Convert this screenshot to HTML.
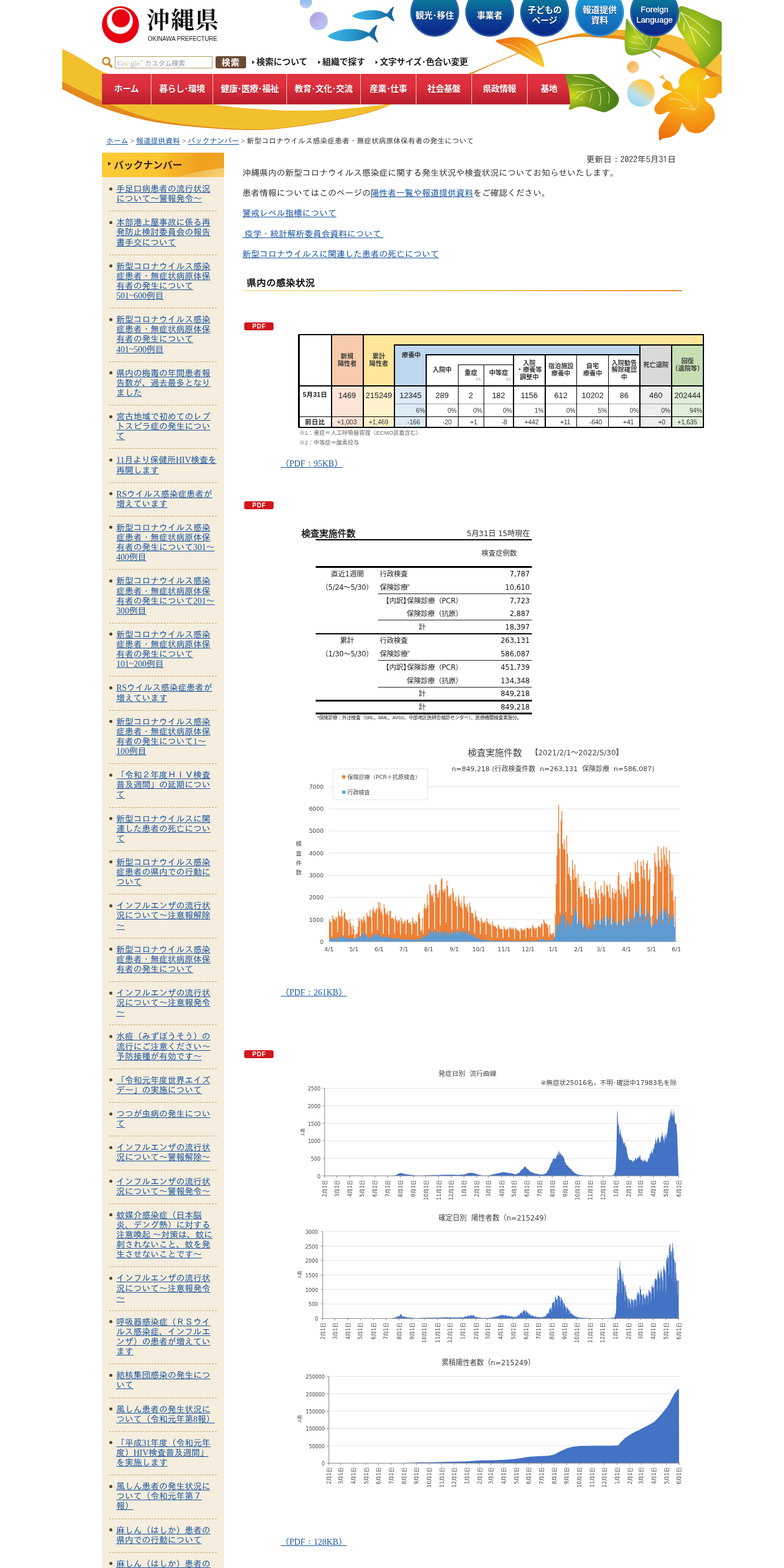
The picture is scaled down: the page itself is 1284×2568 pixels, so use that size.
<!DOCTYPE html>
<html lang="ja"><head><meta charset="utf-8"><title>新型コロナウイルス感染症患者・無症状病原体保有者の発生について／沖縄県</title>
<style>
*{box-sizing:border-box;margin:0;padding:0}
html,body{width:1284px;height:2568px;overflow:hidden;background:#fff}
body{position:relative;font-family:"Liberation Serif","IPAGothic",serif;font-size:14px;color:#333;line-height:16px}
a{color:#17539f;text-decoration:underline}
.abs{position:absolute}
.g{font-family:"IPAGothic","Liberation Serif",serif}
.sans{font-family:"Liberation Sans","Noto Sans CJK JP",sans-serif}
.nb{white-space:nowrap}
#hdr{position:absolute;left:0;top:0;width:1284px;height:250px;overflow:hidden}
#hdr svg{position:absolute;left:0;top:0}
.logo-t{position:absolute;left:240px;top:5px;font-family:"Liberation Serif","Noto Serif CJK SC",serif;font-weight:700;font-size:38px;line-height:56px;letter-spacing:2px;color:#111;white-space:nowrap}
.logo-e{position:absolute;left:242px;top:57px;font-family:"Liberation Sans","Noto Sans CJK JP",sans-serif;font-size:10px;line-height:14px;color:#222;white-space:nowrap;letter-spacing:-.15px}
.sbox{position:absolute;left:188px;top:92px;width:160px;height:20px;border:1px solid #b59c63;background:#fff;font-size:13px;line-height:15px;color:#8a8f99;white-space:nowrap;padding-left:3px;overflow:hidden}
.sbtn{position:absolute;left:353px;top:92px;width:50px;height:20px;border-radius:3px;background:#6c4a36;color:#fff;font-family:"Liberation Sans","Noto Sans CJK JP",sans-serif;font-weight:bold;font-size:14px;line-height:20px;text-align:center;letter-spacing:1px}
.hl{position:absolute;top:91px;font-family:"Liberation Sans","Noto Sans CJK JP",sans-serif;font-weight:bold;font-size:14px;line-height:21px;color:#222;white-space:nowrap}
.hl:before{content:"";position:absolute;left:-7px;top:8px;border-left:4px solid #222;border-top:3px solid transparent;border-bottom:3px solid transparent}
.nav{position:absolute;top:121px;height:50px;background:linear-gradient(#e03240 0%,#dc2e3c 45%,#c52532 75%,#b8202c 100%);color:#fff;font-family:"Liberation Sans","Noto Sans CJK JP",sans-serif;font-weight:bold;font-size:14px;line-height:48px;text-align:center;white-space:nowrap;letter-spacing:-.4px;text-shadow:0 1px 1px rgba(120,0,10,.6)}
.cb{position:absolute;top:-20px;width:80px;height:80px;border-radius:40px;background:linear-gradient(#0c7c9e 0%,#0b7398 28%,#0a5496 52%,#0a3590 75%,#0a2484 100%);box-shadow:inset 0 0 0 2.5px rgba(52,108,178,.75)}
.cb.on{background:linear-gradient(#1c9ad2 0%,#1a92d0 30%,#1478c4 60%,#1060b4 100%);box-shadow:inset 0 0 0 2.5px rgba(60,160,220,.8)}
.cbt{position:absolute;width:80px;text-align:center;color:#fff;font-family:"Liberation Sans","Noto Sans CJK JP",sans-serif;font-weight:bold;font-size:14px;line-height:17px;white-space:nowrap;text-shadow:0 1px 1px rgba(0,10,60,.7)}
#bc{position:absolute;left:174px;top:223px;font-size:12px;line-height:16px;color:#333;white-space:nowrap}

#side{position:absolute;left:167px;top:250px;width:200px;height:2318px;background:#f5eddd;overflow:hidden}
#side h2{position:absolute;left:0;top:0;width:200px;height:40px;background:linear-gradient(100deg,#fdc935 0%,#fdc733 45%,#f6b128 62%,#efa01f 80%,#f0a624 100%);font-family:"Liberation Sans","Noto Sans CJK JP",sans-serif;font-weight:bold;font-size:16px;line-height:42px;color:#3a2410;padding-left:19.5px;white-space:nowrap;letter-spacing:0;overflow:hidden}
#side h2 i{position:absolute;left:10px;top:15px;border-left:5px solid #3a2410;border-top:3px solid transparent;border-bottom:3px solid transparent}
#side h2 b{position:absolute;left:78px;top:28px;width:200px;height:60px;border-radius:50%/50%;background:linear-gradient(90deg,rgba(253,215,110,.0),rgba(250,218,140,.85) 70%);transform:rotate(-9deg)}
#side ul{position:absolute;left:12px;top:41px;width:176px;list-style:none}
#side li{position:relative;padding:11px 0 11px 11.5px;border-bottom:1px dashed #c9a161;line-height:16.13px;font-size:14px;white-space:nowrap}
#side li:before{content:"";position:absolute;left:0;top:15.5px;width:5px;height:5px;border-radius:50%;background:#5b3d2b}

.ln{position:absolute;left:397px;height:16px;line-height:16px;font-size:14px;white-space:nowrap;color:#333}
#upd{position:absolute;left:801px;width:306px;top:252.7px;text-align:right;font-size:14px;line-height:16px;white-space:nowrap;color:#333}
#h2{position:absolute;left:397px;top:451px;width:720px;height:26px;font-family:"IPAGothic","Liberation Serif",serif;font-weight:bold;font-size:16px;line-height:24px;color:#111;padding-left:7px;white-space:nowrap}
#h2:after{content:"";position:absolute;left:0;top:24px;width:720px;height:2px;background:linear-gradient(90deg,#f5e6a8 0%,#f3dc80 34%,#f0b444 69%,#e8902e 100%)}
.pdfi{position:absolute;left:400px;width:48px;height:13px;border-radius:3px;background:#d2161c;color:#fff;font-family:"Liberation Sans",sans-serif;font-weight:bold;font-size:10px;line-height:13px;text-align:center;letter-spacing:.8px;padding-left:1px}
.pdfl{position:absolute;left:460px;height:16px;line-height:16px;font-size:14px;white-space:nowrap}

.t{position:absolute;white-space:nowrap;font-family:"DejaVu Sans","Noto Sans CJK JP",sans-serif;color:#222}
.tj{position:absolute;white-space:nowrap;font-family:"Liberation Sans","Noto Sans CJK JP",sans-serif;color:#222}
.bx{position:absolute}

#cv{position:absolute;left:0;top:1200px}
#cv text{font-family:"DejaVu Sans","Noto Sans CJK JP",sans-serif;fill:#444}
</style></head>
<body>
<div id="hdr">
<svg width="1284" height="250" viewBox="0 0 1284 250">
<defs>
<clipPath id="hc"><rect x="102" y="0" width="1080" height="250"/></clipPath>
<linearGradient id="gFish" x1="0" y1="0" x2="1" y2="0"><stop offset="0" stop-color="#3fb4e2"/><stop offset=".45" stop-color="#2a9bd0"/><stop offset="1" stop-color="#155f94"/></linearGradient>
<linearGradient id="gB1" x1="0" y1="0" x2="0" y2="1"><stop offset="0" stop-color="#7fb0e8"/><stop offset="1" stop-color="#b9d4f4"/></linearGradient>
<linearGradient id="gB2" x1="0" y1="0" x2="1" y2="1"><stop offset="0" stop-color="#b79be0"/><stop offset="1" stop-color="#b9d0f4"/></linearGradient>
<linearGradient id="gB3" x1="0" y1="0" x2="1" y2="1"><stop offset="0" stop-color="#f8a94a"/><stop offset="1" stop-color="#fbd9a0"/></linearGradient>
<linearGradient id="gB4" x1=".85" y1="0" x2=".2" y2="1"><stop offset="0" stop-color="#fdc236"/><stop offset=".3" stop-color="#f8cf66"/><stop offset=".62" stop-color="#bfe0ea"/><stop offset="1" stop-color="#8fd6f6"/></linearGradient>
<linearGradient id="gOL" x1="0" y1="0" x2="1" y2="1"><stop offset="0" stop-color="#ee6a10"/><stop offset=".45" stop-color="#f59a18"/><stop offset="1" stop-color="#f6d224"/></linearGradient>
<radialGradient id="gGL" cx=".12" cy=".58" r=".85"><stop offset="0" stop-color="#cfdc1a"/><stop offset=".4" stop-color="#7a9f1a"/><stop offset=".75" stop-color="#5a8c1a"/><stop offset="1" stop-color="#4a7f18"/></radialGradient>
<radialGradient id="gGL2" cx=".3" cy=".5" r=".85"><stop offset="0" stop-color="#c6d61e"/><stop offset=".45" stop-color="#94b81e"/><stop offset=".8" stop-color="#6a9e1c"/><stop offset="1" stop-color="#55901c"/></radialGradient>
<radialGradient id="gGL3" cx=".3" cy=".55" r=".8"><stop offset="0" stop-color="#c6d81e"/><stop offset=".5" stop-color="#7fae20"/><stop offset="1" stop-color="#4f8f1e"/></radialGradient>
<radialGradient id="gHib" gradientUnits="userSpaceOnUse" cx="1131" cy="138" r="105"><stop offset="0" stop-color="#f4cf12"/><stop offset=".35" stop-color="#f6b117"/><stop offset=".7" stop-color="#f38a12"/><stop offset="1" stop-color="#ec6408"/></radialGradient>
<linearGradient id="gBand" gradientUnits="userSpaceOnUse" x1="900" y1="60" x2="1182" y2="120"><stop offset="0" stop-color="#f3a320"/><stop offset=".5" stop-color="#f5b731"/><stop offset="1" stop-color="#f7c23c"/></linearGradient>
</defs>
<g clip-path="url(#hc)">
<path d="M102.0 80.0 C105.2 81.7 114.0 86.1 121.0 90.0 C128.0 93.9 136.3 99.0 144.0 103.5 C151.7 108.0 152.7 110.8 167.0 117.0 C181.3 123.2 207.8 133.8 230.0 141.0 C252.2 148.2 280.2 155.0 300.0 160.0 C319.8 165.0 334.8 168.3 349.0 171.0 C363.2 173.7 373.2 174.7 385.0 176.0 C396.8 177.3 407.2 177.8 420.0 178.6 C432.8 179.4 444.5 180.6 462.0 181.0 C479.5 181.4 504.2 181.8 525.0 181.0 C545.8 180.2 568.8 178.2 587.0 176.5 C605.2 174.8 624.3 172.2 634.0 171.0 C643.7 169.8 643.2 169.3 645.0 169.0 L645.0 169.0 C640.8 170.8 629.7 176.2 620.0 179.5 C610.3 182.8 602.8 185.3 587.0 189.0 C571.2 192.7 545.8 198.0 525.0 201.6 C504.2 205.2 479.5 208.4 462.0 210.3 C444.5 212.2 438.8 213.0 420.0 213.0 C401.2 213.0 377.3 212.5 349.0 210.2 C320.7 207.9 280.3 204.8 250.0 199.2 C219.7 193.5 191.7 185.1 167.0 176.3 C142.3 167.5 112.8 151.3 102.0 146.3Z" fill="#e28a1e"/>
<path d="M102.0 80.0 C105.2 81.7 114.0 86.1 121.0 90.0 C128.0 93.9 136.3 99.0 144.0 103.5 C151.7 108.0 152.7 110.8 167.0 117.0 C181.3 123.2 207.8 133.8 230.0 141.0 C252.2 148.2 280.2 155.0 300.0 160.0 C319.8 165.0 334.8 168.3 349.0 171.0 C363.2 173.7 373.2 174.7 385.0 176.0 C396.8 177.3 407.2 177.8 420.0 178.6 C432.8 179.4 444.5 180.6 462.0 181.0 C479.5 181.4 504.2 181.8 525.0 181.0 C545.8 180.2 568.8 178.2 587.0 176.5 C605.2 174.8 624.3 172.2 634.0 171.0 C643.7 169.8 643.2 169.3 645.0 169.0 L645.0 169.0 C640.8 170.6 629.7 175.5 620.0 178.7 C610.3 181.9 602.8 184.3 587.0 188.0 C571.2 191.7 545.8 197.0 525.0 200.6 C504.2 204.2 479.5 207.4 462.0 209.3 C444.5 211.2 438.8 212.2 420.0 212.0 C401.2 211.8 377.3 211.1 349.0 208.3 C320.7 205.5 280.3 202.2 250.0 195.0 C219.7 187.8 191.7 175.2 167.0 165.0 C142.3 154.8 112.8 138.9 102.0 133.7Z" fill="#f3c02d"/>
<path d="M760.0 124.0 C766.7 121.2 785.5 113.2 800.0 107.0 C814.5 100.8 833.3 92.7 847.0 87.0 C860.7 81.3 870.2 77.0 882.0 72.8 C893.8 68.6 906.8 65.0 918.0 62.0 C929.2 59.0 937.8 56.9 949.0 55.0 C960.2 53.1 973.0 51.5 985.0 50.5 C997.0 49.5 1008.5 49.0 1021.0 49.0 C1033.5 49.0 1047.0 49.1 1060.0 50.5 C1073.0 51.9 1089.9 55.6 1099.0 57.6 C1108.1 59.6 1106.1 59.4 1114.6 62.3 C1123.1 65.2 1138.4 70.2 1150.0 75.0 C1161.6 79.8 1178.3 88.6 1184.0 91.3 L1184.0 139.0 C1181.5 137.5 1175.3 133.9 1169.0 130.0 C1162.7 126.0 1152.5 119.3 1146.0 115.3 C1139.5 111.3 1137.8 110.2 1130.0 105.9 C1122.2 101.6 1108.8 94.0 1099.0 89.6 C1089.2 85.2 1084.0 83.4 1071.0 79.4 C1058.0 75.4 1033.5 68.2 1021.0 65.4 C1008.5 62.6 1008.0 63.5 996.0 62.7 C984.0 61.9 962.0 60.0 949.0 60.4 C936.0 60.8 929.2 62.6 918.0 65.0 C906.8 67.3 893.8 70.6 882.0 74.5 C870.2 78.4 860.7 82.8 847.0 88.5 C833.3 94.2 813.8 102.4 800.0 108.6 C786.2 114.8 770.0 122.7 764.0 125.5Z" fill="#e68a1c"/>
<path d="M949.0 55.0 C955.0 54.2 973.0 51.5 985.0 50.5 C997.0 49.5 1008.5 49.0 1021.0 49.0 C1033.5 49.0 1047.0 49.1 1060.0 50.5 C1073.0 51.9 1089.9 55.6 1099.0 57.6 C1108.1 59.6 1106.1 59.4 1114.6 62.3 C1123.1 65.2 1138.4 70.2 1150.0 75.0 C1161.6 79.8 1178.3 88.6 1184.0 91.3 L1184.0 126.0 C1177.7 122.7 1155.0 110.8 1146.0 105.9 C1137.0 101.0 1137.8 100.5 1130.0 96.6 C1122.2 92.7 1108.8 86.5 1099.0 82.6 C1089.2 78.7 1084.0 77.1 1071.0 73.2 C1058.0 69.3 1034.5 61.7 1021.0 59.2 C1007.5 56.7 1002.0 58.8 990.0 58.4 C978.0 58.0 955.8 57.2 949.0 57.0Z" fill="url(#gBand)"/>
<circle cx="501" cy="4" r="10" fill="url(#gB1)"/>
<circle cx="522" cy="34.5" r="15" fill="url(#gB2)"/>
<circle cx="1036.6" cy="110" r="10" fill="url(#gB3)"/>
<circle cx="1049.5" cy="152.3" r="22.5" fill="url(#gB4)"/>
<path d="M577.2 26.2 C577.2 24.7 583.1 21.8 587.2 20.4 C591.3 19.0 599.4 17.3 604.6 16.9 C609.8 16.5 617.8 17.1 622.1 17.9 C626.4 18.6 630.7 22.3 633.3 21.9 C635.9 21.5 637.7 16.6 639.5 15.0 C641.3 13.4 644.6 10.0 645.0 11.2 C645.4 12.4 641.9 19.3 642.0 22.9 C642.1 26.5 646.5 33.9 645.7 34.9 C645.0 35.9 639.0 30.6 637.0 29.4 C635.0 28.2 635.1 26.6 632.5 26.9 C629.9 27.2 624.2 30.4 619.6 31.2 C615.0 32.0 607.0 32.5 602.1 32.4 C597.2 32.3 590.9 31.3 587.2 30.4 C583.5 29.5 577.2 27.7 577.2 26.2Z" fill="url(#gFish)"/>
<path d="M537.3 59.8 C536.9 57.9 543.2 54.6 547.3 52.8 C551.4 51.0 559.1 48.6 564.7 47.9 C570.3 47.2 579.5 47.3 584.7 47.9 C589.9 48.5 596.6 50.9 599.6 51.8 C602.6 52.7 602.9 54.5 604.6 53.6 C606.3 52.7 608.8 48.0 610.8 46.1 C612.8 44.2 617.3 39.6 617.8 41.1 C618.3 42.6 613.9 51.8 614.1 56.1 C614.3 60.4 619.8 68.9 619.1 69.8 C618.4 70.7 612.0 63.9 609.6 62.3 C607.2 60.7 606.4 58.8 603.4 59.3 C600.4 59.8 594.8 64.0 589.7 65.3 C584.6 66.6 575.7 67.8 569.7 67.8 C563.7 67.8 554.7 66.5 549.8 65.3 C544.9 64.1 537.7 61.7 537.3 59.8Z" fill="url(#gFish)"/>
<path d="M812.0 67.3 C811.6 65.2 819.9 64.6 824.5 63.6 C829.1 62.6 833.6 61.3 839.4 61.1 C845.2 60.9 853.6 60.8 859.4 62.3 C865.2 63.8 870.1 66.1 874.3 69.8 C878.4 73.5 881.7 79.7 884.3 84.7 C886.9 89.7 888.7 95.5 889.8 99.7 C890.9 103.9 892.1 108.7 890.8 109.7 C889.5 110.7 885.4 107.8 881.8 105.9 C878.2 104.0 875.1 101.7 869.3 98.4 C863.5 95.1 853.9 89.7 846.9 86.0 C839.9 82.3 832.8 79.1 827.0 76.0 C821.2 72.9 812.4 69.4 812.0 67.3Z" fill="url(#gOL)"/>
<path d="M824.5 71.0 Q849.4 74.8 884.3 103.4" fill="none" stroke="#fff" stroke-width=".8" opacity=".8"/>
<path d="M851.9 72.3 Q864.4 77.3 871.8 87.2" fill="none" stroke="#fff" stroke-width=".7" opacity=".7"/>
<path d="M1113.1 10.9 C1116.2 8.7 1121.6 11.6 1127.1 13.2 C1132.5 14.8 1139.6 17.5 1145.8 20.2 C1152.0 22.9 1158.4 26.7 1164.5 29.6 C1170.6 32.5 1179.0 32.5 1182.4 37.4 C1185.8 42.3 1184.7 51.9 1184.7 59.2 C1184.7 66.5 1185.0 74.8 1182.4 81.0 C1179.8 87.2 1174.3 91.3 1169.1 96.6 C1163.9 101.8 1155.6 112.5 1151.2 112.5 C1146.8 112.5 1146.1 102.4 1142.6 96.6 C1139.1 90.8 1134.1 83.9 1130.2 77.9 C1126.3 71.9 1122.7 66.2 1119.3 60.7 C1115.9 55.2 1111.7 50.9 1109.9 45.2 C1108.1 39.5 1107.9 32.2 1108.4 26.5 C1108.9 20.8 1110.0 13.1 1113.1 10.9Z" fill="url(#gGL2)"/>
<path d="M1114.6 20.2 Q1130.2 38.9 1139.5 73.2" fill="none" stroke="#f6fac8" stroke-width="1.2" opacity=".95"/>
<path d="M1114.6 20.2 Q1138.0 31.2 1161.3 54.5" fill="none" stroke="#f6fac8" stroke-width="1.2" opacity=".95"/>
<path d="M1130.2 43.6 Q1147.3 54.5 1162.9 76.3" fill="none" stroke="#f6fac8" stroke-width="1.2" opacity=".95"/>
<path d="M1113.8 21.8 Q1113.1 28.0 1111.5 36.6" fill="none" stroke="#f6fac8" stroke-width="1.2" opacity=".95"/>
<path d="M1120.8 35.8 Q1120.1 43.6 1119.3 49.8" fill="none" stroke="#f6fac8" stroke-width="1.2" opacity=".95"/>
<path d="M1026.1 30.8 C1027.6 29.8 1030.3 35.5 1033.6 38.9 C1036.9 42.3 1040.9 47.8 1046.1 51.4 C1051.3 55.0 1059.1 58.9 1064.8 60.7 C1070.5 62.5 1078.2 60.7 1080.3 62.3 C1082.4 63.9 1078.5 67.5 1077.2 70.1 C1075.9 72.7 1074.4 75.8 1072.6 77.9 C1070.8 80.0 1069.7 81.0 1066.3 82.6 C1062.9 84.2 1057.5 86.2 1052.3 87.5 C1047.1 88.8 1039.5 90.8 1035.2 90.7 C1030.9 90.7 1028.5 89.3 1026.6 87.2 C1024.6 85.1 1024.1 82.1 1023.5 77.9 C1022.9 73.8 1022.8 67.8 1023.0 62.3 C1023.2 56.8 1024.1 50.5 1024.6 45.2 C1025.1 40.0 1024.6 31.9 1026.1 30.8Z" fill="url(#gGL3)"/>
<path d="M1066.3 82.2 L1081.9 94.4" stroke="#5a9420" stroke-width="1.3" fill="none"/>
<path d="M1028.2 33.5 Q1044.5 59.2 1066.6 82.6" fill="none" stroke="#f4f8c0" stroke-width=".8" opacity=".9"/>
<path d="M1035.2 59.2 Q1044.5 60.7 1052.3 65.4" fill="none" stroke="#f4f8c0" stroke-width=".8" opacity=".9"/>
<path d="M1031.3 67.8 Q1043.0 72.4 1055.4 72.4" fill="none" stroke="#f4f8c0" stroke-width=".8" opacity=".9"/>
<path d="M1028.9 77.1 Q1043.0 81.8 1063.2 81.0" fill="none" stroke="#f4f8c0" stroke-width=".8" opacity=".9"/>
<path d="M1051.5 54.5 Q1052.3 59.2 1051.5 61.5" fill="none" stroke="#f4f8c0" stroke-width=".8" opacity=".9"/>
<path d="M1059.3 58.4 Q1059.3 63.9 1057.8 67.0" fill="none" stroke="#f4f8c0" stroke-width=".8" opacity=".9"/>
<path d="M1067.6 60.7 Q1066.3 70.1 1064.5 77.9" fill="none" stroke="#f4f8c0" stroke-width=".8" opacity=".9"/>
<path d="M1112.1 131.4 C1112.5 129.8 1113.2 127.1 1114.2 125.3 C1115.2 123.5 1116.4 122.3 1118.2 120.8 C1120.0 119.3 1122.7 117.7 1124.8 116.2 C1126.9 114.7 1128.5 112.9 1130.9 111.9 C1133.3 111.0 1136.3 110.6 1139.0 110.5 C1141.7 110.4 1144.5 110.8 1147.1 111.5 C1149.7 112.2 1153.0 113.5 1154.7 115.0 C1156.4 116.5 1157.3 118.3 1157.4 120.2 C1157.5 122.1 1156.2 124.4 1155.2 126.3 C1154.2 128.2 1150.6 131.4 1151.6 131.6 C1152.6 131.8 1157.9 128.6 1161.2 127.5 C1164.5 126.5 1167.9 125.5 1171.4 125.3 C1175.0 125.1 1180.6 123.9 1182.5 126.1 C1184.4 128.3 1183.0 134.2 1183.0 138.5 C1183.0 142.8 1183.6 149.2 1182.5 151.6 C1181.4 154.0 1178.2 151.8 1176.4 153.2 C1174.6 154.5 1173.9 158.4 1171.4 159.7 C1168.9 161.0 1164.1 160.9 1161.2 160.9 C1158.3 160.9 1154.8 158.9 1154.2 159.9 C1153.6 160.9 1155.9 164.6 1157.7 166.8 C1159.5 169.0 1163.3 170.4 1165.3 173.1 C1167.3 175.8 1169.0 179.7 1169.9 183.0 C1170.8 186.3 1171.3 190.1 1170.6 193.1 C1169.9 196.1 1167.9 198.5 1165.8 201.2 C1163.7 203.9 1160.2 206.9 1157.7 209.3 C1155.2 211.7 1153.9 213.9 1151.1 215.4 C1148.3 216.9 1144.4 217.9 1141.0 218.1 C1137.6 218.3 1133.6 217.5 1130.9 216.6 C1128.2 215.7 1126.5 214.3 1124.8 212.6 C1123.1 210.9 1122.0 208.4 1120.7 206.5 C1119.4 204.6 1117.9 201.0 1116.9 201.2 C1115.9 201.4 1115.8 205.1 1114.7 207.5 C1113.7 209.9 1112.6 212.9 1110.6 215.4 C1108.6 217.9 1105.4 220.8 1102.5 222.5 C1099.6 224.2 1096.3 225.0 1093.4 225.7 C1090.5 226.4 1087.5 226.1 1085.3 226.8 C1083.1 227.5 1081.0 230.9 1080.0 230.0 C1079.0 229.1 1079.4 224.1 1079.2 221.5 C1079.0 218.9 1078.2 217.1 1078.7 214.4 C1079.2 211.7 1080.7 208.3 1082.3 205.3 C1083.9 202.3 1086.3 199.2 1088.3 196.2 C1090.3 193.2 1092.8 189.5 1094.4 187.3 C1096.0 185.1 1098.4 183.7 1097.7 183.2 C1097.0 182.7 1092.8 183.5 1090.4 184.2 C1088.0 184.9 1085.8 187.0 1083.3 187.3 C1080.8 187.7 1077.3 187.5 1075.4 186.3 C1073.5 185.1 1072.5 182.2 1072.1 180.0 C1071.7 177.8 1072.0 175.5 1073.2 173.1 C1074.4 170.7 1077.4 168.0 1079.2 165.8 C1081.0 163.6 1081.6 161.8 1083.8 159.9 C1086.0 158.1 1089.6 156.4 1092.4 154.7 C1095.2 153.0 1100.2 151.0 1100.5 149.8 C1100.8 148.6 1096.4 148.3 1094.4 147.6 C1092.4 146.9 1089.9 146.7 1088.3 145.6 C1086.7 144.5 1085.0 142.7 1084.8 141.0 C1084.6 139.3 1086.4 136.8 1087.3 135.4 C1088.2 134.0 1090.5 133.4 1090.4 132.4 C1090.3 131.4 1087.7 130.4 1086.5 129.6 C1085.3 128.8 1084.8 127.9 1083.5 127.5 C1082.2 127.1 1078.3 127.6 1078.4 127.1 C1078.5 126.6 1083.0 125.2 1084.3 124.3 C1085.6 123.4 1086.1 121.4 1086.5 121.8 C1086.9 122.2 1085.9 125.1 1086.5 126.5 C1087.1 127.9 1088.5 129.4 1089.9 130.4 C1091.3 131.4 1093.3 131.4 1094.9 132.4 C1096.5 133.4 1098.6 135.0 1099.7 136.7 C1100.8 138.4 1100.8 140.9 1101.7 142.5 C1102.6 144.1 1103.9 145.8 1105.1 146.1 C1106.3 146.4 1107.8 145.2 1109.1 144.3 C1110.3 143.4 1112.1 142.1 1112.6 140.5 C1113.0 138.9 1111.9 136.4 1111.8 134.9 C1111.7 133.4 1111.7 133.0 1112.1 131.4Z" fill="url(#gHib)"/>
<path d="M1096.4 162.0 Q1118.7 159.7 1137.5 180.5" fill="none" stroke="#fdf0b0" stroke-width="1" opacity=".85"/>
<path d="M1112.6 178.2 Q1124.8 174.4 1136.9 181.2" fill="none" stroke="#fdf0b0" stroke-width="1" opacity=".85"/>
<path d="M1106.6 149.8 Q1126.8 161.8 1138.5 180.0" fill="none" stroke="#fdf0b0" stroke-width="1" opacity=".85"/>
<path d="M1144.0 138.5 Q1141.8 152.6 1144.2 164.8" fill="none" stroke="#fdf0b0" stroke-width="1" opacity=".85"/>
<path d="M1144.2 167.8 Q1141.5 175.9 1137.1 181.2" fill="none" stroke="#fdf0b0" stroke-width="1" opacity=".85"/>
</g>
<circle cx="197.3" cy="40.6" r="30.3" fill="#e60012"/>
<circle cx="196.3" cy="34.3" r="21.3" fill="#fff"/>
<circle cx="198" cy="30" r="14.8" fill="#e60012"/>
<circle cx="174" cy="100" r="5.6" fill="none" stroke="#c8871f" stroke-width="2.6"/>
<path d="M178.2 104.6 L182.6 109.2" stroke="#c8871f" stroke-width="3.4" stroke-linecap="round"/>
</svg>
<div class="logo-t">沖縄県</div>
<div class="logo-e">OKINAWA PREFECTURE</div>
<div class="sbox"><span style="font-family:'Liberation Serif',serif;font-size:13px;letter-spacing:-.2px"><span style="color:#9db4e8">G</span><span style="color:#e8a8a0">o</span><span style="color:#ecd9a0">o</span><span style="color:#9db4e8">g</span><span style="color:#a8d4b0">l</span><span style="color:#e8a8a0">e</span></span><span style="font-size:5px;vertical-align:6px;color:#aaa" class="sans">™</span><span class="sans" style="font-size:11px;color:#8e96a4"> カスタム検索</span></div>
<div class="sbtn">検索</div>
<div class="hl" style="left:420px">検索について</div>
<div class="hl" style="left:528px">組織で探す</div>
<div class="hl" style="left:622px;letter-spacing:-.2px">文字サイズ･色合い変更</div>
<div class="abs" style="left:167px;top:121px;width:770px;height:50px;background:#f6c4c0"></div>
<div class="nav" style="left:167px;width:80px">ホーム</div>
<div class="nav" style="left:248px;width:100px">暮らし･環境</div>
<div class="nav" style="left:349px;width:120px">健康･医療･福祉</div>
<div class="nav" style="left:470px;width:120px">教育･文化･交流</div>
<div class="nav" style="left:591px;width:90px">産業･仕事</div>
<div class="nav" style="left:682px;width:90px">社会基盤</div>
<div class="nav" style="left:773px;width:90px">県政情報</div>
<div class="nav" style="left:864px;width:70px">基地</div>
<svg class="abs" style="left:0;top:0" width="1284" height="250" viewBox="0 0 1284 250">
<clipPath id="lc"><rect x="900" y="121.2" width="130" height="80"/></clipPath>
<path d="M927.4 120.6 C930.5 117.9 940.8 118.8 947.4 118.7 C954.0 118.6 961.1 117.8 967.3 119.9 C973.5 122.0 979.4 127.3 984.8 131.2 C990.2 135.0 995.6 139.4 999.7 143.0 C1003.9 146.6 1007.4 149.8 1009.7 153.0 C1012.0 156.2 1013.7 159.0 1013.7 162.3 C1013.7 165.6 1012.5 169.8 1009.7 172.9 C1007.0 176.1 1000.7 179.4 997.2 181.2 C993.7 183.0 992.2 183.9 988.5 183.7 C984.8 183.5 979.8 181.5 974.8 180.0 C969.8 178.5 963.6 175.6 958.6 174.8 C953.6 174.1 949.3 174.7 944.9 175.5 C940.5 176.3 934.1 180.8 932.2 179.8 C930.3 178.9 933.8 174.8 933.7 169.8 C933.7 164.8 932.7 155.6 931.9 149.8 C931.1 144.0 929.5 139.8 928.7 134.9 C928.0 130.0 924.3 123.3 927.4 120.6Z" fill="url(#gGL)" clip-path="url(#lc)"/>
<path d="M943.6 159.8 Q959.8 144.9 991.0 143.0" fill="none" stroke="#eef3a8" stroke-width="1" opacity=".95"/>
<path d="M938.7 124.3 Q963.6 126.2 982.3 134.9" fill="none" stroke="#eef3a8" stroke-width="1" opacity=".95"/>
<path d="M936.8 139.3 Q957.4 137.4 972.3 140.5" fill="none" stroke="#eef3a8" stroke-width="1" opacity=".95"/>
<path d="M943.6 150.5 Q949.9 149.8 957.4 150.5" fill="none" stroke="#eef3a8" stroke-width="1" opacity=".95"/>
<path d="M941.2 161.7 Q944.9 161.1 947.4 160.1" fill="none" stroke="#eef3a8" stroke-width="1" opacity=".95"/>
<path d="M951.1 164.8 Q953.0 162.9 953.6 161.1" fill="none" stroke="#eef3a8" stroke-width="1" opacity=".95"/>
<path d="M965.5 167.3 Q969.2 158.6 969.8 151.1" fill="none" stroke="#eef3a8" stroke-width="1" opacity=".95"/>
<path d="M982.3 173.5 Q986.0 161.1 981.0 147.4" fill="none" stroke="#eef3a8" stroke-width="1" opacity=".95"/>
<path d="M996.6 169.2 Q999.7 159.8 996.0 150.5" fill="none" stroke="#eef3a8" stroke-width="1" opacity=".95"/>
</svg>
<div class="cb" style="left:672px"></div>
<div class="cbt" style="left:672px;top:17px">観光･移住</div>
<div class="cb" style="left:762px"></div>
<div class="cbt" style="left:762px;top:17px">事業者</div>
<div class="cb" style="left:852px"></div>
<div class="cbt" style="left:852px;top:8px">子どもの<br>ページ</div>
<div class="cb on" style="left:942px"></div>
<div class="cbt" style="left:942px;top:8px">報道提供<br>資料</div>
<div class="cb" style="left:1032px"></div>
<div class="cbt" style="left:1032px;top:8px;font-weight:normal;font-size:13.4px;top:7px;-webkit-text-stroke:.3px #fff">Foreign<br>Language</div>
</div>
<div id="bc"><a href="#">ホーム</a> &gt; <a href="#">報道提供資料</a> &gt; <a href="#">バックナンバー</a> &gt; 新型コロナウイルス感染症患者・無症状病原体保有者の発生について</div>
<div id="side"><h2><i></i><b></b><span style="position:relative">バックナンバー</span></h2><ul>
<li><a href="#">手足口病患者の流行状況<br>について～警報発令～</a></li>
<li><a href="#">本部港上屋事故に係る再<br>発防止検討委員会の報告<br>書手交について</a></li>
<li><a href="#">新型コロナウイルス感染<br>症患者・無症状病原体保<br>有者の発生について<br>501~600例目</a></li>
<li><a href="#">新型コロナウイルス感染<br>症患者・無症状病原体保<br>有者の発生について<br>401~500例目</a></li>
<li><a href="#">県内の梅毒の年間患者報<br>告数が、過去最多となり<br>ました</a></li>
<li><a href="#">宮古地域で初めてのレプ<br>トスピラ症の発生につい<br>て</a></li>
<li><a href="#">11月より保健所HIV検査を<br>再開します</a></li>
<li><a href="#">RSウイルス感染症患者が<br>増えています</a></li>
<li><a href="#">新型コロナウイルス感染<br>症患者・無症状病原体保<br>有者の発生について301～<br>400例目</a></li>
<li><a href="#">新型コロナウイルス感染<br>症患者・無症状病原体保<br>有者の発生について201～<br>300例目</a></li>
<li><a href="#">新型コロナウイルス感染<br>症患者・無症状病原体保<br>有者の発生について<br>101~200例目</a></li>
<li><a href="#">RSウイルス感染症患者が<br>増えています</a></li>
<li><a href="#">新型コロナウイルス感染<br>症患者・無症状病原体保<br>有者の発生について1～<br>100例目</a></li>
<li><a href="#">「令和２年度ＨＩＶ検査<br>普及週間」の延期につい<br>て</a></li>
<li><a href="#">新型コロナウイルスに関<br>連した患者の死亡につい<br>て</a></li>
<li><a href="#">新型コロナウイルス感染<br>症患者の県内での行動に<br>ついて</a></li>
<li><a href="#">インフルエンザの流行状<br>況について～注意報解除<br>～</a></li>
<li><a href="#">新型コロナウイルス感染<br>症患者・無症状病原体保<br>有者の発生について</a></li>
<li><a href="#">インフルエンザの流行状<br>況について～注意報発令<br>～</a></li>
<li><a href="#">水痘（みずぼうそう）の<br>流行にご注意ください～<br>予防接種が有効です～</a></li>
<li><a href="#">「令和元年度世界エイズ<br>デー」の実施について</a></li>
<li><a href="#">つつが虫病の発生につい<br>て</a></li>
<li><a href="#">インフルエンザの流行状<br>況について～警報解除～</a></li>
<li><a href="#">インフルエンザの流行状<br>況について～警報発令～</a></li>
<li><a href="#">蚊媒介感染症（日本脳<br>炎、デング熱）に対する<br>注意喚起 ～対策は、蚊に<br>刺されないこと、蚊を発<br>生させないことです～</a></li>
<li><a href="#">インフルエンザの流行状<br>況について～注意報発令<br>～</a></li>
<li><a href="#">呼吸器感染症（ＲＳウイ<br>ルス感染症、インフルエ<br>ンザ）の患者が増えてい<br>ます</a></li>
<li><a href="#">結核集団感染の発生につ<br>いて</a></li>
<li><a href="#">風しん患者の発生状況に<br>ついて（令和元年第8報）</a></li>
<li><a href="#">「平成31年度（令和元年<br>度）HIV検査普及週間」<br>を実施します</a></li>
<li><a href="#">風しん患者の発生状況に<br>ついて（令和元年第７<br>報）</a></li>
<li><a href="#">麻しん（はしか）患者の<br>県内での行動について</a></li>
<li><a href="#">麻しん（はしか）患者の<br>県内での行動について</a></li>
</ul></div>
<div id="upd">更新日：<span class="g">2022</span>年<span class="g">5</span>月<span class="g">31</span>日</div>
<div class="ln" style="top:275.5px">沖縄県内の新型コロナウイルス感染症に関する発生状況や検査状況についてお知らせいたします。</div>
<div class="ln" style="top:308.5px">患者情報についてはこのページの<a href="#">陽性者一覧や報道提供資料</a>をご確認ください。</div>
<div class="ln" style="top:341.5px"><a href="#">警戒レベル指標について</a></div>
<div class="ln" style="top:375.5px"><a href="#">&nbsp;疫学・統計解析委員会資料について&nbsp;</a></div>
<div class="ln" style="top:408.5px"><a href="#">新型コロナウイルスに関連した患者の死亡について</a></div>
<div id="h2">県内の感染状況</div>
<div class="pdfi" style="top:528px">PDF</div>
<div class="pdfi" style="top:821px">PDF</div>
<div class="pdfi" style="top:1720px">PDF</div>
<div class="pdfl" style="top:751.8px"><a href="#">（PDF：95KB）</a></div>
<div class="pdfl" style="top:1617.8px"><a href="#">（PDF：261KB）</a></div>
<div class="pdfl" style="top:2517.8px"><a href="#">（PDF：128KB）</a></div>
<div class="bx" style="left:542.5px;top:548.2px;width:52.0px;height:83.8px;background:#f8cbad"></div>
<div class="bx" style="left:542.5px;top:632.0px;width:52.0px;height:67.8px;background:#fce4d6"></div>
<div class="bx" style="left:594.5px;top:548.2px;width:557.5px;height:16.8px;background:#ffe699"></div>
<div class="bx" style="left:594.5px;top:548.2px;width:51.8px;height:83.8px;background:#ffe699"></div>
<div class="bx" style="left:594.5px;top:632.0px;width:51.8px;height:67.8px;background:#fff2cc"></div>
<div class="bx" style="left:646.3px;top:565.0px;width:402.0px;height:16.3px;background:#bdd7ee"></div>
<div class="bx" style="left:646.3px;top:565.0px;width:52.0px;height:67.0px;background:#bdd7ee"></div>
<div class="bx" style="left:646.3px;top:632.0px;width:52.0px;height:67.8px;background:#ddebf7"></div>
<div class="bx" style="left:1048.3px;top:565.0px;width:51.9px;height:67.0px;background:#d9d9d9"></div>
<div class="bx" style="left:1048.3px;top:632.0px;width:51.9px;height:67.8px;background:#ededed"></div>
<div class="bx" style="left:1100.2px;top:565.0px;width:51.8px;height:67.0px;background:#c6e0b4"></div>
<div class="bx" style="left:1100.2px;top:632.0px;width:51.8px;height:67.8px;background:#e2efda"></div>
<div class="bx" style="left:646.3px;top:660.7px;width:505.7px;height:0;border-top:1px dotted #444"></div>
<div class="bx" style="left:488.5px;top:547.1px;width:664.5px;height:2.2px;background:#000"></div>
<div class="bx" style="left:488.5px;top:698.7px;width:664.5px;height:2.2px;background:#000"></div>
<div class="bx" style="left:489.5px;top:631.1px;width:662.5px;height:1.8px;background:#000"></div>
<div class="bx" style="left:489.5px;top:681.6px;width:662.5px;height:1.2px;background:#000"></div>
<div class="bx" style="left:645.3px;top:564.0px;width:506.7px;height:2.0px;background:#000"></div>
<div class="bx" style="left:697.3px;top:580.3px;width:351.0px;height:2.0px;background:#000"></div>
<div class="bx" style="left:750.2px;top:596.7px;width:90.6px;height:1.2px;background:#000"></div>
<div class="bx" style="left:488.4px;top:548.2px;width:2.2px;height:151.6px;background:#000"></div>
<div class="bx" style="left:1150.9px;top:548.2px;width:2.2px;height:151.6px;background:#000"></div>
<div class="bx" style="left:541.5px;top:548.2px;width:2.0px;height:151.6px;background:#000"></div>
<div class="bx" style="left:593.5px;top:548.2px;width:2.0px;height:151.6px;background:#000"></div>
<div class="bx" style="left:645.3px;top:565.0px;width:2.0px;height:134.8px;background:#000"></div>
<div class="bx" style="left:697.3px;top:581.3px;width:2.0px;height:118.5px;background:#000"></div>
<div class="bx" style="left:749.6px;top:597.3px;width:1.2px;height:102.5px;background:#000"></div>
<div class="bx" style="left:791.6px;top:597.3px;width:1.2px;height:102.5px;background:#000"></div>
<div class="bx" style="left:839.9px;top:581.3px;width:1.8px;height:118.5px;background:#000"></div>
<div class="bx" style="left:891.8px;top:581.3px;width:1.8px;height:118.5px;background:#000"></div>
<div class="bx" style="left:943.7px;top:581.3px;width:1.8px;height:118.5px;background:#000"></div>
<div class="bx" style="left:995.5px;top:581.3px;width:1.8px;height:118.5px;background:#000"></div>
<div class="bx" style="left:1047.3px;top:565.0px;width:2.0px;height:134.8px;background:#000"></div>
<div class="bx" style="left:1099.2px;top:565.0px;width:2.0px;height:134.8px;background:#000"></div>
<div class="tj" style="top:578.3px;font-size:10.4px;line-height:12px;height:12px;left:468.5px;width:200px;text-align:center;font-weight:bold;color:#3c3c3c">新規</div><div class="tj" style="top:590.0px;font-size:10.4px;line-height:12px;height:12px;left:468.5px;width:200px;text-align:center;font-weight:bold;color:#3c3c3c">陽性者</div>
<div class="tj" style="top:578.3px;font-size:10.4px;line-height:12px;height:12px;left:520.4px;width:200px;text-align:center;font-weight:bold;color:#3c3c3c">累計</div><div class="tj" style="top:590.0px;font-size:10.4px;line-height:12px;height:12px;left:520.4px;width:200px;text-align:center;font-weight:bold;color:#3c3c3c">陽性者</div>
<div class="tj" style="top:575.6px;font-size:10.4px;line-height:12px;height:12px;left:658.0px;font-weight:bold;color:#333">療養中</div>
<div class="tj" style="top:599.7px;font-size:10.4px;line-height:12px;height:12px;left:624.2px;width:200px;text-align:center;font-weight:bold;color:#333">入院中</div>
<div class="tj" style="top:605.3px;font-size:10.4px;line-height:12px;height:12px;left:671.2px;width:200px;text-align:center;font-weight:bold;color:#333">重症</div>
<div class="tj" style="top:617.0px;font-size:5.5px;line-height:8px;height:8px;left:683.0px;width:200px;text-align:center;color:#555">※1</div>
<div class="tj" style="top:605.3px;font-size:10.4px;line-height:12px;height:12px;left:716.5px;width:200px;text-align:center;font-weight:bold;color:#333">中等症</div>
<div class="tj" style="top:617.0px;font-size:5.5px;line-height:8px;height:8px;left:732.0px;width:200px;text-align:center;color:#555">※2</div>
<div class="tj" style="top:589.0px;font-size:10.4px;line-height:12px;height:12px;left:766.8px;width:200px;text-align:center;font-weight:bold;color:#3c3c3c">入院</div><div class="tj" style="top:600.3px;font-size:10.4px;line-height:12px;height:12px;left:766.8px;width:200px;text-align:center;font-weight:bold;color:#3c3c3c">・療養等</div><div class="tj" style="top:611.7px;font-size:10.4px;line-height:12px;height:12px;left:766.8px;width:200px;text-align:center;font-weight:bold;color:#3c3c3c">調整中</div>
<div class="tj" style="top:594.3px;font-size:10.4px;line-height:12px;height:12px;left:818.7px;width:200px;text-align:center;font-weight:bold;color:#3c3c3c">宿泊施設</div><div class="tj" style="top:605.9px;font-size:10.4px;line-height:12px;height:12px;left:818.7px;width:200px;text-align:center;font-weight:bold;color:#3c3c3c">療養中</div>
<div class="tj" style="top:594.3px;font-size:10.4px;line-height:12px;height:12px;left:870.5px;width:200px;text-align:center;font-weight:bold;color:#3c3c3c">自宅</div><div class="tj" style="top:605.9px;font-size:10.4px;line-height:12px;height:12px;left:870.5px;width:200px;text-align:center;font-weight:bold;color:#3c3c3c">療養中</div>
<div class="tj" style="top:589.0px;font-size:10.4px;line-height:12px;height:12px;left:922.3px;width:200px;text-align:center;font-weight:bold;color:#3c3c3c">入院勧告</div><div class="tj" style="top:600.3px;font-size:10.4px;line-height:12px;height:12px;left:922.3px;width:200px;text-align:center;font-weight:bold;color:#3c3c3c">解除確認</div><div class="tj" style="top:611.7px;font-size:10.4px;line-height:12px;height:12px;left:922.3px;width:200px;text-align:center;font-weight:bold;color:#3c3c3c">中</div>
<div class="tj" style="top:591.8px;font-size:10.4px;line-height:12px;height:12px;left:974.2px;width:200px;text-align:center;font-weight:bold;color:#3c3c3c">死亡退院</div>
<div class="tj" style="top:586.2px;font-size:10.4px;line-height:12px;height:12px;left:1026.1px;width:200px;text-align:center;font-weight:bold;color:#3c3c3c">回復</div><div class="tj" style="top:597.7px;font-size:10.4px;line-height:12px;height:12px;left:1026.1px;width:200px;text-align:center;font-weight:bold;color:#3c3c3c">（退院等）</div>
<div class="tj" style="top:641.4px;font-size:10.4px;line-height:12px;height:12px;left:416.0px;width:200px;text-align:center;font-weight:bold;color:#222;letter-spacing:.4px">5月31日</div>
<div class="tj" style="top:639.6px;font-size:13px;line-height:16px;height:16px;left:468.5px;width:200px;text-align:center;color:#222">1469</div>
<div class="tj" style="top:639.6px;font-size:13px;line-height:16px;height:16px;left:520.4px;width:200px;text-align:center;color:#222">215249</div>
<div class="tj" style="top:639.6px;font-size:13px;line-height:16px;height:16px;left:572.3px;width:200px;text-align:center;color:#222">12345</div>
<div class="tj" style="top:639.6px;font-size:13px;line-height:16px;height:16px;left:624.2px;width:200px;text-align:center;color:#222">289</div>
<div class="tj" style="top:639.6px;font-size:13px;line-height:16px;height:16px;left:671.2px;width:200px;text-align:center;color:#222">2</div>
<div class="tj" style="top:639.6px;font-size:13px;line-height:16px;height:16px;left:716.5px;width:200px;text-align:center;color:#222">182</div>
<div class="tj" style="top:639.6px;font-size:13px;line-height:16px;height:16px;left:766.8px;width:200px;text-align:center;color:#222">1156</div>
<div class="tj" style="top:639.6px;font-size:13px;line-height:16px;height:16px;left:818.7px;width:200px;text-align:center;color:#222">612</div>
<div class="tj" style="top:639.6px;font-size:13px;line-height:16px;height:16px;left:870.5px;width:200px;text-align:center;color:#222">10202</div>
<div class="tj" style="top:639.6px;font-size:13px;line-height:16px;height:16px;left:922.3px;width:200px;text-align:center;color:#222">86</div>
<div class="tj" style="top:639.6px;font-size:13px;line-height:16px;height:16px;left:974.2px;width:200px;text-align:center;color:#222">460</div>
<div class="tj" style="top:639.6px;font-size:13px;line-height:16px;height:16px;left:1026.1px;width:200px;text-align:center;color:#222">202444</div>
<div class="tj" style="top:666.6px;font-size:10.3px;line-height:12px;height:12px;left:496.1px;width:200px;text-align:right;color:#333">6%</div>
<div class="tj" style="top:666.6px;font-size:10.3px;line-height:12px;height:12px;left:548.0px;width:200px;text-align:right;color:#333">0%</div>
<div class="tj" style="top:666.6px;font-size:10.3px;line-height:12px;height:12px;left:590.0px;width:200px;text-align:right;color:#333">0%</div>
<div class="tj" style="top:666.6px;font-size:10.3px;line-height:12px;height:12px;left:638.6px;width:200px;text-align:right;color:#333">0%</div>
<div class="tj" style="top:666.6px;font-size:10.3px;line-height:12px;height:12px;left:690.5px;width:200px;text-align:right;color:#333">1%</div>
<div class="tj" style="top:666.6px;font-size:10.3px;line-height:12px;height:12px;left:742.4px;width:200px;text-align:right;color:#333">0%</div>
<div class="tj" style="top:666.6px;font-size:10.3px;line-height:12px;height:12px;left:794.2px;width:200px;text-align:right;color:#333">5%</div>
<div class="tj" style="top:666.6px;font-size:10.3px;line-height:12px;height:12px;left:846.1px;width:200px;text-align:right;color:#333">0%</div>
<div class="tj" style="top:666.6px;font-size:10.3px;line-height:12px;height:12px;left:898.0px;width:200px;text-align:right;color:#333">0%</div>
<div class="tj" style="top:666.6px;font-size:10.3px;line-height:12px;height:12px;left:949.8px;width:200px;text-align:right;color:#333">94%</div>
<div class="tj" style="top:685.8px;font-size:10.4px;line-height:12px;height:12px;left:416.0px;width:200px;text-align:center;font-weight:bold;color:#222;letter-spacing:.6px">前日比</div>
<div class="tj" style="top:685.9px;font-size:10.4px;line-height:12px;height:12px;left:384.2px;width:200px;text-align:right;color:#333">+1,003</div>
<div class="tj" style="top:685.9px;font-size:10.4px;line-height:12px;height:12px;left:436.0px;width:200px;text-align:right;color:#333">+1,469</div>
<div class="tj" style="top:685.9px;font-size:10.4px;line-height:12px;height:12px;left:488.0px;width:200px;text-align:right;color:#333">-166</div>
<div class="tj" style="top:685.9px;font-size:10.4px;line-height:12px;height:12px;left:539.9px;width:200px;text-align:right;color:#333">-20</div>
<div class="tj" style="top:685.9px;font-size:10.4px;line-height:12px;height:12px;left:581.9px;width:200px;text-align:right;color:#333">+1</div>
<div class="tj" style="top:685.9px;font-size:10.4px;line-height:12px;height:12px;left:630.5px;width:200px;text-align:right;color:#333">-8</div>
<div class="tj" style="top:685.9px;font-size:10.4px;line-height:12px;height:12px;left:682.4px;width:200px;text-align:right;color:#333">+442</div>
<div class="tj" style="top:685.9px;font-size:10.4px;line-height:12px;height:12px;left:734.3px;width:200px;text-align:right;color:#333">+11</div>
<div class="tj" style="top:685.9px;font-size:10.4px;line-height:12px;height:12px;left:786.1px;width:200px;text-align:right;color:#333">-640</div>
<div class="tj" style="top:685.9px;font-size:10.4px;line-height:12px;height:12px;left:838.0px;width:200px;text-align:right;color:#333">+41</div>
<div class="tj" style="top:685.9px;font-size:10.4px;line-height:12px;height:12px;left:889.9px;width:200px;text-align:right;color:#333">+0</div>
<div class="tj" style="top:685.9px;font-size:10.4px;line-height:12px;height:12px;left:941.7px;width:200px;text-align:right;color:#333">+1,635</div>
<div class="tj" style="top:702.9px;font-size:9.3px;line-height:12px;height:12px;left:490.0px;color:#666">※1：重症＝人工呼吸器管理（ECMO装着含む）</div>
<div class="tj" style="top:719.4px;font-size:9.3px;line-height:12px;height:12px;left:490.0px;color:#666">※2：中等症＝酸素投与</div>
<div class="tj" style="top:863.7px;font-size:14.8px;line-height:20px;height:20px;left:493.5px;color:#111;-webkit-text-stroke:.45px #111">検査実施件数</div>
<div class="t" style="top:864.5px;font-size:12.4px;line-height:18px;height:18px;left:667.6px;width:200px;text-align:right;color:#333;letter-spacing:-.2px">5月31日 15時現在</div>
<div class="bx" style="left:516.5px;top:883.0px;width:354.7px;height:2.4px;background:#000"></div>
<div class="tj" style="top:897.8px;font-size:11.6px;line-height:16px;height:16px;left:717.4px;width:200px;text-align:center;color:#333">検査症例数</div>
<div class="bx" style="left:516.5px;top:926.9px;width:354.7px;height:3.0px;background:#000"></div>
<div class="t" style="top:931.7px;font-size:11.6px;line-height:16px;height:16px;left:469.0px;width:200px;text-align:center;color:#222">直近1週間</div>
<div class="t" style="top:953.6px;font-size:11.6px;line-height:16px;height:16px;left:468.5px;width:200px;text-align:center;color:#222;letter-spacing:-.2px">（5/24～5/30）</div>
<div class="t" style="top:931.7px;font-size:11.6px;line-height:16px;height:16px;left:622.0px;color:#222;letter-spacing:-.2px">行政検査</div><div class="t" style="top:931.7px;font-size:11.5px;line-height:16px;height:16px;left:667.6px;width:200px;text-align:right;color:#111">7,787</div>
<div class="t" style="top:953.6px;font-size:11.6px;line-height:16px;height:16px;left:622.0px;color:#222;letter-spacing:-.2px">保険診療<span style="font-size:7px;position:relative;top:-4px;line-height:0">*</span></div><div class="t" style="top:953.6px;font-size:11.5px;line-height:16px;height:16px;left:667.6px;width:200px;text-align:right;color:#111">10,610</div>
<div class="bx" style="left:619.3px;top:972.2px;width:251.9px;height:1.0px;background:#222"></div>
<div class="t" style="top:975.6px;font-size:11.6px;line-height:16px;height:16px;left:557.5px;width:200px;text-align:right;color:#222;letter-spacing:-.2px">【内訳<span style="margin-right:-5px">】</span>保険診療（PCR）</div><div class="t" style="top:975.6px;font-size:11.5px;line-height:16px;height:16px;left:667.6px;width:200px;text-align:right;color:#111">7,723</div>
<div class="t" style="top:997.3px;font-size:11.6px;line-height:16px;height:16px;left:557.5px;width:200px;text-align:right;color:#222;letter-spacing:-.2px">保険診療（抗原）</div><div class="t" style="top:997.3px;font-size:11.5px;line-height:16px;height:16px;left:667.6px;width:200px;text-align:right;color:#111">2,887</div>
<div class="bx" style="left:619.3px;top:1015.2px;width:251.9px;height:1.0px;background:#222"></div>
<div class="t" style="top:1019.1px;font-size:11.6px;line-height:16px;height:16px;left:591.5px;width:200px;text-align:center;color:#222;letter-spacing:-.2px">計</div><div class="t" style="top:1019.1px;font-size:11.5px;line-height:16px;height:16px;left:667.6px;width:200px;text-align:right;color:#111">18,397</div>
<div class="bx" style="left:516.5px;top:1037.1px;width:354.7px;height:2.0px;background:#000"></div>
<div class="t" style="top:1041.3px;font-size:11.6px;line-height:16px;height:16px;left:468.5px;width:200px;text-align:center;color:#222">累計</div>
<div class="t" style="top:1063.0px;font-size:11.6px;line-height:16px;height:16px;left:468.5px;width:200px;text-align:center;color:#222;letter-spacing:-.2px">（1/30～5/30）</div>
<div class="t" style="top:1041.3px;font-size:11.6px;line-height:16px;height:16px;left:622.0px;color:#222;letter-spacing:-.2px">行政検査</div><div class="t" style="top:1041.3px;font-size:11.5px;line-height:16px;height:16px;left:667.6px;width:200px;text-align:right;color:#111">263,131</div>
<div class="t" style="top:1063.0px;font-size:11.6px;line-height:16px;height:16px;left:622.0px;color:#222;letter-spacing:-.2px">保険診療<span style="font-size:7px;position:relative;top:-4px;line-height:0">*</span></div><div class="t" style="top:1063.0px;font-size:11.5px;line-height:16px;height:16px;left:667.6px;width:200px;text-align:right;color:#111">586,087</div>
<div class="bx" style="left:619.3px;top:1081.1px;width:251.9px;height:1.0px;background:#222"></div>
<div class="t" style="top:1084.6px;font-size:11.6px;line-height:16px;height:16px;left:557.5px;width:200px;text-align:right;color:#222;letter-spacing:-.2px">【内訳<span style="margin-right:-5px">】</span>保険診療（PCR）</div><div class="t" style="top:1084.6px;font-size:11.5px;line-height:16px;height:16px;left:667.6px;width:200px;text-align:right;color:#111">451,739</div>
<div class="t" style="top:1106.6px;font-size:11.6px;line-height:16px;height:16px;left:557.5px;width:200px;text-align:right;color:#222;letter-spacing:-.2px">保険診療（抗原）</div><div class="t" style="top:1106.6px;font-size:11.5px;line-height:16px;height:16px;left:667.6px;width:200px;text-align:right;color:#111">134,348</div>
<div class="bx" style="left:619.3px;top:1124.6px;width:251.9px;height:1.0px;background:#222"></div>
<div class="t" style="top:1128.3px;font-size:11.6px;line-height:16px;height:16px;left:591.5px;width:200px;text-align:center;color:#222;letter-spacing:-.2px">計</div><div class="t" style="top:1128.3px;font-size:11.5px;line-height:16px;height:16px;left:667.6px;width:200px;text-align:right;color:#111">849,218</div>
<div class="bx" style="left:516.5px;top:1145.7px;width:354.7px;height:3.0px;background:#000"></div>
<div class="t" style="top:1150.2px;font-size:11.6px;line-height:16px;height:16px;left:591.5px;width:200px;text-align:center;color:#222;letter-spacing:-.2px">計</div><div class="t" style="top:1150.2px;font-size:11.5px;line-height:16px;height:16px;left:667.6px;width:200px;text-align:right;color:#111">849,218</div>
<div class="bx" style="left:516.5px;top:1167.4px;width:354.7px;height:3.0px;background:#000"></div>
<div class="tj" style="top:1169.6px;font-size:7.8px;line-height:12px;height:12px;left:519.5px;color:#222;letter-spacing:-.25px">*保険診療：外注検査（SRL、BML、AVSS、中部地区医師会検診センター）、医療機関検査実施分。</div>
<svg id="cv" width="1284" height="1368" viewBox="0 0 1284 1368">
<path d="M538.9 342.3H1114.0" stroke="#e1e1e1" stroke-width="1" fill="none"/>
<path d="M538.9 306.0H1114.0" stroke="#e1e1e1" stroke-width="1" fill="none"/>
<path d="M538.9 269.8H1114.0" stroke="#e1e1e1" stroke-width="1" fill="none"/>
<path d="M538.9 233.5H1114.0" stroke="#e1e1e1" stroke-width="1" fill="none"/>
<path d="M538.9 197.2H1114.0" stroke="#e1e1e1" stroke-width="1" fill="none"/>
<path d="M538.9 160.9H1114.0" stroke="#e1e1e1" stroke-width="1" fill="none"/>
<path d="M538.9 124.7H1114.0" stroke="#e1e1e1" stroke-width="1" fill="none"/>
<path d="M538.9 88.4H1114.0" stroke="#e1e1e1" stroke-width="1" fill="none"/>
<path d="M538.9 342.3V305.6h1.3V342.3M540.2 342.3V309.1h1.3V342.3M541.6 342.3V310.1h1.3V342.3M542.9 342.3V333.7h1.3V342.3M544.2 342.3V299.1h1.3V342.3M545.6 342.3V305.1h1.3V342.3M546.9 342.3V305.6h1.3V342.3M548.2 342.3V307.6h1.3V342.3M549.6 342.3V301.8h1.3V342.3M550.9 342.3V303.3h1.3V342.3M552.3 342.3V326.8h1.3V342.3M553.6 342.3V292.6h1.3V342.3M554.9 342.3V299.2h1.3V342.3M556.3 342.3V301.0h1.3V342.3M557.6 342.3V302.4h1.3V342.3M558.9 342.3V289.0h1.3V342.3M560.3 342.3V300.4h1.3V342.3M561.6 342.3V331.9h1.3V342.3M562.9 342.3V293.6h1.3V342.3M564.3 342.3V295.1h1.3V342.3M565.6 342.3V305.2h1.3V342.3M566.9 342.3V306.5h1.3V342.3M568.3 342.3V307.7h1.3V342.3M569.6 342.3V310.0h1.3V342.3M571.0 342.3V331.3h1.3V342.3M572.3 342.3V305.7h1.3V342.3M573.6 342.3V312.1h1.3V342.3M575.0 342.3V317.2h1.3V342.3M576.3 342.3V330.1h1.3V342.3M577.6 342.3V315.1h1.3V342.3M579.0 342.3V321.5h1.3V342.3M580.3 342.3V336.5h1.3V342.3M581.6 342.3V330.2h1.3V342.3M583.0 342.3V330.2h1.3V342.3M584.3 342.3V328.3h1.3V342.3M585.6 342.3V318.0h1.3V342.3M587.0 342.3V302.9h1.3V342.3M588.3 342.3V307.9h1.3V342.3M589.6 342.3V332.4h1.3V342.3M591.0 342.3V304.3h1.3V342.3M592.3 342.3V307.1h1.3V342.3M593.7 342.3V309.9h1.3V342.3M595.0 342.3V300.2h1.3V342.3M596.3 342.3V305.9h1.3V342.3M597.7 342.3V310.4h1.3V342.3M599.0 342.3V330.1h1.3V342.3M600.3 342.3V295.1h1.3V342.3M601.7 342.3V300.3h1.3V342.3M603.0 342.3V302.2h1.3V342.3M604.3 342.3V299.7h1.3V342.3M605.7 342.3V290.1h1.3V342.3M607.0 342.3V302.6h1.3V342.3M608.3 342.3V327.7h1.3V342.3M609.7 342.3V291.2h1.3V342.3M611.0 342.3V286.4h1.3V342.3M612.3 342.3V292.5h1.3V342.3M613.7 342.3V295.5h1.3V342.3M615.0 342.3V289.6h1.3V342.3M616.4 342.3V287.6h1.3V342.3M617.7 342.3V322.9h1.3V342.3M619.0 342.3V277.0h1.3V342.3M620.4 342.3V287.2h1.3V342.3M621.7 342.3V277.7h1.3V342.3M623.0 342.3V293.5h1.3V342.3M624.4 342.3V289.5h1.3V342.3M625.7 342.3V298.5h1.3V342.3M627.0 342.3V329.2h1.3V342.3M628.4 342.3V281.0h1.3V342.3M629.7 342.3V288.1h1.3V342.3M631.0 342.3V295.5h1.3V342.3M632.4 342.3V297.6h1.3V342.3M633.7 342.3V292.6h1.3V342.3M635.1 342.3V298.9h1.3V342.3M636.4 342.3V331.1h1.3V342.3M637.7 342.3V291.7h1.3V342.3M639.1 342.3V291.5h1.3V342.3M640.4 342.3V304.1h1.3V342.3M641.7 342.3V304.3h1.3V342.3M643.1 342.3V302.6h1.3V342.3M644.4 342.3V306.1h1.3V342.3M645.7 342.3V329.1h1.3V342.3M647.1 342.3V300.2h1.3V342.3M648.4 342.3V306.7h1.3V342.3M649.7 342.3V308.2h1.3V342.3M651.1 342.3V310.6h1.3V342.3M652.4 342.3V306.5h1.3V342.3M653.7 342.3V307.4h1.3V342.3M655.1 342.3V330.4h1.3V342.3M656.4 342.3V302.9h1.3V342.3M657.8 342.3V308.1h1.3V342.3M659.1 342.3V312.3h1.3V342.3M660.4 342.3V312.8h1.3V342.3M661.8 342.3V308.2h1.3V342.3M663.1 342.3V308.9h1.3V342.3M664.4 342.3V330.6h1.3V342.3M665.8 342.3V306.9h1.3V342.3M667.1 342.3V305.7h1.3V342.3M668.4 342.3V311.4h1.3V342.3M669.8 342.3V311.3h1.3V342.3M671.1 342.3V309.4h1.3V342.3M672.4 342.3V314.7h1.3V342.3M673.8 342.3V330.3h1.3V342.3M675.1 342.3V302.9h1.3V342.3M676.5 342.3V309.7h1.3V342.3M677.8 342.3V312.7h1.3V342.3M679.1 342.3V312.7h1.3V342.3M680.5 342.3V308.2h1.3V342.3M681.8 342.3V310.5h1.3V342.3M683.1 342.3V333.4h1.3V342.3M684.5 342.3V297.6h1.3V342.3M685.8 342.3V294.1h1.3V342.3M687.1 342.3V303.8h1.3V342.3M688.5 342.3V325.1h1.3V342.3M689.8 342.3V322.4h1.3V342.3M691.1 342.3V304.0h1.3V342.3M692.5 342.3V329.3h1.3V342.3M693.8 342.3V287.4h1.3V342.3M695.1 342.3V279.9h1.3V342.3M696.5 342.3V288.4h1.3V342.3M697.8 342.3V286.5h1.3V342.3M699.2 342.3V264.3h1.3V342.3M700.5 342.3V282.0h1.3V342.3M701.8 342.3V320.9h1.3V342.3M703.2 342.3V249.1h1.3V342.3M704.5 342.3V260.0h1.3V342.3M705.8 342.3V265.7h1.3V342.3M707.2 342.3V268.3h1.3V342.3M708.5 342.3V263.5h1.3V342.3M709.8 342.3V277.0h1.3V342.3M711.2 342.3V321.7h1.3V342.3M712.5 342.3V249.1h1.3V342.3M713.8 342.3V249.1h1.3V342.3M715.2 342.3V263.9h1.3V342.3M716.5 342.3V269.7h1.3V342.3M717.8 342.3V261.6h1.3V342.3M719.2 342.3V257.5h1.3V342.3M720.5 342.3V315.4h1.3V342.3M721.9 342.3V240.1h1.3V342.3M723.2 342.3V238.6h1.3V342.3M724.5 342.3V257.4h1.3V342.3M725.9 342.3V261.6h1.3V342.3M727.2 342.3V255.8h1.3V342.3M728.5 342.3V257.2h1.3V342.3M729.9 342.3V310.8h1.3V342.3M731.2 342.3V242.2h1.3V342.3M732.5 342.3V251.0h1.3V342.3M733.9 342.3V266.5h1.3V342.3M735.2 342.3V271.0h1.3V342.3M736.5 342.3V267.0h1.3V342.3M737.9 342.3V263.9h1.3V342.3M739.2 342.3V322.7h1.3V342.3M740.6 342.3V254.2h1.3V342.3M741.9 342.3V261.7h1.3V342.3M743.2 342.3V275.0h1.3V342.3M744.6 342.3V277.2h1.3V342.3M745.9 342.3V268.8h1.3V342.3M747.2 342.3V283.8h1.3V342.3M748.6 342.3V321.8h1.3V342.3M749.9 342.3V265.8h1.3V342.3M751.2 342.3V272.4h1.3V342.3M752.6 342.3V279.3h1.3V342.3M753.9 342.3V285.6h1.3V342.3M755.2 342.3V276.7h1.3V342.3M756.6 342.3V288.3h1.3V342.3M757.9 342.3V320.0h1.3V342.3M759.2 342.3V266.9h1.3V342.3M760.6 342.3V280.1h1.3V342.3M761.9 342.3V284.4h1.3V342.3M763.3 342.3V286.6h1.3V342.3M764.6 342.3V280.9h1.3V342.3M765.9 342.3V292.7h1.3V342.3M767.3 342.3V324.5h1.3V342.3M768.6 342.3V277.4h1.3V342.3M769.9 342.3V285.0h1.3V342.3M771.3 342.3V294.9h1.3V342.3M772.6 342.3V294.9h1.3V342.3M773.9 342.3V296.3h1.3V342.3M775.3 342.3V303.2h1.3V342.3M776.6 342.3V328.9h1.3V342.3M777.9 342.3V291.5h1.3V342.3M779.3 342.3V299.7h1.3V342.3M780.6 342.3V303.1h1.3V342.3M782.0 342.3V307.7h1.3V342.3M783.3 342.3V306.7h1.3V342.3M784.6 342.3V309.8h1.3V342.3M786.0 342.3V330.4h1.3V342.3M787.3 342.3V302.9h1.3V342.3M788.6 342.3V308.0h1.3V342.3M790.0 342.3V311.2h1.3V342.3M791.3 342.3V310.7h1.3V342.3M792.6 342.3V310.7h1.3V342.3M794.0 342.3V308.2h1.3V342.3M795.3 342.3V330.9h1.3V342.3M796.6 342.3V304.2h1.3V342.3M798.0 342.3V309.4h1.3V342.3M799.3 342.3V311.5h1.3V342.3M800.6 342.3V314.4h1.3V342.3M802.0 342.3V311.6h1.3V342.3M803.3 342.3V315.4h1.3V342.3M804.7 342.3V335.3h1.3V342.3M806.0 342.3V309.3h1.3V342.3M807.3 342.3V314.4h1.3V342.3M808.7 342.3V317.7h1.3V342.3M810.0 342.3V316.9h1.3V342.3M811.3 342.3V317.4h1.3V342.3M812.7 342.3V320.1h1.3V342.3M814.0 342.3V336.1h1.3V342.3M815.3 342.3V314.6h1.3V342.3M816.7 342.3V316.5h1.3V342.3M818.0 342.3V320.8h1.3V342.3M819.3 342.3V321.7h1.3V342.3M820.7 342.3V321.3h1.3V342.3M822.0 342.3V321.8h1.3V342.3M823.3 342.3V336.6h1.3V342.3M824.7 342.3V317.3h1.3V342.3M826.0 342.3V321.2h1.3V342.3M827.4 342.3V323.0h1.3V342.3M828.7 342.3V323.2h1.3V342.3M830.0 342.3V321.1h1.3V342.3M831.4 342.3V321.5h1.3V342.3M832.7 342.3V335.3h1.3V342.3M834.0 342.3V318.6h1.3V342.3M835.4 342.3V319.5h1.3V342.3M836.7 342.3V322.0h1.3V342.3M838.0 342.3V318.4h1.3V342.3M839.4 342.3V321.1h1.3V342.3M840.7 342.3V322.3h1.3V342.3M842.0 342.3V337.2h1.3V342.3M843.4 342.3V319.2h1.3V342.3M844.7 342.3V320.9h1.3V342.3M846.1 342.3V323.2h1.3V342.3M847.4 342.3V323.7h1.3V342.3M848.7 342.3V323.5h1.3V342.3M850.1 342.3V325.9h1.3V342.3M851.4 342.3V337.5h1.3V342.3M852.7 342.3V319.7h1.3V342.3M854.1 342.3V321.6h1.3V342.3M855.4 342.3V323.3h1.3V342.3M856.7 342.3V323.2h1.3V342.3M858.1 342.3V322.3h1.3V342.3M859.4 342.3V322.6h1.3V342.3M860.7 342.3V335.4h1.3V342.3M862.1 342.3V319.4h1.3V342.3M863.4 342.3V319.5h1.3V342.3M864.7 342.3V320.9h1.3V342.3M866.1 342.3V321.8h1.3V342.3M867.4 342.3V319.9h1.3V342.3M868.8 342.3V319.4h1.3V342.3M870.1 342.3V334.7h1.3V342.3M871.4 342.3V314.6h1.3V342.3M872.8 342.3V317.2h1.3V342.3M874.1 342.3V319.9h1.3V342.3M875.4 342.3V322.3h1.3V342.3M876.8 342.3V319.4h1.3V342.3M878.1 342.3V320.5h1.3V342.3M879.4 342.3V335.6h1.3V342.3M880.8 342.3V317.3h1.3V342.3M882.1 342.3V317.3h1.3V342.3M883.4 342.3V318.0h1.3V342.3M884.8 342.3V319.3h1.3V342.3M886.1 342.3V312.5h1.3V342.3M887.5 342.3V313.4h1.3V342.3M888.8 342.3V333.4h1.3V342.3M890.1 342.3V305.8h1.3V342.3M891.5 342.3V310.9h1.3V342.3M892.8 342.3V311.5h1.3V342.3M894.1 342.3V314.2h1.3V342.3M895.5 342.3V313.0h1.3V342.3M896.8 342.3V318.8h1.3V342.3M898.1 342.3V334.4h1.3V342.3M899.5 342.3V314.9h1.3V342.3M900.8 342.3V328.4h1.3V342.3M902.1 342.3V330.4h1.3V342.3M903.5 342.3V331.0h1.3V342.3M904.8 342.3V328.3h1.3V342.3M906.1 342.3V327.1h1.3V342.3M907.5 342.3V334.3h1.3V342.3M908.8 342.3V297.7h1.3V342.3M910.2 342.3V248.0h1.3V342.3M911.5 342.3V200.8h1.3V342.3M912.8 342.3V164.6h1.3V342.3M914.2 342.3V117.8h1.3V342.3M915.5 342.3V189.6h1.3V342.3M916.8 342.3V295.6h1.3V342.3M918.2 342.3V143.8h1.3V342.3M919.5 342.3V128.3h1.3V342.3M920.8 342.3V181.6h1.3V342.3M922.2 342.3V190.4h1.3V342.3M923.5 342.3V174.4h1.3V342.3M924.8 342.3V191.3h1.3V342.3M926.2 342.3V293.0h1.3V342.3M927.5 342.3V168.2h1.3V342.3M928.9 342.3V198.5h1.3V342.3M930.2 342.3V231.0h1.3V342.3M931.5 342.3V220.8h1.3V342.3M932.9 342.3V234.8h1.3V342.3M934.2 342.3V242.1h1.3V342.3M935.5 342.3V298.8h1.3V342.3M936.9 342.3V207.8h1.3V342.3M938.2 342.3V224.0h1.3V342.3M939.5 342.3V240.4h1.3V342.3M940.9 342.3V215.7h1.3V342.3M942.2 342.3V237.8h1.3V342.3M943.5 342.3V237.5h1.3V342.3M944.9 342.3V312.9h1.3V342.3M946.2 342.3V231.0h1.3V342.3M947.5 342.3V254.0h1.3V342.3M948.9 342.3V251.6h1.3V342.3M950.2 342.3V268.7h1.3V342.3M951.6 342.3V260.1h1.3V342.3M952.9 342.3V267.7h1.3V342.3M954.2 342.3V318.6h1.3V342.3M955.6 342.3V244.0h1.3V342.3M956.9 342.3V251.1h1.3V342.3M958.2 342.3V263.9h1.3V342.3M959.6 342.3V264.6h1.3V342.3M960.9 342.3V265.7h1.3V342.3M962.2 342.3V271.3h1.3V342.3M963.6 342.3V314.1h1.3V342.3M964.9 342.3V254.2h1.3V342.3M966.2 342.3V271.5h1.3V342.3M967.6 342.3V273.1h1.3V342.3M968.9 342.3V281.1h1.3V342.3M970.2 342.3V269.8h1.3V342.3M971.6 342.3V272.1h1.3V342.3M972.9 342.3V313.9h1.3V342.3M974.3 342.3V244.0h1.3V342.3M975.6 342.3V257.3h1.3V342.3M976.9 342.3V262.7h1.3V342.3M978.3 342.3V270.7h1.3V342.3M979.6 342.3V256.7h1.3V342.3M980.9 342.3V280.3h1.3V342.3M982.3 342.3V314.3h1.3V342.3M983.6 342.3V250.6h1.3V342.3M984.9 342.3V262.6h1.3V342.3M986.3 342.3V262.4h1.3V342.3M987.6 342.3V268.5h1.3V342.3M988.9 342.3V242.6h1.3V342.3M990.3 342.3V265.3h1.3V342.3M991.6 342.3V315.6h1.3V342.3M993.0 342.3V248.2h1.3V342.3M994.3 342.3V251.4h1.3V342.3M995.6 342.3V259.9h1.3V342.3M997.0 342.3V269.4h1.3V342.3M998.3 342.3V248.0h1.3V342.3M999.6 342.3V271.6h1.3V342.3M1001.0 342.3V314.6h1.3V342.3M1002.3 342.3V254.1h1.3V342.3M1003.6 342.3V261.8h1.3V342.3M1005.0 342.3V273.1h1.3V342.3M1006.3 342.3V256.7h1.3V342.3M1007.6 342.3V262.9h1.3V342.3M1009.0 342.3V259.0h1.3V342.3M1010.3 342.3V315.6h1.3V342.3M1011.6 342.3V234.1h1.3V342.3M1013.0 342.3V228.4h1.3V342.3M1014.3 342.3V257.1h1.3V342.3M1015.7 342.3V264.4h1.3V342.3M1017.0 342.3V248.0h1.3V342.3M1018.3 342.3V273.0h1.3V342.3M1019.7 342.3V315.7h1.3V342.3M1021.0 342.3V251.6h1.3V342.3M1022.3 342.3V262.7h1.3V342.3M1023.7 342.3V268.0h1.3V342.3M1025.0 342.3V270.0h1.3V342.3M1026.3 342.3V244.0h1.3V342.3M1027.7 342.3V255.8h1.3V342.3M1029.0 342.3V309.2h1.3V342.3M1030.3 342.3V237.6h1.3V342.3M1031.7 342.3V228.4h1.3V342.3M1033.0 342.3V244.2h1.3V342.3M1034.4 342.3V248.5h1.3V342.3M1035.7 342.3V241.4h1.3V342.3M1037.0 342.3V246.6h1.3V342.3M1038.4 342.3V302.0h1.3V342.3M1039.7 342.3V212.7h1.3V342.3M1041.0 342.3V227.5h1.3V342.3M1042.4 342.3V229.0h1.3V342.3M1043.7 342.3V208.1h1.3V342.3M1045.0 342.3V229.8h1.3V342.3M1046.4 342.3V243.1h1.3V342.3M1047.7 342.3V301.0h1.3V342.3M1049.0 342.3V210.7h1.3V342.3M1050.4 342.3V218.6h1.3V342.3M1051.7 342.3V238.0h1.3V342.3M1053.0 342.3V207.7h1.3V342.3M1054.4 342.3V224.6h1.3V342.3M1055.7 342.3V239.4h1.3V342.3M1057.1 342.3V300.2h1.3V342.3M1058.4 342.3V214.0h1.3V342.3M1059.7 342.3V209.2h1.3V342.3M1061.1 342.3V243.1h1.3V342.3M1062.4 342.3V239.4h1.3V342.3M1063.7 342.3V223.3h1.3V342.3M1065.1 342.3V300.7h1.3V342.3M1066.4 342.3V318.4h1.3V342.3M1067.7 342.3V299.7h1.3V342.3M1069.1 342.3V267.0h1.3V342.3M1070.4 342.3V247.2h1.3V342.3M1071.7 342.3V197.6h1.3V342.3M1073.1 342.3V211.7h1.3V342.3M1074.4 342.3V218.7h1.3V342.3M1075.7 342.3V305.7h1.3V342.3M1077.1 342.3V186.0h1.3V342.3M1078.4 342.3V209.0h1.3V342.3M1079.8 342.3V219.4h1.3V342.3M1081.1 342.3V227.7h1.3V342.3M1082.4 342.3V190.0h1.3V342.3M1083.8 342.3V207.6h1.3V342.3M1085.1 342.3V306.4h1.3V342.3M1086.4 342.3V186.0h1.3V342.3M1087.8 342.3V199.9h1.3V342.3M1089.1 342.3V218.8h1.3V342.3M1090.4 342.3V187.4h1.3V342.3M1091.8 342.3V207.6h1.3V342.3M1093.1 342.3V215.4h1.3V342.3M1094.4 342.3V296.8h1.3V342.3M1095.8 342.3V192.5h1.3V342.3M1097.1 342.3V222.6h1.3V342.3M1098.5 342.3V231.0h1.3V342.3M1099.8 342.3V258.8h1.3V342.3M1101.1 342.3V233.5h1.3V342.3M1102.5 342.3V275.6h1.3V342.3M1103.8 342.3V317.9h1.3V342.3M1105.1 342.3V268.3h1.3V342.3" fill="#ed7d31"/>
<path d="M538.9 342.3V337.5h1.3V342.3M540.2 342.3V337.3h1.3V342.3M541.6 342.3V337.6h1.3V342.3M542.9 342.3V338.4h1.3V342.3M544.2 342.3V336.1h1.3V342.3M545.6 342.3V336.9h1.3V342.3M546.9 342.3V335.9h1.3V342.3M548.2 342.3V337.0h1.3V342.3M549.6 342.3V335.4h1.3V342.3M550.9 342.3V337.2h1.3V342.3M552.3 342.3V338.6h1.3V342.3M553.6 342.3V335.2h1.3V342.3M554.9 342.3V335.2h1.3V342.3M556.3 342.3V333.4h1.3V342.3M557.6 342.3V333.4h1.3V342.3M558.9 342.3V332.8h1.3V342.3M560.3 342.3V335.4h1.3V342.3M561.6 342.3V337.0h1.3V342.3M562.9 342.3V333.9h1.3V342.3M564.3 342.3V334.7h1.3V342.3M565.6 342.3V336.2h1.3V342.3M566.9 342.3V335.8h1.3V342.3M568.3 342.3V335.9h1.3V342.3M569.6 342.3V336.6h1.3V342.3M571.0 342.3V338.5h1.3V342.3M572.3 342.3V336.7h1.3V342.3M573.6 342.3V336.1h1.3V342.3M575.0 342.3V337.0h1.3V342.3M576.3 342.3V337.0h1.3V342.3M577.6 342.3V337.1h1.3V342.3M579.0 342.3V338.3h1.3V342.3M580.3 342.3V338.6h1.3V342.3M581.6 342.3V336.0h1.3V342.3M583.0 342.3V335.0h1.3V342.3M584.3 342.3V335.4h1.3V342.3M585.6 342.3V335.0h1.3V342.3M587.0 342.3V333.6h1.3V342.3M588.3 342.3V335.8h1.3V342.3M589.6 342.3V336.3h1.3V342.3M591.0 342.3V331.2h1.3V342.3M592.3 342.3V331.1h1.3V342.3M593.7 342.3V327.6h1.3V342.3M595.0 342.3V328.3h1.3V342.3M596.3 342.3V326.9h1.3V342.3M597.7 342.3V332.1h1.3V342.3M599.0 342.3V334.6h1.3V342.3M600.3 342.3V332.1h1.3V342.3M601.7 342.3V334.2h1.3V342.3M603.0 342.3V334.1h1.3V342.3M604.3 342.3V336.2h1.3V342.3M605.7 342.3V336.2h1.3V342.3M607.0 342.3V336.0h1.3V342.3M608.3 342.3V337.1h1.3V342.3M609.7 342.3V332.6h1.3V342.3M611.0 342.3V331.8h1.3V342.3M612.3 342.3V331.1h1.3V342.3M613.7 342.3V330.3h1.3V342.3M615.0 342.3V330.5h1.3V342.3M616.4 342.3V328.8h1.3V342.3M617.7 342.3V332.4h1.3V342.3M619.0 342.3V329.3h1.3V342.3M620.4 342.3V330.4h1.3V342.3M621.7 342.3V333.8h1.3V342.3M623.0 342.3V334.0h1.3V342.3M624.4 342.3V334.1h1.3V342.3M625.7 342.3V335.3h1.3V342.3M627.0 342.3V336.6h1.3V342.3M628.4 342.3V332.0h1.3V342.3M629.7 342.3V334.5h1.3V342.3M631.0 342.3V334.7h1.3V342.3M632.4 342.3V335.6h1.3V342.3M633.7 342.3V333.7h1.3V342.3M635.1 342.3V336.1h1.3V342.3M636.4 342.3V338.0h1.3V342.3M637.7 342.3V335.4h1.3V342.3M639.1 342.3V336.1h1.3V342.3M640.4 342.3V335.2h1.3V342.3M641.7 342.3V336.9h1.3V342.3M643.1 342.3V337.0h1.3V342.3M644.4 342.3V336.6h1.3V342.3M645.7 342.3V338.2h1.3V342.3M647.1 342.3V336.4h1.3V342.3M648.4 342.3V336.2h1.3V342.3M649.7 342.3V336.7h1.3V342.3M651.1 342.3V337.7h1.3V342.3M652.4 342.3V336.6h1.3V342.3M653.7 342.3V337.8h1.3V342.3M655.1 342.3V338.9h1.3V342.3M656.4 342.3V337.3h1.3V342.3M657.8 342.3V338.3h1.3V342.3M659.1 342.3V338.4h1.3V342.3M660.4 342.3V338.1h1.3V342.3M661.8 342.3V338.2h1.3V342.3M663.1 342.3V338.4h1.3V342.3M664.4 342.3V339.7h1.3V342.3M665.8 342.3V338.3h1.3V342.3M667.1 342.3V338.6h1.3V342.3M668.4 342.3V338.2h1.3V342.3M669.8 342.3V338.7h1.3V342.3M671.1 342.3V338.3h1.3V342.3M672.4 342.3V339.1h1.3V342.3M673.8 342.3V339.7h1.3V342.3M675.1 342.3V338.5h1.3V342.3M676.5 342.3V338.5h1.3V342.3M677.8 342.3V338.7h1.3V342.3M679.1 342.3V339.2h1.3V342.3M680.5 342.3V338.3h1.3V342.3M681.8 342.3V339.4h1.3V342.3M683.1 342.3V339.9h1.3V342.3M684.5 342.3V337.3h1.3V342.3M685.8 342.3V337.3h1.3V342.3M687.1 342.3V337.5h1.3V342.3M688.5 342.3V337.5h1.3V342.3M689.8 342.3V337.2h1.3V342.3M691.1 342.3V336.3h1.3V342.3M692.5 342.3V336.5h1.3V342.3M693.8 342.3V331.9h1.3V342.3M695.1 342.3V333.1h1.3V342.3M696.5 342.3V332.5h1.3V342.3M697.8 342.3V331.0h1.3V342.3M699.2 342.3V330.1h1.3V342.3M700.5 342.3V329.8h1.3V342.3M701.8 342.3V333.0h1.3V342.3M703.2 342.3V324.4h1.3V342.3M704.5 342.3V324.3h1.3V342.3M705.8 342.3V326.1h1.3V342.3M707.2 342.3V328.0h1.3V342.3M708.5 342.3V325.8h1.3V342.3M709.8 342.3V326.0h1.3V342.3M711.2 342.3V330.6h1.3V342.3M712.5 342.3V323.3h1.3V342.3M713.8 342.3V324.7h1.3V342.3M715.2 342.3V324.8h1.3V342.3M716.5 342.3V326.4h1.3V342.3M717.8 342.3V327.2h1.3V342.3M719.2 342.3V328.9h1.3V342.3M720.5 342.3V331.0h1.3V342.3M721.9 342.3V325.6h1.3V342.3M723.2 342.3V326.3h1.3V342.3M724.5 342.3V326.5h1.3V342.3M725.9 342.3V327.5h1.3V342.3M727.2 342.3V325.3h1.3V342.3M728.5 342.3V328.2h1.3V342.3M729.9 342.3V332.9h1.3V342.3M731.2 342.3V324.1h1.3V342.3M732.5 342.3V328.5h1.3V342.3M733.9 342.3V327.9h1.3V342.3M735.2 342.3V328.9h1.3V342.3M736.5 342.3V326.4h1.3V342.3M737.9 342.3V327.9h1.3V342.3M739.2 342.3V331.3h1.3V342.3M740.6 342.3V327.1h1.3V342.3M741.9 342.3V324.1h1.3V342.3M743.2 342.3V325.0h1.3V342.3M744.6 342.3V326.9h1.3V342.3M745.9 342.3V324.4h1.3V342.3M747.2 342.3V328.4h1.3V342.3M748.6 342.3V331.3h1.3V342.3M749.9 342.3V324.3h1.3V342.3M751.2 342.3V326.4h1.3V342.3M752.6 342.3V324.9h1.3V342.3M753.9 342.3V326.1h1.3V342.3M755.2 342.3V324.7h1.3V342.3M756.6 342.3V325.8h1.3V342.3M757.9 342.3V329.4h1.3V342.3M759.2 342.3V325.4h1.3V342.3M760.6 342.3V324.1h1.3V342.3M761.9 342.3V328.2h1.3V342.3M763.3 342.3V325.5h1.3V342.3M764.6 342.3V328.3h1.3V342.3M765.9 342.3V328.8h1.3V342.3M767.3 342.3V332.7h1.3V342.3M768.6 342.3V330.1h1.3V342.3M769.9 342.3V330.1h1.3V342.3M771.3 342.3V329.9h1.3V342.3M772.6 342.3V331.3h1.3V342.3M773.9 342.3V331.5h1.3V342.3M775.3 342.3V333.6h1.3V342.3M776.6 342.3V336.7h1.3V342.3M777.9 342.3V332.4h1.3V342.3M779.3 342.3V335.2h1.3V342.3M780.6 342.3V335.9h1.3V342.3M782.0 342.3V336.7h1.3V342.3M783.3 342.3V336.8h1.3V342.3M784.6 342.3V338.0h1.3V342.3M786.0 342.3V339.2h1.3V342.3M787.3 342.3V338.1h1.3V342.3M788.6 342.3V338.7h1.3V342.3M790.0 342.3V339.2h1.3V342.3M791.3 342.3V339.0h1.3V342.3M792.6 342.3V339.2h1.3V342.3M794.0 342.3V340.1h1.3V342.3M795.3 342.3V340.6h1.3V342.3M796.6 342.3V339.6h1.3V342.3M798.0 342.3V340.0h1.3V342.3M799.3 342.3V340.0h1.3V342.3M800.6 342.3V340.2h1.3V342.3M802.0 342.3V340.3h1.3V342.3M803.3 342.3V340.8h1.3V342.3M804.7 342.3V341.2h1.3V342.3M806.0 342.3V340.4h1.3V342.3M807.3 342.3V340.8h1.3V342.3M808.7 342.3V340.6h1.3V342.3M810.0 342.3V340.7h1.3V342.3M811.3 342.3V340.8h1.3V342.3M812.7 342.3V341.0h1.3V342.3M814.0 342.3V341.3h1.3V342.3M815.3 342.3V340.4h1.3V342.3M816.7 342.3V340.7h1.3V342.3M818.0 342.3V340.6h1.3V342.3M819.3 342.3V340.9h1.3V342.3M820.7 342.3V340.8h1.3V342.3M822.0 342.3V341.0h1.3V342.3M823.3 342.3V341.3h1.3V342.3M824.7 342.3V340.8h1.3V342.3M826.0 342.3V340.8h1.3V342.3M827.4 342.3V341.1h1.3V342.3M828.7 342.3V341.0h1.3V342.3M830.0 342.3V340.8h1.3V342.3M831.4 342.3V341.0h1.3V342.3M832.7 342.3V341.2h1.3V342.3M834.0 342.3V340.8h1.3V342.3M835.4 342.3V341.0h1.3V342.3M836.7 342.3V340.9h1.3V342.3M838.0 342.3V340.9h1.3V342.3M839.4 342.3V340.9h1.3V342.3M840.7 342.3V341.0h1.3V342.3M842.0 342.3V341.4h1.3V342.3M843.4 342.3V340.7h1.3V342.3M844.7 342.3V340.8h1.3V342.3M846.1 342.3V340.9h1.3V342.3M847.4 342.3V341.0h1.3V342.3M848.7 342.3V341.1h1.3V342.3M850.1 342.3V341.2h1.3V342.3M851.4 342.3V341.3h1.3V342.3M852.7 342.3V340.8h1.3V342.3M854.1 342.3V340.8h1.3V342.3M855.4 342.3V341.2h1.3V342.3M856.7 342.3V340.9h1.3V342.3M858.1 342.3V340.9h1.3V342.3M859.4 342.3V341.3h1.3V342.3M860.7 342.3V341.4h1.3V342.3M862.1 342.3V340.9h1.3V342.3M863.4 342.3V341.0h1.3V342.3M864.7 342.3V340.7h1.3V342.3M866.1 342.3V341.0h1.3V342.3M867.4 342.3V340.8h1.3V342.3M868.8 342.3V341.1h1.3V342.3M870.1 342.3V341.4h1.3V342.3M871.4 342.3V340.8h1.3V342.3M872.8 342.3V340.9h1.3V342.3M874.1 342.3V341.1h1.3V342.3M875.4 342.3V341.0h1.3V342.3M876.8 342.3V340.8h1.3V342.3M878.1 342.3V341.1h1.3V342.3M879.4 342.3V341.3h1.3V342.3M880.8 342.3V340.4h1.3V342.3M882.1 342.3V340.0h1.3V342.3M883.4 342.3V339.1h1.3V342.3M884.8 342.3V339.0h1.3V342.3M886.1 342.3V337.8h1.3V342.3M887.5 342.3V338.8h1.3V342.3M888.8 342.3V338.6h1.3V342.3M890.1 342.3V337.6h1.3V342.3M891.5 342.3V338.7h1.3V342.3M892.8 342.3V339.9h1.3V342.3M894.1 342.3V340.4h1.3V342.3M895.5 342.3V340.1h1.3V342.3M896.8 342.3V340.3h1.3V342.3M898.1 342.3V341.0h1.3V342.3M899.5 342.3V339.8h1.3V342.3M900.8 342.3V340.0h1.3V342.3M902.1 342.3V340.0h1.3V342.3M903.5 342.3V339.6h1.3V342.3M904.8 342.3V339.5h1.3V342.3M906.1 342.3V337.8h1.3V342.3M907.5 342.3V335.7h1.3V342.3M908.8 342.3V329.5h1.3V342.3M910.2 342.3V322.9h1.3V342.3M911.5 342.3V315.9h1.3V342.3M912.8 342.3V314.9h1.3V342.3M914.2 342.3V314.2h1.3V342.3M915.5 342.3V310.0h1.3V342.3M916.8 342.3V313.8h1.3V342.3M918.2 342.3V301.4h1.3V342.3M919.5 342.3V302.0h1.3V342.3M920.8 342.3V292.7h1.3V342.3M922.2 342.3V298.6h1.3V342.3M923.5 342.3V298.8h1.3V342.3M924.8 342.3V311.2h1.3V342.3M926.2 342.3V322.7h1.3V342.3M927.5 342.3V307.2h1.3V342.3M928.9 342.3V307.7h1.3V342.3M930.2 342.3V315.0h1.3V342.3M931.5 342.3V315.4h1.3V342.3M932.9 342.3V312.7h1.3V342.3M934.2 342.3V311.7h1.3V342.3M935.5 342.3V319.1h1.3V342.3M936.9 342.3V301.4h1.3V342.3M938.2 342.3V299.5h1.3V342.3M939.5 342.3V300.3h1.3V342.3M940.9 342.3V287.1h1.3V342.3M942.2 342.3V290.1h1.3V342.3M943.5 342.3V292.9h1.3V342.3M944.9 342.3V314.4h1.3V342.3M946.2 342.3V301.9h1.3V342.3M947.5 342.3V307.6h1.3V342.3M948.9 342.3V309.2h1.3V342.3M950.2 342.3V305.6h1.3V342.3M951.6 342.3V309.9h1.3V342.3M952.9 342.3V315.3h1.3V342.3M954.2 342.3V322.9h1.3V342.3M955.6 342.3V313.1h1.3V342.3M956.9 342.3V316.6h1.3V342.3M958.2 342.3V315.1h1.3V342.3M959.6 342.3V319.4h1.3V342.3M960.9 342.3V318.9h1.3V342.3M962.2 342.3V322.0h1.3V342.3M963.6 342.3V325.0h1.3V342.3M964.9 342.3V321.0h1.3V342.3M966.2 342.3V318.6h1.3V342.3M967.6 342.3V319.4h1.3V342.3M968.9 342.3V321.2h1.3V342.3M970.2 342.3V311.6h1.3V342.3M971.6 342.3V315.0h1.3V342.3M972.9 342.3V322.7h1.3V342.3M974.3 342.3V309.6h1.3V342.3M975.6 342.3V305.9h1.3V342.3M976.9 342.3V307.1h1.3V342.3M978.3 342.3V307.2h1.3V342.3M979.6 342.3V307.2h1.3V342.3M980.9 342.3V310.4h1.3V342.3M982.3 342.3V315.8h1.3V342.3M983.6 342.3V305.6h1.3V342.3M984.9 342.3V306.9h1.3V342.3M986.3 342.3V303.1h1.3V342.3M987.6 342.3V309.3h1.3V342.3M988.9 342.3V301.1h1.3V342.3M990.3 342.3V309.8h1.3V342.3M991.6 342.3V318.4h1.3V342.3M993.0 342.3V298.9h1.3V342.3M994.3 342.3V299.5h1.3V342.3M995.6 342.3V304.1h1.3V342.3M997.0 342.3V307.7h1.3V342.3M998.3 342.3V301.8h1.3V342.3M999.6 342.3V314.5h1.3V342.3M1001.0 342.3V316.1h1.3V342.3M1002.3 342.3V305.3h1.3V342.3M1003.6 342.3V301.0h1.3V342.3M1005.0 342.3V312.3h1.3V342.3M1006.3 342.3V310.0h1.3V342.3M1007.6 342.3V311.2h1.3V342.3M1009.0 342.3V312.3h1.3V342.3M1010.3 342.3V321.7h1.3V342.3M1011.6 342.3V308.1h1.3V342.3M1013.0 342.3V310.6h1.3V342.3M1014.3 342.3V307.5h1.3V342.3M1015.7 342.3V306.6h1.3V342.3M1017.0 342.3V311.9h1.3V342.3M1018.3 342.3V314.8h1.3V342.3M1019.7 342.3V317.2h1.3V342.3M1021.0 342.3V306.7h1.3V342.3M1022.3 342.3V302.2h1.3V342.3M1023.7 342.3V312.3h1.3V342.3M1025.0 342.3V309.3h1.3V342.3M1026.3 342.3V302.4h1.3V342.3M1027.7 342.3V307.0h1.3V342.3M1029.0 342.3V318.4h1.3V342.3M1030.3 342.3V296.3h1.3V342.3M1031.7 342.3V306.8h1.3V342.3M1033.0 342.3V303.5h1.3V342.3M1034.4 342.3V303.5h1.3V342.3M1035.7 342.3V304.2h1.3V342.3M1037.0 342.3V305.1h1.3V342.3M1038.4 342.3V313.7h1.3V342.3M1039.7 342.3V293.8h1.3V342.3M1041.0 342.3V286.5h1.3V342.3M1042.4 342.3V293.5h1.3V342.3M1043.7 342.3V293.0h1.3V342.3M1045.0 342.3V283.1h1.3V342.3M1046.4 342.3V298.0h1.3V342.3M1047.7 342.3V311.1h1.3V342.3M1049.0 342.3V281.0h1.3V342.3M1050.4 342.3V296.5h1.3V342.3M1051.7 342.3V299.6h1.3V342.3M1053.0 342.3V299.0h1.3V342.3M1054.4 342.3V289.8h1.3V342.3M1055.7 342.3V305.0h1.3V342.3M1057.1 342.3V309.9h1.3V342.3M1058.4 342.3V289.1h1.3V342.3M1059.7 342.3V297.9h1.3V342.3M1061.1 342.3V294.8h1.3V342.3M1062.4 342.3V297.6h1.3V342.3M1063.7 342.3V307.6h1.3V342.3M1065.1 342.3V313.1h1.3V342.3M1066.4 342.3V319.9h1.3V342.3M1067.7 342.3V314.0h1.3V342.3M1069.1 342.3V315.2h1.3V342.3M1070.4 342.3V315.9h1.3V342.3M1071.7 342.3V308.8h1.3V342.3M1073.1 342.3V303.4h1.3V342.3M1074.4 342.3V310.4h1.3V342.3M1075.7 342.3V314.6h1.3V342.3M1077.1 342.3V300.1h1.3V342.3M1078.4 342.3V292.6h1.3V342.3M1079.8 342.3V302.5h1.3V342.3M1081.1 342.3V296.4h1.3V342.3M1082.4 342.3V287.4h1.3V342.3M1083.8 342.3V294.6h1.3V342.3M1085.1 342.3V312.7h1.3V342.3M1086.4 342.3V288.4h1.3V342.3M1087.8 342.3V291.8h1.3V342.3M1089.1 342.3V294.9h1.3V342.3M1090.4 342.3V292.6h1.3V342.3M1091.8 342.3V287.9h1.3V342.3M1093.1 342.3V306.0h1.3V342.3M1094.4 342.3V313.1h1.3V342.3M1095.8 342.3V296.0h1.3V342.3M1097.1 342.3V302.3h1.3V342.3M1098.5 342.3V305.5h1.3V342.3M1099.8 342.3V297.9h1.3V342.3M1101.1 342.3V300.9h1.3V342.3M1102.5 342.3V299.0h1.3V342.3M1103.8 342.3V319.3h1.3V342.3M1105.1 342.3V309.9h1.3V342.3" fill="#5b9bd5"/>
<text x="810.3" y="38.0" font-size="14.8" text-anchor="middle" fill="#222">検査実施件数</text>
<text x="945" y="37.2" font-size="12" text-anchor="middle" fill="#222" textLength="151" lengthAdjust="spacingAndGlyphs">【2021/2/1～2022/5/30】</text>
<text x="905.8" y="62.5" font-size="11.3" text-anchor="middle" fill="#444" textLength="332" lengthAdjust="spacingAndGlyphs" xml:space="preserve">n=849,218 (行政検査件数  n=263,131  保険診療  n=586,087)</text>
<rect x="545.5" y="59.2" width="155" height="50.6" fill="#fff" stroke="#e4e4e4" stroke-width="1"/>
<rect x="560.5" y="69.7" width="5.2" height="5.2" fill="#ed7d31"/>
<text x="569" y="75.6" font-size="9.2" fill="#444" textLength="120" lengthAdjust="spacingAndGlyphs">保険診療（PCR＋抗原検査）</text>
<rect x="560.5" y="94.8" width="5.2" height="5.2" fill="#5b9bd5"/>
<text x="569" y="100.8" font-size="9.2" fill="#444">行政検査</text>
<text x="530" y="345.8" font-size="9.4" text-anchor="end" fill="#555">0</text>
<text x="530" y="309.5" font-size="9.4" text-anchor="end" fill="#555">1000</text>
<text x="530" y="273.3" font-size="9.4" text-anchor="end" fill="#555">2000</text>
<text x="530" y="237.0" font-size="9.4" text-anchor="end" fill="#555">3000</text>
<text x="530" y="200.7" font-size="9.4" text-anchor="end" fill="#555">4000</text>
<text x="530" y="164.4" font-size="9.4" text-anchor="end" fill="#555">5000</text>
<text x="530" y="128.2" font-size="9.4" text-anchor="end" fill="#555">6000</text>
<text x="530" y="91.9" font-size="9.4" text-anchor="end" fill="#555">7000</text>
<text x="538.9" y="358.3" font-size="9.4" text-anchor="middle" fill="#555">4/1</text>
<text x="579.7" y="358.3" font-size="9.4" text-anchor="middle" fill="#555">5/1</text>
<text x="621.0" y="358.3" font-size="9.4" text-anchor="middle" fill="#555">6/1</text>
<text x="661.3" y="358.3" font-size="9.4" text-anchor="middle" fill="#555">7/1</text>
<text x="702.0" y="358.3" font-size="9.4" text-anchor="middle" fill="#555">8/1</text>
<text x="744.0" y="358.3" font-size="9.4" text-anchor="middle" fill="#555">9/1</text>
<text x="784.0" y="358.3" font-size="9.4" text-anchor="middle" fill="#555">10/1</text>
<text x="825.5" y="358.3" font-size="9.4" text-anchor="middle" fill="#555">11/1</text>
<text x="865.0" y="358.3" font-size="9.4" text-anchor="middle" fill="#555">12/1</text>
<text x="906.0" y="358.3" font-size="9.4" text-anchor="middle" fill="#555">1/1</text>
<text x="947.8" y="358.3" font-size="9.4" text-anchor="middle" fill="#555">2/1</text>
<text x="984.4" y="358.3" font-size="9.4" text-anchor="middle" fill="#555">3/1</text>
<text x="1026.0" y="358.3" font-size="9.4" text-anchor="middle" fill="#555">4/1</text>
<text x="1067.0" y="358.3" font-size="9.4" text-anchor="middle" fill="#555">5/1</text>
<text x="1107.8" y="358.3" font-size="9.4" text-anchor="middle" fill="#555">6/1</text>
<text x="489.3" y="184.5" font-size="9.6" text-anchor="middle" fill="#444">検</text>
<text x="489.3" y="200.7" font-size="9.6" text-anchor="middle" fill="#444">査</text>
<text x="489.3" y="216.6" font-size="9.6" text-anchor="middle" fill="#444">件</text>
<text x="489.3" y="232.1" font-size="9.6" text-anchor="middle" fill="#444">数</text>
<path d="M528.7 725.8h3" stroke="#888" stroke-width="1" fill="none"/>
<text x="525.0" y="729.6" font-size="8.2" text-anchor="end" fill="#444">0</text>
<path d="M531.7 697.1H1114.0" stroke="#e3e3e3" stroke-width="1" fill="none"/>
<path d="M528.7 697.1h3" stroke="#888" stroke-width="1" fill="none"/>
<text x="525.0" y="700.9" font-size="8.2" text-anchor="end" fill="#444">500</text>
<path d="M531.7 668.4H1114.0" stroke="#e3e3e3" stroke-width="1" fill="none"/>
<path d="M528.7 668.4h3" stroke="#888" stroke-width="1" fill="none"/>
<text x="525.0" y="672.2" font-size="8.2" text-anchor="end" fill="#444">1000</text>
<path d="M531.7 639.7H1114.0" stroke="#e3e3e3" stroke-width="1" fill="none"/>
<path d="M528.7 639.7h3" stroke="#888" stroke-width="1" fill="none"/>
<text x="525.0" y="643.5" font-size="8.2" text-anchor="end" fill="#444">1500</text>
<path d="M531.7 611.0H1114.0" stroke="#e3e3e3" stroke-width="1" fill="none"/>
<path d="M528.7 611.0h3" stroke="#888" stroke-width="1" fill="none"/>
<text x="525.0" y="614.8" font-size="8.2" text-anchor="end" fill="#444">2000</text>
<path d="M531.7 582.3H1114.0" stroke="#e3e3e3" stroke-width="1" fill="none"/>
<path d="M528.7 582.3h3" stroke="#888" stroke-width="1" fill="none"/>
<text x="525.0" y="586.1" font-size="8.2" text-anchor="end" fill="#444">2500</text>
<path d="M531.70 725.8L532.0 725.8L532.7 725.8L533.4 725.8L534.1 725.8L534.8 725.8L535.4 725.8L536.1 725.8L536.8 725.8L537.5 725.8L538.2 725.8L538.9 725.8L539.5 725.8L540.2 725.8L540.9 725.8L541.6 725.8L542.3 725.8L542.9 725.8L543.6 725.8L544.3 725.8L545.0 725.8L545.7 725.8L546.3 725.8L547.0 725.8L547.7 725.8L548.4 725.8L549.1 725.8L549.8 725.8L550.4 725.7L551.1 725.7L551.8 725.7L552.5 725.7L553.2 725.7L553.8 725.7L554.5 725.7L555.2 725.7L555.9 725.7L556.6 725.7L557.2 725.7L557.9 725.7L558.6 725.7L559.3 725.7L560.0 725.7L560.7 725.7L561.3 725.7L562.0 725.7L562.7 725.7L563.4 725.7L564.1 725.7L564.7 725.7L565.4 725.7L566.1 725.7L566.8 725.7L567.5 725.7L568.2 725.7L568.8 725.7L569.5 725.7L570.2 725.6L570.9 725.6L571.6 725.5L572.2 725.5L572.9 725.4L573.6 725.3L574.3 725.2L575.0 725.2L575.6 725.3L576.3 725.3L577.0 725.4L577.7 725.4L578.4 725.3L579.1 725.4L579.7 725.4L580.4 725.4L581.1 725.5L581.8 725.5L582.5 725.5L583.1 725.5L583.8 725.6L584.5 725.6L585.2 725.6L585.9 725.6L586.5 725.6L587.2 725.6L587.9 725.6L588.6 725.6L589.3 725.7L590.0 725.7L590.6 725.7L591.3 725.7L592.0 725.7L592.7 725.7L593.4 725.7L594.0 725.7L594.7 725.8L595.4 725.8L596.1 725.8L596.8 725.8L597.4 725.8L598.1 725.8L598.8 725.8L599.5 725.8L600.2 725.8L600.9 725.8L601.5 725.8L602.2 725.8L602.9 725.8L603.6 725.8L604.3 725.8L604.9 725.8L605.6 725.8L606.3 725.8L607.0 725.8L607.7 725.8L608.3 725.8L609.0 725.8L609.7 725.8L610.4 725.8L611.1 725.8L611.8 725.8L612.4 725.8L613.1 725.8L613.8 725.8L614.5 725.8L615.2 725.8L615.8 725.8L616.5 725.8L617.2 725.8L617.9 725.8L618.6 725.8L619.2 725.8L619.9 725.8L620.6 725.8L621.3 725.8L622.0 725.8L622.7 725.8L623.3 725.8L624.0 725.8L624.7 725.8L625.4 725.8L626.1 725.8L626.7 725.8L627.4 725.8L628.1 725.8L628.8 725.8L629.5 725.8L630.2 725.8L630.8 725.8L631.5 725.8L632.2 725.8L632.9 725.8L633.6 725.8L634.2 725.8L634.9 725.8L635.6 725.8L636.3 725.8L637.0 725.7L637.6 725.7L638.3 725.7L639.0 725.7L639.7 725.7L640.4 725.6L641.1 725.6L641.7 725.6L642.4 725.6L643.1 725.5L643.8 725.6L644.5 725.5L645.1 725.3L645.8 725.1L646.5 724.9L647.2 724.7L647.9 724.4L648.5 724.2L649.2 724.2L649.9 723.7L650.6 723.2L651.3 722.8L652.0 722.7L652.6 722.0L653.3 721.6L654.0 721.6L654.7 721.4L655.4 721.4L656.0 721.0L656.7 721.1L657.4 721.8L658.1 721.5L658.8 721.3L659.4 721.6L660.1 721.9L660.8 722.4L661.5 722.3L662.2 722.5L662.9 722.7L663.5 722.6L664.2 723.2L664.9 722.9L665.6 723.4L666.3 723.2L666.9 723.4L667.6 723.6L668.3 723.5L669.0 723.7L669.7 723.7L670.3 723.6L671.0 724.0L671.7 724.2L672.4 724.2L673.1 724.1L673.8 724.4L674.4 724.5L675.1 724.3L675.8 724.5L676.5 724.6L677.2 724.6L677.8 724.8L678.5 724.8L679.2 724.9L679.9 724.9L680.6 724.9L681.2 724.9L681.9 725.0L682.6 725.1L683.3 725.2L684.0 725.3L684.7 725.3L685.3 725.4L686.0 725.3L686.7 725.2L687.4 725.2L688.1 725.1L688.7 725.2L689.4 725.2L690.1 725.1L690.8 725.1L691.5 725.1L692.1 725.0L692.8 724.9L693.5 724.9L694.2 724.9L694.9 724.8L695.6 724.7L696.2 724.8L696.9 724.8L697.6 724.8L698.3 724.6L699.0 724.8L699.6 724.6L700.3 724.6L701.0 724.7L701.7 724.5L702.4 724.7L703.1 724.7L703.7 724.6L704.4 724.7L705.1 724.4L705.8 724.6L706.5 724.6L707.1 724.6L707.8 724.4L708.5 724.4L709.2 724.4L709.9 724.4L710.5 724.3L711.2 724.3L711.9 724.3L712.6 724.5L713.3 724.4L714.0 724.5L714.6 724.6L715.3 724.4L716.0 724.3L716.7 724.5L717.4 724.5L718.0 724.5L718.7 724.3L719.4 724.4L720.1 724.3L720.8 724.2L721.4 724.3L722.1 724.1L722.8 724.1L723.5 724.3L724.2 724.0L724.9 724.0L725.5 724.2L726.2 724.0L726.9 723.9L727.6 723.8L728.3 724.0L728.9 723.9L729.6 723.7L730.3 723.7L731.0 723.7L731.7 723.9L732.3 723.8L733.0 724.0L733.7 723.8L734.4 723.7L735.1 723.8L735.8 723.8L736.4 724.0L737.1 723.7L737.8 723.6L738.5 723.6L739.2 723.8L739.8 723.7L740.5 724.0L741.2 723.7L741.9 723.8L742.6 724.0L743.2 724.1L743.9 724.0L744.6 724.0L745.3 723.9L746.0 724.0L746.7 724.2L747.3 723.9L748.0 724.2L748.7 724.0L749.4 724.2L750.1 724.2L750.7 724.0L751.4 724.2L752.1 724.2L752.8 724.0L753.5 723.8L754.1 723.8L754.8 723.8L755.5 723.6L756.2 723.8L756.9 723.6L757.6 723.9L758.2 723.8L758.9 723.6L759.6 723.7L760.3 723.5L761.0 723.3L761.6 723.1L762.3 722.7L763.0 722.6L763.7 722.6L764.4 722.3L765.1 721.7L765.7 721.4L766.4 721.8L767.1 721.0L767.8 720.7L768.5 721.1L769.1 720.9L769.8 721.2L770.5 720.7L771.2 720.6L771.9 720.4L772.5 721.2L773.2 720.3L773.9 721.0L774.6 721.3L775.3 721.1L776.0 721.5L776.6 721.7L777.3 721.7L778.0 722.5L778.7 722.3L779.4 722.6L780.0 722.4L780.7 722.6L781.4 723.2L782.1 723.3L782.8 723.7L783.4 723.7L784.1 723.7L784.8 723.8L785.5 724.1L786.2 724.3L786.9 724.4L787.5 724.4L788.2 724.4L788.9 724.7L789.6 724.7L790.3 725.0L790.9 725.0L791.6 725.0L792.3 724.9L793.0 725.0L793.7 725.0L794.3 724.9L795.0 725.0L795.7 724.9L796.4 725.0L797.1 725.0L797.8 725.0L798.4 725.0L799.1 725.0L799.8 725.0L800.5 725.0L801.2 724.8L801.8 724.7L802.5 724.6L803.2 724.5L803.9 724.2L804.6 724.1L805.2 724.0L805.9 723.6L806.6 723.6L807.3 723.3L808.0 723.4L808.7 723.0L809.3 722.8L810.0 722.5L810.7 722.8L811.4 722.6L812.1 722.0L812.7 722.4L813.4 721.5L814.1 721.4L814.8 722.0L815.5 721.7L816.1 721.1L816.8 721.4L817.5 721.4L818.2 720.4L818.9 720.7L819.6 720.2L820.2 720.8L820.9 720.4L821.6 719.9L822.3 720.6L823.0 720.2L823.6 719.4L824.3 719.2L825.0 719.2L825.7 720.4L826.4 719.9L827.1 719.7L827.7 720.1L828.4 719.9L829.1 720.6L829.8 720.8L830.5 720.9L831.1 721.0L831.8 720.4L832.5 720.6L833.2 720.7L833.9 721.3L834.5 721.4L835.2 721.5L835.9 721.0L836.6 721.0L837.3 721.2L838.0 722.1L838.6 722.3L839.3 721.7L840.0 722.3L840.7 722.2L841.4 722.7L842.0 722.8L842.7 722.9L843.4 723.2L844.1 723.2L844.8 723.3L845.4 722.6L846.1 722.2L846.8 722.4L847.5 721.9L848.2 721.4L848.9 721.4L849.5 721.1L850.2 720.5L850.9 719.4L851.6 719.6L852.3 717.5L852.9 717.0L853.6 716.5L854.3 715.5L855.0 715.3L855.7 715.2L856.3 714.0L857.0 713.6L857.7 711.6L858.4 711.3L859.1 712.3L859.8 709.4L860.4 710.8L861.1 711.5L861.8 712.2L862.5 714.1L863.2 713.7L863.8 714.2L864.5 715.2L865.2 715.6L865.9 716.1L866.6 717.3L867.2 717.2L867.9 718.9L868.6 718.9L869.3 719.2L870.0 720.1L870.7 719.9L871.3 719.8L872.0 720.1L872.7 720.8L873.4 720.3L874.1 720.9L874.7 721.5L875.4 721.5L876.1 721.8L876.8 722.0L877.5 722.2L878.1 721.9L878.8 722.3L879.5 722.4L880.2 722.5L880.9 722.5L881.6 723.2L882.2 723.0L882.9 723.0L883.6 723.4L884.3 723.4L885.0 723.6L885.6 723.6L886.3 723.5L887.0 723.7L887.7 723.6L888.4 723.3L889.1 723.5L889.7 723.6L890.4 723.0L891.1 722.9L891.8 722.3L892.5 722.2L893.1 721.7L893.8 722.1L894.5 721.2L895.2 719.9L895.9 719.8L896.5 717.2L897.2 717.6L897.9 715.8L898.6 715.5L899.3 713.1L900.0 711.1L900.6 711.5L901.3 706.5L902.0 707.1L902.7 705.0L903.4 703.0L904.0 702.9L904.7 702.1L905.4 698.6L906.1 697.8L906.8 698.3L907.4 695.0L908.1 697.3L908.8 698.8L909.5 696.8L910.2 697.9L910.9 696.4L911.5 691.4L912.2 693.4L912.9 688.9L913.6 689.3L914.3 694.1L914.9 685.6L915.6 685.0L916.3 691.6L917.0 685.4L917.7 690.2L918.3 690.6L919.0 687.6L919.7 694.1L920.4 692.8L921.1 690.6L921.8 693.0L922.4 696.3L923.1 694.5L923.8 697.2L924.5 700.0L925.2 704.1L925.8 702.9L926.5 704.7L927.2 706.8L927.9 708.4L928.6 707.2L929.2 709.8L929.9 709.5L930.6 709.6L931.3 711.2L932.0 712.6L932.7 712.4L933.3 713.6L934.0 713.5L934.7 714.9L935.4 714.6L936.1 715.4L936.7 716.6L937.4 718.1L938.1 718.9L938.8 718.3L939.5 719.1L940.1 720.0L940.8 720.9L941.5 721.4L942.2 721.3L942.9 721.8L943.6 722.1L944.2 722.4L944.9 722.7L945.6 723.4L946.3 723.7L947.0 723.4L947.6 723.6L948.3 723.7L949.0 724.1L949.7 724.2L950.4 724.2L951.1 724.2L951.7 724.3L952.4 724.5L953.1 724.5L953.8 724.7L954.5 724.8L955.1 724.7L955.8 724.7L956.5 724.8L957.2 724.9L957.9 724.9L958.5 725.0L959.2 725.0L959.9 724.9L960.6 724.9L961.3 725.1L962.0 725.1L962.6 725.1L963.3 725.1L964.0 725.1L964.7 725.3L965.4 725.3L966.0 725.3L966.7 725.3L967.4 725.4L968.1 725.3L968.8 725.3L969.4 725.4L970.1 725.4L970.8 725.4L971.5 725.4L972.2 725.4L972.9 725.4L973.5 725.5L974.2 725.4L974.9 725.5L975.6 725.5L976.3 725.5L976.9 725.5L977.6 725.5L978.3 725.5L979.0 725.5L979.7 725.5L980.3 725.5L981.0 725.5L981.7 725.6L982.4 725.6L983.1 725.6L983.8 725.6L984.4 725.6L985.1 725.6L985.8 725.6L986.5 725.6L987.2 725.6L987.8 725.6L988.5 725.6L989.2 725.6L989.9 725.6L990.6 725.5L991.2 725.5L991.9 725.5L992.6 725.5L993.3 725.5L994.0 725.5L994.7 725.5L995.3 725.4L996.0 725.4L996.7 725.4L997.4 725.4L998.1 725.4L998.7 725.4L999.4 725.3L1000.1 725.3L1000.8 725.3L1001.5 725.3L1002.1 725.2L1002.8 725.0L1003.5 724.7L1004.2 724.6L1004.9 724.5L1005.6 724.0L1006.2 721.4L1006.9 719.7L1007.6 718.0L1008.3 714.6L1009.0 697.7L1009.6 680.6L1010.3 643.3L1011.0 617.5L1011.7 622.2L1012.4 645.5L1013.0 640.5L1013.7 640.8L1014.4 657.7L1015.1 659.0L1015.8 649.5L1016.5 648.4L1017.1 662.8L1017.8 657.0L1018.5 666.9L1019.2 661.1L1019.9 665.4L1020.5 672.0L1021.2 673.7L1021.9 668.2L1022.6 672.6L1023.3 671.5L1024.0 677.4L1024.6 679.7L1025.3 674.7L1026.0 679.5L1026.7 685.5L1027.4 689.3L1028.0 692.2L1028.7 696.6L1029.4 696.1L1030.1 699.9L1030.8 698.1L1031.4 699.8L1032.1 699.2L1032.8 699.9L1033.5 700.1L1034.2 700.3L1034.9 700.3L1035.5 702.4L1036.2 703.4L1036.9 701.5L1037.6 700.1L1038.3 701.3L1038.9 700.4L1039.6 701.2L1040.3 697.1L1041.0 695.1L1041.7 698.5L1042.3 699.4L1043.0 698.8L1043.7 696.7L1044.4 697.0L1045.1 691.7L1045.8 697.5L1046.4 695.1L1047.1 695.9L1047.8 691.3L1048.5 692.1L1049.2 697.9L1049.8 700.2L1050.5 699.3L1051.2 700.3L1051.9 698.1L1052.6 702.9L1053.2 702.2L1053.9 701.5L1054.6 701.0L1055.3 700.7L1056.0 698.3L1056.7 699.5L1057.3 702.1L1058.0 702.8L1058.7 702.7L1059.4 703.7L1060.1 701.0L1060.7 702.0L1061.4 699.2L1062.1 696.1L1062.8 696.8L1063.5 696.8L1064.1 690.7L1064.8 688.6L1065.5 691.4L1066.2 688.1L1066.9 682.8L1067.6 686.4L1068.2 688.2L1068.9 689.3L1069.6 680.4L1070.3 681.2L1071.0 681.7L1071.6 676.8L1072.3 673.4L1073.0 673.0L1073.7 662.9L1074.4 666.2L1075.0 670.8L1075.7 673.0L1076.4 665.9L1077.1 666.3L1077.8 660.9L1078.5 662.6L1079.1 664.5L1079.8 671.0L1080.5 671.5L1081.2 669.7L1081.9 669.2L1082.5 659.4L1083.2 662.9L1083.9 659.8L1084.6 653.1L1085.3 662.5L1086.0 660.6L1086.6 668.1L1087.3 661.5L1088.0 673.9L1088.7 661.1L1089.4 658.7L1090.0 657.1L1090.7 666.2L1091.4 661.6L1092.1 652.8L1092.8 659.4L1093.4 649.6L1094.1 646.3L1094.8 633.7L1095.5 637.1L1096.2 628.0L1096.9 636.0L1097.5 622.0L1098.2 627.5L1098.9 615.0L1099.6 629.8L1100.3 615.0L1100.9 629.6L1101.6 623.2L1102.3 625.0L1103.0 631.3L1103.7 615.0L1104.3 623.5L1105.0 629.2L1105.7 639.9L1106.4 640.6L1107.1 641.1L1107.8 640.2L1108.4 650.3L1109.1 659.1L1109.8 680.2L1110.5 697.3L1111.2 717.5L1111.50 725.8Z" fill="#4472c4"/>
<path d="M531.7 582.3V725.8" stroke="#888" stroke-width="1" fill="none"/>
<path d="M531.7 725.8H1112.5" stroke="#888" stroke-width="1" fill="none"/>
<path d="M531.7 725.8v3" stroke="#888" stroke-width="1" fill="none"/>
<text transform="translate(534.9 732.5) rotate(-90)" font-size="8.5" text-anchor="end" fill="#333">2月1日</text>
<path d="M551.5 725.8v3" stroke="#888" stroke-width="1" fill="none"/>
<text transform="translate(554.7 732.5) rotate(-90)" font-size="8.5" text-anchor="end" fill="#333">3月1日</text>
<path d="M572.6 725.8v3" stroke="#888" stroke-width="1" fill="none"/>
<text transform="translate(575.8 732.5) rotate(-90)" font-size="8.5" text-anchor="end" fill="#333">4月1日</text>
<path d="M593.0 725.8v3" stroke="#888" stroke-width="1" fill="none"/>
<text transform="translate(596.2 732.5) rotate(-90)" font-size="8.5" text-anchor="end" fill="#333">5月1日</text>
<path d="M614.1 725.8v3" stroke="#888" stroke-width="1" fill="none"/>
<text transform="translate(617.3 732.5) rotate(-90)" font-size="8.5" text-anchor="end" fill="#333">6月1日</text>
<path d="M634.6 725.8v3" stroke="#888" stroke-width="1" fill="none"/>
<text transform="translate(637.8 732.5) rotate(-90)" font-size="8.5" text-anchor="end" fill="#333">7月1日</text>
<path d="M655.7 725.8v3" stroke="#888" stroke-width="1" fill="none"/>
<text transform="translate(658.9 732.5) rotate(-90)" font-size="8.5" text-anchor="end" fill="#333">8月1日</text>
<path d="M676.8 725.8v3" stroke="#888" stroke-width="1" fill="none"/>
<text transform="translate(680.0 732.5) rotate(-90)" font-size="8.5" text-anchor="end" fill="#333">9月1日</text>
<path d="M697.3 725.8v3" stroke="#888" stroke-width="1" fill="none"/>
<text transform="translate(700.5 732.5) rotate(-90)" font-size="8.5" text-anchor="end" fill="#333">10月1日</text>
<path d="M718.4 725.8v3" stroke="#888" stroke-width="1" fill="none"/>
<text transform="translate(721.6 732.5) rotate(-90)" font-size="8.5" text-anchor="end" fill="#333">11月1日</text>
<path d="M738.8 725.8v3" stroke="#888" stroke-width="1" fill="none"/>
<text transform="translate(742.0 732.5) rotate(-90)" font-size="8.5" text-anchor="end" fill="#333">12月1日</text>
<path d="M759.9 725.8v3" stroke="#888" stroke-width="1" fill="none"/>
<text transform="translate(763.1 732.5) rotate(-90)" font-size="8.5" text-anchor="end" fill="#333">1月1日</text>
<path d="M781.1 725.8v3" stroke="#888" stroke-width="1" fill="none"/>
<text transform="translate(784.3 732.5) rotate(-90)" font-size="8.5" text-anchor="end" fill="#333">2月1日</text>
<path d="M800.1 725.8v3" stroke="#888" stroke-width="1" fill="none"/>
<text transform="translate(803.3 732.5) rotate(-90)" font-size="8.5" text-anchor="end" fill="#333">3月1日</text>
<path d="M821.3 725.8v3" stroke="#888" stroke-width="1" fill="none"/>
<text transform="translate(824.5 732.5) rotate(-90)" font-size="8.5" text-anchor="end" fill="#333">4月1日</text>
<path d="M841.7 725.8v3" stroke="#888" stroke-width="1" fill="none"/>
<text transform="translate(844.9 732.5) rotate(-90)" font-size="8.5" text-anchor="end" fill="#333">5月1日</text>
<path d="M862.8 725.8v3" stroke="#888" stroke-width="1" fill="none"/>
<text transform="translate(866.0 732.5) rotate(-90)" font-size="8.5" text-anchor="end" fill="#333">6月1日</text>
<path d="M883.3 725.8v3" stroke="#888" stroke-width="1" fill="none"/>
<text transform="translate(886.5 732.5) rotate(-90)" font-size="8.5" text-anchor="end" fill="#333">7月1日</text>
<path d="M904.4 725.8v3" stroke="#888" stroke-width="1" fill="none"/>
<text transform="translate(907.6 732.5) rotate(-90)" font-size="8.5" text-anchor="end" fill="#333">8月1日</text>
<path d="M925.5 725.8v3" stroke="#888" stroke-width="1" fill="none"/>
<text transform="translate(928.7 732.5) rotate(-90)" font-size="8.5" text-anchor="end" fill="#333">9月1日</text>
<path d="M945.9 725.8v3" stroke="#888" stroke-width="1" fill="none"/>
<text transform="translate(949.1 732.5) rotate(-90)" font-size="8.5" text-anchor="end" fill="#333">10月1日</text>
<path d="M967.1 725.8v3" stroke="#888" stroke-width="1" fill="none"/>
<text transform="translate(970.3 732.5) rotate(-90)" font-size="8.5" text-anchor="end" fill="#333">11月1日</text>
<path d="M987.5 725.8v3" stroke="#888" stroke-width="1" fill="none"/>
<text transform="translate(990.7 732.5) rotate(-90)" font-size="8.5" text-anchor="end" fill="#333">12月1日</text>
<path d="M1008.6 725.8v3" stroke="#888" stroke-width="1" fill="none"/>
<text transform="translate(1011.8 732.5) rotate(-90)" font-size="8.5" text-anchor="end" fill="#333">1月1日</text>
<path d="M1029.7 725.8v3" stroke="#888" stroke-width="1" fill="none"/>
<text transform="translate(1032.9 732.5) rotate(-90)" font-size="8.5" text-anchor="end" fill="#333">2月1日</text>
<path d="M1048.8 725.8v3" stroke="#888" stroke-width="1" fill="none"/>
<text transform="translate(1052.0 732.5) rotate(-90)" font-size="8.5" text-anchor="end" fill="#333">3月1日</text>
<path d="M1069.9 725.8v3" stroke="#888" stroke-width="1" fill="none"/>
<text transform="translate(1073.1 732.5) rotate(-90)" font-size="8.5" text-anchor="end" fill="#333">4月1日</text>
<path d="M1090.4 725.8v3" stroke="#888" stroke-width="1" fill="none"/>
<text transform="translate(1093.6 732.5) rotate(-90)" font-size="8.5" text-anchor="end" fill="#333">5月1日</text>
<path d="M1111.5 725.8v3" stroke="#888" stroke-width="1" fill="none"/>
<text transform="translate(1114.7 732.5) rotate(-90)" font-size="8.5" text-anchor="end" fill="#333">6月1日</text>
<text x="765.5" y="562.2" font-size="10.4" text-anchor="middle" fill="#333" textLength="95" lengthAdjust="spacingAndGlyphs" xml:space="preserve">発症日別  流行曲線</text>
<text transform="translate(497.5 654.4) rotate(-90)" font-size="6.6" text-anchor="middle" fill="#333">人数</text>
<text x="1108.4" y="576.6" font-size="10" text-anchor="end" fill="#333" textLength="223" lengthAdjust="spacingAndGlyphs">※無症状25016名，不明･確認中17983名を除</text>
<path d="M525.6 959.3h3" stroke="#888" stroke-width="1" fill="none"/>
<text x="521.0" y="963.1" font-size="8.2" text-anchor="end" fill="#444">0</text>
<path d="M528.6 935.6H1114.0" stroke="#e3e3e3" stroke-width="1" fill="none"/>
<path d="M525.6 935.6h3" stroke="#888" stroke-width="1" fill="none"/>
<text x="521.0" y="939.4" font-size="8.2" text-anchor="end" fill="#444">500</text>
<path d="M528.6 911.8H1114.0" stroke="#e3e3e3" stroke-width="1" fill="none"/>
<path d="M525.6 911.8h3" stroke="#888" stroke-width="1" fill="none"/>
<text x="521.0" y="915.6" font-size="8.2" text-anchor="end" fill="#444">1000</text>
<path d="M528.6 888.1H1114.0" stroke="#e3e3e3" stroke-width="1" fill="none"/>
<path d="M525.6 888.1h3" stroke="#888" stroke-width="1" fill="none"/>
<text x="521.0" y="891.9" font-size="8.2" text-anchor="end" fill="#444">1500</text>
<path d="M528.6 864.4H1114.0" stroke="#e3e3e3" stroke-width="1" fill="none"/>
<path d="M525.6 864.4h3" stroke="#888" stroke-width="1" fill="none"/>
<text x="521.0" y="868.2" font-size="8.2" text-anchor="end" fill="#444">2000</text>
<path d="M528.6 840.7H1114.0" stroke="#e3e3e3" stroke-width="1" fill="none"/>
<path d="M525.6 840.7h3" stroke="#888" stroke-width="1" fill="none"/>
<text x="521.0" y="844.5" font-size="8.2" text-anchor="end" fill="#444">2500</text>
<path d="M528.6 816.9H1114.0" stroke="#e3e3e3" stroke-width="1" fill="none"/>
<path d="M525.6 816.9h3" stroke="#888" stroke-width="1" fill="none"/>
<text x="521.0" y="820.7" font-size="8.2" text-anchor="end" fill="#444">3000</text>
<path d="M569.0 959.3V959.0h.7V959.3M569.7 959.3V959.0h.7V959.3M570.4 959.3V959.0h.7V959.3M571.1 959.3V958.9h.7V959.3M571.8 959.3V958.9h.7V959.3M573.1 959.3V958.9h.7V959.3M573.8 959.3V958.9h.7V959.3M574.5 959.3V958.9h.7V959.3M575.2 959.3V959.0h.7V959.3M575.9 959.3V959.0h.7V959.3M577.9 959.3V959.0h.7V959.3M642.3 959.3V958.9h.7V959.3M643.0 959.3V958.8h.7V959.3M643.7 959.3V958.7h.7V959.3M644.4 959.3V958.8h.7V959.3M645.0 959.3V958.3h.7V959.3M645.7 959.3V958.0h.7V959.3M646.4 959.3V958.1h.7V959.3M647.1 959.3V957.9h.7V959.3M647.8 959.3V957.5h.7V959.3M648.5 959.3V957.3h.7V959.3M649.2 959.3V957.9h.7V959.3M649.8 959.3V956.6h.7V959.3M650.5 959.3V955.9h.7V959.3M651.2 959.3V955.9h.7V959.3M651.9 959.3V955.9h.7V959.3M652.6 959.3V955.6h.7V959.3M653.3 959.3V955.4h.7V959.3M653.9 959.3V956.6h.7V959.3M654.6 959.3V954.2h.7V959.3M655.3 959.3V952.7h.7V959.3M656.0 959.3V952.5h.7V959.3M656.7 959.3V952.7h.7V959.3M657.4 959.3V953.6h.7V959.3M658.1 959.3V955.3h.7V959.3M658.7 959.3V957.1h.7V959.3M659.4 959.3V955.9h.7V959.3M660.1 959.3V955.7h.7V959.3M660.8 959.3V956.1h.7V959.3M661.5 959.3V956.2h.7V959.3M662.2 959.3V956.8h.7V959.3M662.9 959.3V956.7h.7V959.3M663.5 959.3V957.9h.7V959.3M664.2 959.3V956.7h.7V959.3M664.9 959.3V956.6h.7V959.3M665.6 959.3V957.3h.7V959.3M666.3 959.3V957.4h.7V959.3M667.0 959.3V957.5h.7V959.3M667.6 959.3V957.7h.7V959.3M668.3 959.3V958.4h.7V959.3M669.0 959.3V957.4h.7V959.3M669.7 959.3V957.5h.7V959.3M670.4 959.3V957.8h.7V959.3M671.1 959.3V958.0h.7V959.3M671.8 959.3V958.1h.7V959.3M672.4 959.3V958.3h.7V959.3M673.1 959.3V958.7h.7V959.3M673.8 959.3V958.2h.7V959.3M674.5 959.3V958.4h.7V959.3M675.2 959.3V958.5h.7V959.3M675.9 959.3V958.5h.7V959.3M676.6 959.3V958.5h.7V959.3M677.2 959.3V958.7h.7V959.3M677.9 959.3V958.9h.7V959.3M678.6 959.3V958.7h.7V959.3M679.3 959.3V958.6h.7V959.3M680.0 959.3V958.7h.7V959.3M680.7 959.3V958.9h.7V959.3M681.3 959.3V958.9h.7V959.3M682.0 959.3V959.0h.7V959.3M683.4 959.3V958.9h.7V959.3M684.1 959.3V958.8h.7V959.3M684.8 959.3V958.8h.7V959.3M685.5 959.3V958.9h.7V959.3M686.1 959.3V958.8h.7V959.3M686.8 959.3V958.9h.7V959.3M687.5 959.3V959.0h.7V959.3M688.2 959.3V958.7h.7V959.3M688.9 959.3V958.7h.7V959.3M689.6 959.3V958.6h.7V959.3M690.3 959.3V958.7h.7V959.3M690.9 959.3V958.6h.7V959.3M691.6 959.3V958.6h.7V959.3M692.3 959.3V958.8h.7V959.3M693.0 959.3V958.5h.7V959.3M693.7 959.3V958.4h.7V959.3M694.4 959.3V958.4h.7V959.3M695.0 959.3V958.5h.7V959.3M695.7 959.3V958.5h.7V959.3M696.4 959.3V958.5h.7V959.3M697.1 959.3V958.8h.7V959.3M697.8 959.3V958.2h.7V959.3M698.5 959.3V958.3h.7V959.3M699.2 959.3V958.3h.7V959.3M699.8 959.3V958.3h.7V959.3M700.5 959.3V958.2h.7V959.3M701.2 959.3V958.2h.7V959.3M701.9 959.3V958.7h.7V959.3M702.6 959.3V958.0h.7V959.3M703.3 959.3V957.9h.7V959.3M703.9 959.3V958.1h.7V959.3M704.6 959.3V958.2h.7V959.3M705.3 959.3V958.1h.7V959.3M706.0 959.3V958.0h.7V959.3M706.7 959.3V958.5h.7V959.3M707.4 959.3V958.0h.7V959.3M708.1 959.3V957.9h.7V959.3M708.7 959.3V958.1h.7V959.3M709.4 959.3V957.9h.7V959.3M710.1 959.3V958.1h.7V959.3M710.8 959.3V958.1h.7V959.3M711.5 959.3V958.5h.7V959.3M712.2 959.3V958.0h.7V959.3M712.9 959.3V957.9h.7V959.3M713.5 959.3V958.0h.7V959.3M714.2 959.3V958.1h.7V959.3M714.9 959.3V958.0h.7V959.3M715.6 959.3V958.2h.7V959.3M716.3 959.3V958.6h.7V959.3M717.0 959.3V957.8h.7V959.3M717.6 959.3V957.9h.7V959.3M718.3 959.3V958.0h.7V959.3M719.0 959.3V957.9h.7V959.3M719.7 959.3V958.0h.7V959.3M720.4 959.3V957.9h.7V959.3M721.1 959.3V958.3h.7V959.3M721.8 959.3V957.8h.7V959.3M722.4 959.3V957.7h.7V959.3M723.1 959.3V957.6h.7V959.3M723.8 959.3V957.8h.7V959.3M724.5 959.3V957.6h.7V959.3M725.2 959.3V957.8h.7V959.3M725.9 959.3V958.4h.7V959.3M726.6 959.3V957.4h.7V959.3M727.2 959.3V957.4h.7V959.3M727.9 959.3V957.6h.7V959.3M728.6 959.3V957.5h.7V959.3M729.3 959.3V957.5h.7V959.3M730.0 959.3V957.7h.7V959.3M730.7 959.3V958.3h.7V959.3M731.3 959.3V957.3h.7V959.3M732.0 959.3V957.4h.7V959.3M732.7 959.3V957.5h.7V959.3M733.4 959.3V957.4h.7V959.3M734.1 959.3V957.7h.7V959.3M734.8 959.3V957.6h.7V959.3M735.5 959.3V958.3h.7V959.3M736.1 959.3V957.4h.7V959.3M736.8 959.3V957.5h.7V959.3M737.5 959.3V957.6h.7V959.3M738.2 959.3V957.5h.7V959.3M738.9 959.3V957.6h.7V959.3M739.6 959.3V957.7h.7V959.3M740.3 959.3V958.4h.7V959.3M740.9 959.3V957.5h.7V959.3M741.6 959.3V957.6h.7V959.3M742.3 959.3V957.6h.7V959.3M743.0 959.3V957.7h.7V959.3M743.7 959.3V957.9h.7V959.3M744.4 959.3V957.8h.7V959.3M745.0 959.3V958.3h.7V959.3M745.7 959.3V957.6h.7V959.3M746.4 959.3V957.5h.7V959.3M747.1 959.3V957.8h.7V959.3M747.8 959.3V957.9h.7V959.3M748.5 959.3V958.0h.7V959.3M749.2 959.3V957.9h.7V959.3M749.8 959.3V958.4h.7V959.3M750.5 959.3V957.6h.7V959.3M751.2 959.3V957.6h.7V959.3M751.9 959.3V957.5h.7V959.3M752.6 959.3V957.8h.7V959.3M753.3 959.3V957.5h.7V959.3M754.0 959.3V957.7h.7V959.3M754.6 959.3V958.2h.7V959.3M755.3 959.3V957.2h.7V959.3M756.0 959.3V957.4h.7V959.3M756.7 959.3V957.5h.7V959.3M757.4 959.3V957.5h.7V959.3M758.1 959.3V957.6h.7V959.3M758.7 959.3V957.4h.7V959.3M759.4 959.3V957.9h.7V959.3M760.1 959.3V956.6h.7V959.3M760.8 959.3V956.5h.7V959.3M761.5 959.3V956.3h.7V959.3M762.2 959.3V956.5h.7V959.3M762.9 959.3V955.9h.7V959.3M763.5 959.3V956.3h.7V959.3M764.2 959.3V957.2h.7V959.3M764.9 959.3V955.4h.7V959.3M765.6 959.3V954.8h.7V959.3M766.3 959.3V954.8h.7V959.3M767.0 959.3V954.8h.7V959.3M767.7 959.3V955.4h.7V959.3M768.3 959.3V955.3h.7V959.3M769.0 959.3V956.6h.7V959.3M769.7 959.3V954.5h.7V959.3M770.4 959.3V953.6h.7V959.3M771.1 959.3V954.8h.7V959.3M771.8 959.3V954.4h.7V959.3M772.4 959.3V954.2h.7V959.3M773.1 959.3V954.2h.7V959.3M773.8 959.3V956.5h.7V959.3M774.5 959.3V953.8h.7V959.3M775.2 959.3V953.4h.7V959.3M775.9 959.3V955.0h.7V959.3M776.6 959.3V955.4h.7V959.3M777.2 959.3V955.5h.7V959.3M777.9 959.3V956.7h.7V959.3M778.6 959.3V957.8h.7V959.3M779.3 959.3V956.8h.7V959.3M780.0 959.3V956.8h.7V959.3M780.7 959.3V957.2h.7V959.3M781.3 959.3V957.4h.7V959.3M782.0 959.3V957.2h.7V959.3M782.7 959.3V957.6h.7V959.3M783.4 959.3V958.3h.7V959.3M784.1 959.3V957.7h.7V959.3M784.8 959.3V957.8h.7V959.3M785.5 959.3V958.0h.7V959.3M786.1 959.3V958.2h.7V959.3M786.8 959.3V958.3h.7V959.3M787.5 959.3V958.4h.7V959.3M788.2 959.3V958.9h.7V959.3M788.9 959.3V958.6h.7V959.3M789.6 959.3V958.5h.7V959.3M790.3 959.3V958.6h.7V959.3M790.9 959.3V958.7h.7V959.3M791.6 959.3V958.7h.7V959.3M792.3 959.3V958.7h.7V959.3M793.0 959.3V959.0h.7V959.3M793.7 959.3V958.6h.7V959.3M794.4 959.3V958.6h.7V959.3M795.0 959.3V958.6h.7V959.3M795.7 959.3V958.6h.7V959.3M796.4 959.3V958.6h.7V959.3M797.1 959.3V958.7h.7V959.3M797.8 959.3V958.9h.7V959.3M798.5 959.3V958.6h.7V959.3M799.2 959.3V958.5h.7V959.3M799.8 959.3V958.4h.7V959.3M800.5 959.3V958.4h.7V959.3M801.2 959.3V958.3h.7V959.3M801.9 959.3V958.3h.7V959.3M802.6 959.3V958.5h.7V959.3M803.3 959.3V957.9h.7V959.3M804.0 959.3V957.7h.7V959.3M804.6 959.3V957.7h.7V959.3M805.3 959.3V957.5h.7V959.3M806.0 959.3V957.5h.7V959.3M806.7 959.3V957.4h.7V959.3M807.4 959.3V957.9h.7V959.3M808.1 959.3V956.7h.7V959.3M808.7 959.3V956.5h.7V959.3M809.4 959.3V956.8h.7V959.3M810.1 959.3V956.6h.7V959.3M810.8 959.3V956.7h.7V959.3M811.5 959.3V956.3h.7V959.3M812.2 959.3V957.4h.7V959.3M812.9 959.3V955.8h.7V959.3M813.5 959.3V955.8h.7V959.3M814.2 959.3V955.7h.7V959.3M814.9 959.3V955.6h.7V959.3M815.6 959.3V955.4h.7V959.3M816.3 959.3V955.0h.7V959.3M817.0 959.3V956.5h.7V959.3M817.7 959.3V954.5h.7V959.3M818.3 959.3V954.3h.7V959.3M819.0 959.3V954.6h.7V959.3M819.7 959.3V953.8h.7V959.3M820.4 959.3V954.3h.7V959.3M821.1 959.3V954.0h.7V959.3M821.8 959.3V955.8h.7V959.3M822.4 959.3V952.8h.7V959.3M823.1 959.3V954.0h.7V959.3M823.8 959.3V954.0h.7V959.3M824.5 959.3V954.1h.7V959.3M825.2 959.3V954.6h.7V959.3M825.9 959.3V954.2h.7V959.3M826.6 959.3V956.4h.7V959.3M827.2 959.3V953.6h.7V959.3M827.9 959.3V953.9h.7V959.3M828.6 959.3V954.7h.7V959.3M829.3 959.3V954.6h.7V959.3M830.0 959.3V954.9h.7V959.3M830.7 959.3V955.5h.7V959.3M831.4 959.3V956.8h.7V959.3M832.0 959.3V954.5h.7V959.3M832.7 959.3V955.2h.7V959.3M833.4 959.3V955.3h.7V959.3M834.1 959.3V955.4h.7V959.3M834.8 959.3V955.5h.7V959.3M835.5 959.3V956.2h.7V959.3M836.1 959.3V957.1h.7V959.3M836.8 959.3V955.8h.7V959.3M837.5 959.3V955.6h.7V959.3M838.2 959.3V955.9h.7V959.3M838.9 959.3V956.5h.7V959.3M839.6 959.3V956.6h.7V959.3M840.3 959.3V956.9h.7V959.3M840.9 959.3V957.7h.7V959.3M841.6 959.3V956.6h.7V959.3M842.3 959.3V956.8h.7V959.3M843.0 959.3V956.5h.7V959.3M843.7 959.3V956.7h.7V959.3M844.4 959.3V956.5h.7V959.3M845.1 959.3V956.4h.7V959.3M845.7 959.3V957.4h.7V959.3M846.4 959.3V955.7h.7V959.3M847.1 959.3V955.5h.7V959.3M847.8 959.3V954.6h.7V959.3M848.5 959.3V954.3h.7V959.3M849.2 959.3V953.6h.7V959.3M849.8 959.3V953.2h.7V959.3M850.5 959.3V955.5h.7V959.3M851.2 959.3V951.3h.7V959.3M851.9 959.3V950.2h.7V959.3M852.6 959.3V951.3h.7V959.3M853.3 959.3V950.1h.7V959.3M854.0 959.3V949.8h.7V959.3M854.6 959.3V949.2h.7V959.3M855.3 959.3V952.5h.7V959.3M856.0 959.3V947.9h.7V959.3M856.7 959.3V946.0h.7V959.3M857.4 959.3V947.4h.7V959.3M858.1 959.3V946.1h.7V959.3M858.8 959.3V945.8h.7V959.3M859.4 959.3V947.9h.7V959.3M860.1 959.3V951.7h.7V959.3M860.8 959.3V946.3h.7V959.3M861.5 959.3V946.4h.7V959.3M862.2 959.3V948.2h.7V959.3M862.9 959.3V949.3h.7V959.3M863.5 959.3V949.6h.7V959.3M864.2 959.3V950.6h.7V959.3M864.9 959.3V954.4h.7V959.3M865.6 959.3V950.0h.7V959.3M866.3 959.3V951.4h.7V959.3M867.0 959.3V952.6h.7V959.3M867.7 959.3V953.1h.7V959.3M868.3 959.3V953.4h.7V959.3M869.0 959.3V954.3h.7V959.3M869.7 959.3V955.9h.7V959.3M870.4 959.3V953.4h.7V959.3M871.1 959.3V953.9h.7V959.3M871.8 959.3V954.3h.7V959.3M872.4 959.3V955.4h.7V959.3M873.1 959.3V955.5h.7V959.3M873.8 959.3V956.0h.7V959.3M874.5 959.3V957.4h.7V959.3M875.2 959.3V955.8h.7V959.3M875.9 959.3V956.1h.7V959.3M876.6 959.3V956.1h.7V959.3M877.2 959.3V956.3h.7V959.3M877.9 959.3V956.5h.7V959.3M878.6 959.3V956.9h.7V959.3M879.3 959.3V957.8h.7V959.3M880.0 959.3V956.9h.7V959.3M880.7 959.3V956.8h.7V959.3M881.4 959.3V956.8h.7V959.3M882.0 959.3V957.1h.7V959.3M882.7 959.3V957.3h.7V959.3M883.4 959.3V957.3h.7V959.3M884.1 959.3V958.1h.7V959.3M884.8 959.3V957.1h.7V959.3M885.5 959.3V957.1h.7V959.3M886.1 959.3V957.0h.7V959.3M886.8 959.3V957.4h.7V959.3M887.5 959.3V957.4h.7V959.3M888.2 959.3V957.4h.7V959.3M888.9 959.3V957.9h.7V959.3M889.6 959.3V956.5h.7V959.3M890.3 959.3V956.2h.7V959.3M890.9 959.3V956.2h.7V959.3M891.6 959.3V956.1h.7V959.3M892.3 959.3V956.0h.7V959.3M893.0 959.3V955.5h.7V959.3M893.7 959.3V956.2h.7V959.3M894.4 959.3V953.2h.7V959.3M895.1 959.3V951.5h.7V959.3M895.7 959.3V952.2h.7V959.3M896.4 959.3V951.4h.7V959.3M897.1 959.3V950.1h.7V959.3M897.8 959.3V949.9h.7V959.3M898.5 959.3V952.4h.7V959.3M899.2 959.3V943.7h.7V959.3M899.8 959.3V944.9h.7V959.3M900.5 959.3V944.3h.7V959.3M901.2 959.3V943.5h.7V959.3M901.9 959.3V941.1h.7V959.3M902.6 959.3V942.2h.7V959.3M903.3 959.3V948.0h.7V959.3M904.0 959.3V934.5h.7V959.3M904.6 959.3V933.6h.7V959.3M905.3 959.3V934.2h.7V959.3M906.0 959.3V932.8h.7V959.3M906.7 959.3V931.7h.7V959.3M907.4 959.3V933.0h.7V959.3M908.1 959.3V941.5h.7V959.3M908.8 959.3V926.3h.7V959.3M909.4 959.3V923.9h.7V959.3M910.1 959.3V924.2h.7V959.3M910.8 959.3V928.9h.7V959.3M911.5 959.3V929.0h.7V959.3M912.2 959.3V926.9h.7V959.3M912.9 959.3V940.4h.7V959.3M913.5 959.3V921.7h.7V959.3M914.2 959.3V921.5h.7V959.3M914.9 959.3V923.1h.7V959.3M915.6 959.3V922.6h.7V959.3M916.3 959.3V924.7h.7V959.3M917.0 959.3V931.1h.7V959.3M917.7 959.3V939.4h.7V959.3M918.3 959.3V924.7h.7V959.3M919.0 959.3V924.9h.7V959.3M919.7 959.3V928.5h.7V959.3M920.4 959.3V930.7h.7V959.3M921.1 959.3V929.8h.7V959.3M921.8 959.3V933.8h.7V959.3M922.5 959.3V944.5h.7V959.3M923.1 959.3V933.7h.7V959.3M923.8 959.3V934.6h.7V959.3M924.5 959.3V937.8h.7V959.3M925.2 959.3V937.8h.7V959.3M925.9 959.3V940.7h.7V959.3M926.6 959.3V942.7h.7V959.3M927.2 959.3V949.0h.7V959.3M927.9 959.3V941.4h.7V959.3M928.6 959.3V939.9h.7V959.3M929.3 959.3V943.8h.7V959.3M930.0 959.3V944.2h.7V959.3M930.7 959.3V944.5h.7V959.3M931.4 959.3V947.0h.7V959.3M932.0 959.3V952.4h.7V959.3M932.7 959.3V946.0h.7V959.3M933.4 959.3V947.2h.7V959.3M934.1 959.3V950.5h.7V959.3M934.8 959.3V950.9h.7V959.3M935.5 959.3V951.2h.7V959.3M936.2 959.3V951.8h.7V959.3M936.8 959.3V955.2h.7V959.3M937.5 959.3V952.0h.7V959.3M938.2 959.3V953.2h.7V959.3M938.9 959.3V953.6h.7V959.3M939.6 959.3V954.8h.7V959.3M940.3 959.3V955.2h.7V959.3M940.9 959.3V955.3h.7V959.3M941.6 959.3V956.9h.7V959.3M942.3 959.3V955.3h.7V959.3M943.0 959.3V955.9h.7V959.3M943.7 959.3V956.5h.7V959.3M944.4 959.3V956.7h.7V959.3M945.1 959.3V957.2h.7V959.3M945.7 959.3V957.3h.7V959.3M946.4 959.3V958.1h.7V959.3M947.1 959.3V957.5h.7V959.3M947.8 959.3V957.5h.7V959.3M948.5 959.3V957.6h.7V959.3M949.2 959.3V957.9h.7V959.3M949.8 959.3V958.0h.7V959.3M950.5 959.3V958.2h.7V959.3M951.2 959.3V958.6h.7V959.3M951.9 959.3V958.0h.7V959.3M952.6 959.3V958.2h.7V959.3M953.3 959.3V958.5h.7V959.3M954.0 959.3V958.4h.7V959.3M954.6 959.3V958.5h.7V959.3M955.3 959.3V958.6h.7V959.3M956.0 959.3V958.9h.7V959.3M956.7 959.3V958.4h.7V959.3M957.4 959.3V958.5h.7V959.3M958.1 959.3V958.7h.7V959.3M958.8 959.3V958.6h.7V959.3M959.4 959.3V958.7h.7V959.3M960.1 959.3V958.8h.7V959.3M960.8 959.3V959.0h.7V959.3M961.5 959.3V958.7h.7V959.3M962.2 959.3V958.7h.7V959.3M962.9 959.3V958.8h.7V959.3M963.5 959.3V958.9h.7V959.3M964.2 959.3V958.9h.7V959.3M964.9 959.3V958.9h.7V959.3M966.3 959.3V958.9h.7V959.3M967.0 959.3V958.9h.7V959.3M967.7 959.3V958.9h.7V959.3M968.3 959.3V959.0h.7V959.3M971.1 959.3V959.0h.7V959.3M971.8 959.3V959.0h.7V959.3M995.1 959.3V959.0h.7V959.3M995.7 959.3V959.0h.7V959.3M996.4 959.3V959.0h.7V959.3M997.1 959.3V959.0h.7V959.3M997.8 959.3V958.9h.7V959.3M998.5 959.3V958.9h.7V959.3M999.9 959.3V958.8h.7V959.3M1000.5 959.3V958.8h.7V959.3M1001.2 959.3V958.8h.7V959.3M1001.9 959.3V958.7h.7V959.3M1002.6 959.3V958.5h.7V959.3M1003.3 959.3V958.4h.7V959.3M1004.0 959.3V958.7h.7V959.3M1004.6 959.3V958.0h.7V959.3M1005.3 959.3V957.8h.7V959.3M1006.0 959.3V957.7h.7V959.3M1006.7 959.3V955.7h.7V959.3M1007.4 959.3V953.3h.7V959.3M1008.1 959.3V951.0h.7V959.3M1008.8 959.3V944.5h.7V959.3M1009.4 959.3V922.0h.7V959.3M1010.1 959.3V917.4h.7V959.3M1010.8 959.3V901.7h.7V959.3M1011.5 959.3V876.5h.7V959.3M1012.2 959.3V896.0h.7V959.3M1012.9 959.3V896.1h.7V959.3M1013.6 959.3V918.5h.7V959.3M1014.2 959.3V875.0h.7V959.3M1014.9 959.3V865.7h.7V959.3M1015.6 959.3V879.8h.7V959.3M1016.3 959.3V879.7h.7V959.3M1017.0 959.3V884.8h.7V959.3M1017.7 959.3V893.3h.7V959.3M1018.3 959.3V917.1h.7V959.3M1019.0 959.3V896.9h.7V959.3M1019.7 959.3V887.0h.7V959.3M1020.4 959.3V899.4h.7V959.3M1021.1 959.3V899.3h.7V959.3M1021.8 959.3V907.4h.7V959.3M1022.5 959.3V905.0h.7V959.3M1023.1 959.3V930.9h.7V959.3M1023.8 959.3V905.0h.7V959.3M1024.5 959.3V912.3h.7V959.3M1025.2 959.3V916.6h.7V959.3M1025.9 959.3V921.4h.7V959.3M1026.6 959.3V923.4h.7V959.3M1027.3 959.3V927.8h.7V959.3M1027.9 959.3V941.0h.7V959.3M1028.6 959.3V924.7h.7V959.3M1029.3 959.3V927.3h.7V959.3M1030.0 959.3V929.9h.7V959.3M1030.7 959.3V927.6h.7V959.3M1031.4 959.3V932.3h.7V959.3M1032.0 959.3V934.9h.7V959.3M1032.7 959.3V942.6h.7V959.3M1033.4 959.3V926.2h.7V959.3M1034.1 959.3V929.5h.7V959.3M1034.8 959.3V927.6h.7V959.3M1035.5 959.3V929.7h.7V959.3M1036.2 959.3V929.4h.7V959.3M1036.8 959.3V933.8h.7V959.3M1037.5 959.3V943.0h.7V959.3M1038.2 959.3V929.2h.7V959.3M1038.9 959.3V927.7h.7V959.3M1039.6 959.3V927.8h.7V959.3M1040.3 959.3V930.6h.7V959.3M1040.9 959.3V927.1h.7V959.3M1041.6 959.3V928.6h.7V959.3M1042.3 959.3V939.2h.7V959.3M1043.0 959.3V920.1h.7V959.3M1043.7 959.3V915.6h.7V959.3M1044.4 959.3V922.3h.7V959.3M1045.1 959.3V916.8h.7V959.3M1045.7 959.3V920.9h.7V959.3M1046.4 959.3V918.4h.7V959.3M1047.1 959.3V935.4h.7V959.3M1047.8 959.3V905.9h.7V959.3M1048.5 959.3V912.6h.7V959.3M1049.2 959.3V911.4h.7V959.3M1049.9 959.3V920.4h.7V959.3M1050.5 959.3V920.8h.7V959.3M1051.2 959.3V921.8h.7V959.3M1051.9 959.3V938.2h.7V959.3M1052.6 959.3V921.3h.7V959.3M1053.3 959.3V919.3h.7V959.3M1054.0 959.3V919.1h.7V959.3M1054.6 959.3V924.7h.7V959.3M1055.3 959.3V926.3h.7V959.3M1056.0 959.3V926.8h.7V959.3M1056.7 959.3V935.3h.7V959.3M1057.4 959.3V922.4h.7V959.3M1058.1 959.3V918.2h.7V959.3M1058.8 959.3V921.7h.7V959.3M1059.4 959.3V920.2h.7V959.3M1060.1 959.3V923.8h.7V959.3M1060.8 959.3V922.3h.7V959.3M1061.5 959.3V933.7h.7V959.3M1062.2 959.3V912.3h.7V959.3M1062.9 959.3V913.7h.7V959.3M1063.6 959.3V916.4h.7V959.3M1064.2 959.3V915.9h.7V959.3M1064.9 959.3V919.6h.7V959.3M1065.6 959.3V914.5h.7V959.3M1066.3 959.3V930.3h.7V959.3M1067.0 959.3V907.7h.7V959.3M1067.7 959.3V904.0h.7V959.3M1068.3 959.3V908.0h.7V959.3M1069.0 959.3V908.3h.7V959.3M1069.7 959.3V909.5h.7V959.3M1070.4 959.3V906.8h.7V959.3M1071.1 959.3V924.5h.7V959.3M1071.8 959.3V894.9h.7V959.3M1072.5 959.3V899.6h.7V959.3M1073.1 959.3V893.1h.7V959.3M1073.8 959.3V895.8h.7V959.3M1074.5 959.3V894.2h.7V959.3M1075.2 959.3V896.7h.7V959.3M1075.9 959.3V915.3h.7V959.3M1076.6 959.3V889.8h.7V959.3M1077.3 959.3V883.7h.7V959.3M1077.9 959.3V879.9h.7V959.3M1078.6 959.3V886.2h.7V959.3M1079.3 959.3V893.8h.7V959.3M1080.0 959.3V892.1h.7V959.3M1080.7 959.3V913.7h.7V959.3M1081.4 959.3V885.6h.7V959.3M1082.0 959.3V878.6h.7V959.3M1082.7 959.3V893.6h.7V959.3M1083.4 959.3V882.8h.7V959.3M1084.1 959.3V890.7h.7V959.3M1084.8 959.3V897.3h.7V959.3M1085.5 959.3V913.5h.7V959.3M1086.2 959.3V878.3h.7V959.3M1086.8 959.3V872.8h.7V959.3M1087.5 959.3V878.0h.7V959.3M1088.2 959.3V880.2h.7V959.3M1088.9 959.3V885.5h.7V959.3M1089.6 959.3V881.9h.7V959.3M1090.3 959.3V917.5h.7V959.3M1091.0 959.3V863.3h.7V959.3M1091.6 959.3V860.1h.7V959.3M1092.3 959.3V868.3h.7V959.3M1093.0 959.3V854.9h.7V959.3M1093.7 959.3V858.9h.7V959.3M1094.4 959.3V860.1h.7V959.3M1095.1 959.3V888.9h.7V959.3M1095.7 959.3V844.6h.7V959.3M1096.4 959.3V839.4h.7V959.3M1097.1 959.3V837.7h.7V959.3M1097.8 959.3V855.9h.7V959.3M1098.5 959.3V848.4h.7V959.3M1099.2 959.3V850.7h.7V959.3M1099.9 959.3V893.7h.7V959.3M1100.5 959.3V847.3h.7V959.3M1101.2 959.3V835.2h.7V959.3M1101.9 959.3V843.3h.7V959.3M1102.6 959.3V851.9h.7V959.3M1103.3 959.3V861.6h.7V959.3M1104.0 959.3V863.3h.7V959.3M1104.7 959.3V900.3h.7V959.3M1105.3 959.3V868.2h.7V959.3M1106.0 959.3V867.0h.7V959.3M1106.7 959.3V883.8h.7V959.3M1107.4 959.3V894.2h.7V959.3M1108.1 959.3V898.5h.7V959.3M1108.8 959.3V896.4h.7V959.3M1109.4 959.3V919.4h.7V959.3M1110.1 959.3V897.6h.7V959.3M1110.8 959.3V897.5h.7V959.3" fill="#4472c4"/>
<path d="M528.60 959.3L528.9 959.3L529.6 959.3L530.3 959.3L531.0 959.3L531.7 959.3L532.4 959.3L533.1 959.3L533.7 959.3L534.4 959.3L535.1 959.3L535.8 959.3L536.5 959.3L537.2 959.3L537.8 959.3L538.5 959.3L539.2 959.3L539.9 959.3L540.6 959.3L541.3 959.3L542.0 959.3L542.6 959.3L543.3 959.3L544.0 959.3L544.7 959.3L545.4 959.3L546.1 959.3L546.8 959.3L547.4 959.3L548.1 959.3L548.8 959.3L549.5 959.3L550.2 959.3L550.9 959.3L551.5 959.2L552.2 959.2L552.9 959.3L553.6 959.3L554.3 959.2L555.0 959.2L555.7 959.2L556.3 959.2L557.0 959.2L557.7 959.2L558.4 959.3L559.1 959.2L559.8 959.2L560.5 959.2L561.1 959.2L561.8 959.2L562.5 959.2L563.2 959.3L563.9 959.2L564.6 959.2L565.2 959.2L565.9 959.2L566.6 959.2L567.3 959.2L568.0 959.2L568.7 959.0L569.4 959.0L570.0 959.0L570.7 959.0L571.4 958.9L572.1 958.9L572.8 959.1L573.5 958.9L574.1 958.9L574.8 958.9L575.5 959.0L576.2 959.0L576.9 959.0L577.6 959.1L578.3 959.0L578.9 959.0L579.6 959.1L580.3 959.1L581.0 959.1L581.7 959.1L582.4 959.2L583.1 959.1L583.7 959.1L584.4 959.1L585.1 959.2L585.8 959.2L586.5 959.2L587.2 959.2L587.8 959.2L588.5 959.2L589.2 959.2L589.9 959.2L590.6 959.2L591.3 959.3L592.0 959.3L592.6 959.3L593.3 959.3L594.0 959.3L594.7 959.3L595.4 959.3L596.1 959.3L596.8 959.3L597.4 959.3L598.1 959.3L598.8 959.3L599.5 959.3L600.2 959.3L600.9 959.3L601.5 959.3L602.2 959.3L602.9 959.3L603.6 959.3L604.3 959.3L605.0 959.3L605.7 959.3L606.3 959.3L607.0 959.3L607.7 959.3L608.4 959.3L609.1 959.3L609.8 959.3L610.5 959.3L611.1 959.3L611.8 959.3L612.5 959.3L613.2 959.3L613.9 959.3L614.6 959.3L615.2 959.3L615.9 959.3L616.6 959.3L617.3 959.3L618.0 959.3L618.7 959.3L619.4 959.3L620.0 959.3L620.7 959.3L621.4 959.3L622.1 959.3L622.8 959.3L623.5 959.3L624.2 959.3L624.8 959.3L625.5 959.3L626.2 959.3L626.9 959.3L627.6 959.3L628.3 959.3L628.9 959.3L629.6 959.3L630.3 959.3L631.0 959.3L631.7 959.3L632.4 959.3L633.1 959.3L633.7 959.3L634.4 959.2L635.1 959.3L635.8 959.2L636.5 959.2L637.2 959.2L637.9 959.2L638.5 959.2L639.2 959.2L639.9 959.2L640.6 959.1L641.3 959.1L642.0 959.1L642.6 958.9L643.3 958.8L644.0 958.7L644.7 958.8L645.4 958.3L646.1 958.0L646.8 958.1L647.4 957.9L648.1 957.5L648.8 957.3L649.5 957.9L650.2 956.6L650.9 955.9L651.6 955.9L652.2 955.9L652.9 955.6L653.6 955.4L654.3 956.6L655.0 954.2L655.7 952.7L656.3 952.5L657.0 952.7L657.7 953.6L658.4 955.3L659.1 957.1L659.8 955.9L660.5 955.7L661.1 956.1L661.8 956.2L662.5 956.8L663.2 956.7L663.9 957.9L664.6 956.7L665.2 956.6L665.9 957.3L666.6 957.4L667.3 957.5L668.0 957.7L668.7 958.4L669.4 957.4L670.0 957.5L670.7 957.8L671.4 958.0L672.1 958.1L672.8 958.3L673.5 958.7L674.2 958.2L674.8 958.4L675.5 958.5L676.2 958.5L676.9 958.5L677.6 958.7L678.3 958.9L678.9 958.7L679.6 958.6L680.3 958.7L681.0 958.9L681.7 958.9L682.4 959.0L683.1 959.1L683.7 958.9L684.4 958.8L685.1 958.8L685.8 958.9L686.5 958.8L687.2 958.9L687.9 959.0L688.5 958.7L689.2 958.7L689.9 958.6L690.6 958.7L691.3 958.6L692.0 958.6L692.6 958.8L693.3 958.5L694.0 958.4L694.7 958.4L695.4 958.5L696.1 958.5L696.8 958.5L697.4 958.8L698.1 958.2L698.8 958.3L699.5 958.3L700.2 958.3L700.9 958.2L701.6 958.2L702.2 958.7L702.9 958.0L703.6 957.9L704.3 958.1L705.0 958.2L705.7 958.1L706.3 958.0L707.0 958.5L707.7 958.0L708.4 957.9L709.1 958.1L709.8 957.9L710.5 958.1L711.1 958.1L711.8 958.5L712.5 958.0L713.2 957.9L713.9 958.0L714.6 958.1L715.3 958.0L715.9 958.2L716.6 958.6L717.3 957.8L718.0 957.9L718.7 958.0L719.4 957.9L720.0 958.0L720.7 957.9L721.4 958.3L722.1 957.8L722.8 957.7L723.5 957.6L724.2 957.8L724.8 957.6L725.5 957.8L726.2 958.4L726.9 957.4L727.6 957.4L728.3 957.6L729.0 957.5L729.6 957.5L730.3 957.7L731.0 958.3L731.7 957.3L732.4 957.4L733.1 957.5L733.7 957.4L734.4 957.7L735.1 957.6L735.8 958.3L736.5 957.4L737.2 957.5L737.9 957.6L738.5 957.5L739.2 957.6L739.9 957.7L740.6 958.4L741.3 957.5L742.0 957.6L742.6 957.6L743.3 957.7L744.0 957.9L744.7 957.8L745.4 958.3L746.1 957.6L746.8 957.5L747.4 957.8L748.1 957.9L748.8 958.0L749.5 957.9L750.2 958.4L750.9 957.6L751.6 957.6L752.2 957.5L752.9 957.8L753.6 957.5L754.3 957.7L755.0 958.2L755.7 957.2L756.3 957.4L757.0 957.5L757.7 957.5L758.4 957.6L759.1 957.4L759.8 957.9L760.5 956.6L761.1 956.5L761.8 956.3L762.5 956.5L763.2 955.9L763.9 956.3L764.6 957.2L765.3 955.4L765.9 954.8L766.6 954.8L767.3 954.8L768.0 955.4L768.7 955.3L769.4 956.6L770.0 954.5L770.7 953.6L771.4 954.8L772.1 954.4L772.8 954.2L773.5 954.2L774.2 956.5L774.8 953.8L775.5 953.4L776.2 955.0L776.9 955.4L777.6 955.5L778.3 956.7L779.0 957.8L779.6 956.8L780.3 956.8L781.0 957.2L781.7 957.4L782.4 957.2L783.1 957.6L783.7 958.3L784.4 957.7L785.1 957.8L785.8 958.0L786.5 958.2L787.2 958.3L787.9 958.4L788.5 958.9L789.2 958.6L789.9 958.5L790.6 958.6L791.3 958.7L792.0 958.7L792.7 958.7L793.3 959.0L794.0 958.6L794.7 958.6L795.4 958.6L796.1 958.6L796.8 958.6L797.4 958.7L798.1 958.9L798.8 958.6L799.5 958.5L800.2 958.4L800.9 958.4L801.6 958.3L802.2 958.3L802.9 958.5L803.6 957.9L804.3 957.7L805.0 957.7L805.7 957.5L806.4 957.5L807.0 957.4L807.7 957.9L808.4 956.7L809.1 956.5L809.8 956.8L810.5 956.6L811.1 956.7L811.8 956.3L812.5 957.4L813.2 955.8L813.9 955.8L814.6 955.7L815.3 955.6L815.9 955.4L816.6 955.0L817.3 956.5L818.0 954.5L818.7 954.3L819.4 954.6L820.0 953.8L820.7 954.3L821.4 954.0L822.1 955.8L822.8 952.8L823.5 954.0L824.2 954.0L824.8 954.1L825.5 954.6L826.2 954.2L826.9 956.4L827.6 953.6L828.3 953.9L829.0 954.7L829.6 954.6L830.3 954.9L831.0 955.5L831.7 956.8L832.4 954.5L833.1 955.2L833.7 955.3L834.4 955.4L835.1 955.5L835.8 956.2L836.5 957.1L837.2 955.8L837.9 955.6L838.5 955.9L839.2 956.5L839.9 956.6L840.6 956.9L841.3 957.7L842.0 956.6L842.7 956.8L843.3 956.5L844.0 956.7L844.7 956.5L845.4 956.4L846.1 957.4L846.8 955.7L847.4 955.5L848.1 954.6L848.8 954.3L849.5 953.6L850.2 953.2L850.9 955.5L851.6 951.3L852.2 950.2L852.9 951.3L853.6 950.1L854.3 949.8L855.0 949.2L855.7 952.5L856.4 947.9L857.0 946.0L857.7 947.4L858.4 946.1L859.1 945.8L859.8 947.9L860.5 951.7L861.1 946.3L861.8 946.4L862.5 948.2L863.2 949.3L863.9 949.6L864.6 950.6L865.3 954.4L865.9 950.0L866.6 951.4L867.3 952.6L868.0 953.1L868.7 953.4L869.4 954.3L870.1 955.9L870.7 953.4L871.4 953.9L872.1 954.3L872.8 955.4L873.5 955.5L874.2 956.0L874.8 957.4L875.5 955.8L876.2 956.1L876.9 956.1L877.6 956.3L878.3 956.5L879.0 956.9L879.6 957.8L880.3 956.9L881.0 956.8L881.7 956.8L882.4 957.1L883.1 957.3L883.8 957.3L884.4 958.1L885.1 957.1L885.8 957.1L886.5 957.0L887.2 957.4L887.9 957.4L888.5 957.4L889.2 957.9L889.9 956.5L890.6 956.2L891.3 956.2L892.0 956.1L892.7 956.0L893.3 955.5L894.0 956.2L894.7 953.2L895.4 951.5L896.1 952.2L896.8 951.4L897.5 950.1L898.1 949.9L898.8 952.4L899.5 943.7L900.2 944.9L900.9 944.3L901.6 943.5L902.2 941.1L902.9 942.2L903.6 948.0L904.3 934.5L905.0 933.6L905.7 934.2L906.4 932.8L907.0 931.7L907.7 933.0L908.4 941.5L909.1 926.3L909.8 923.9L910.5 924.2L911.1 928.9L911.8 929.0L912.5 926.9L913.2 940.4L913.9 921.7L914.6 921.5L915.3 923.1L915.9 922.6L916.6 924.7L917.3 931.1L918.0 939.4L918.7 924.7L919.4 924.9L920.1 928.5L920.7 930.7L921.4 929.8L922.1 933.8L922.8 944.5L923.5 933.7L924.2 934.6L924.8 937.8L925.5 937.8L926.2 940.7L926.9 942.7L927.6 949.0L928.3 941.4L929.0 939.9L929.6 943.8L930.3 944.2L931.0 944.5L931.7 947.0L932.4 952.4L933.1 946.0L933.8 947.2L934.4 950.5L935.1 950.9L935.8 951.2L936.5 951.8L937.2 955.2L937.9 952.0L938.5 953.2L939.2 953.6L939.9 954.8L940.6 955.2L941.3 955.3L942.0 956.9L942.7 955.3L943.3 955.9L944.0 956.5L944.7 956.7L945.4 957.2L946.1 957.3L946.8 958.1L947.5 957.5L948.1 957.5L948.8 957.6L949.5 957.9L950.2 958.0L950.9 958.2L951.6 958.6L952.2 958.0L952.9 958.2L953.6 958.5L954.3 958.4L955.0 958.5L955.7 958.6L956.4 958.9L957.0 958.4L957.7 958.5L958.4 958.7L959.1 958.6L959.8 958.7L960.5 958.8L961.2 959.0L961.8 958.7L962.5 958.7L963.2 958.8L963.9 958.9L964.6 958.9L965.3 958.9L965.9 959.1L966.6 958.9L967.3 958.9L968.0 958.9L968.7 959.0L969.4 959.0L970.1 959.0L970.7 959.1L971.4 959.0L972.1 959.0L972.8 959.0L973.5 959.0L974.2 959.0L974.9 959.0L975.5 959.2L976.2 959.1L976.9 959.1L977.6 959.0L978.3 959.1L979.0 959.1L979.6 959.1L980.3 959.2L981.0 959.1L981.7 959.1L982.4 959.1L983.1 959.1L983.8 959.1L984.4 959.2L985.1 959.2L985.8 959.1L986.5 959.2L987.2 959.2L987.9 959.2L988.5 959.1L989.2 959.1L989.9 959.2L990.6 959.1L991.3 959.1L992.0 959.0L992.7 959.1L993.3 959.0L994.0 959.1L994.7 959.1L995.4 959.0L996.1 959.0L996.8 959.0L997.5 959.0L998.1 958.9L998.8 958.9L999.5 959.1L1000.2 958.8L1000.9 958.8L1001.6 958.8L1002.2 958.7L1002.9 958.5L1003.6 958.4L1004.3 958.7L1005.0 958.0L1005.7 957.8L1006.4 957.7L1007.0 955.7L1007.7 953.3L1008.4 951.0L1009.1 944.5L1009.8 922.0L1010.5 917.4L1011.2 901.7L1011.8 876.5L1012.5 896.0L1013.2 896.1L1013.9 918.5L1014.6 875.0L1015.3 865.7L1015.9 879.8L1016.6 879.7L1017.3 884.8L1018.0 893.3L1018.7 917.1L1019.4 896.9L1020.1 887.0L1020.7 899.4L1021.4 899.3L1022.1 907.4L1022.8 905.0L1023.5 930.9L1024.2 905.0L1024.9 912.3L1025.5 916.6L1026.2 921.4L1026.9 923.4L1027.6 927.8L1028.3 941.0L1029.0 924.7L1029.6 927.3L1030.3 929.9L1031.0 927.6L1031.7 932.3L1032.4 934.9L1033.1 942.6L1033.8 926.2L1034.4 929.5L1035.1 927.6L1035.8 929.7L1036.5 929.4L1037.2 933.8L1037.9 943.0L1038.6 929.2L1039.2 927.7L1039.9 927.8L1040.6 930.6L1041.3 927.1L1042.0 928.6L1042.7 939.2L1043.3 920.1L1044.0 915.6L1044.7 922.3L1045.4 916.8L1046.1 920.9L1046.8 918.4L1047.5 935.4L1048.1 905.9L1048.8 912.6L1049.5 911.4L1050.2 920.4L1050.9 920.8L1051.6 921.8L1052.3 938.2L1052.9 921.3L1053.6 919.3L1054.3 919.1L1055.0 924.7L1055.7 926.3L1056.4 926.8L1057.0 935.3L1057.7 922.4L1058.4 918.2L1059.1 921.7L1059.8 920.2L1060.5 923.8L1061.2 922.3L1061.8 933.7L1062.5 912.3L1063.2 913.7L1063.9 916.4L1064.6 915.9L1065.3 919.6L1066.0 914.5L1066.6 930.3L1067.3 907.7L1068.0 904.0L1068.7 908.0L1069.4 908.3L1070.1 909.5L1070.7 906.8L1071.4 924.5L1072.1 894.9L1072.8 899.6L1073.5 893.1L1074.2 895.8L1074.9 894.2L1075.5 896.7L1076.2 915.3L1076.9 889.8L1077.6 883.7L1078.3 879.9L1079.0 886.2L1079.6 893.8L1080.3 892.1L1081.0 913.7L1081.7 885.6L1082.4 878.6L1083.1 893.6L1083.8 882.8L1084.4 890.7L1085.1 897.3L1085.8 913.5L1086.5 878.3L1087.2 872.8L1087.9 878.0L1088.6 880.2L1089.2 885.5L1089.9 881.9L1090.6 917.5L1091.3 863.3L1092.0 860.1L1092.7 868.3L1093.3 854.9L1094.0 858.9L1094.7 860.1L1095.4 888.9L1096.1 844.6L1096.8 839.4L1097.5 837.7L1098.1 855.9L1098.8 848.4L1099.5 850.7L1100.2 893.7L1100.9 847.3L1101.6 835.2L1102.3 843.3L1102.9 851.9L1103.6 861.6L1104.3 863.3L1105.0 900.3L1105.7 868.2L1106.4 867.0L1107.0 883.8L1107.7 894.2L1108.4 898.5L1109.1 896.4L1109.8 919.4L1110.5 897.6L1111.2 897.5L1111.50 959.3Z" fill="#4472c4" opacity=".5"/>
<path d="M528.6 816.9V959.3" stroke="#888" stroke-width="1" fill="none"/>
<path d="M528.6 959.3H1112.5" stroke="#888" stroke-width="1" fill="none"/>
<path d="M528.6 959.3v3" stroke="#888" stroke-width="1" fill="none"/>
<text transform="translate(531.8 966.0) rotate(-90)" font-size="8.5" text-anchor="end" fill="#333">2月1日</text>
<path d="M548.5 959.3v3" stroke="#888" stroke-width="1" fill="none"/>
<text transform="translate(551.7 966.0) rotate(-90)" font-size="8.5" text-anchor="end" fill="#333">3月1日</text>
<path d="M569.7 959.3v3" stroke="#888" stroke-width="1" fill="none"/>
<text transform="translate(572.9 966.0) rotate(-90)" font-size="8.5" text-anchor="end" fill="#333">4月1日</text>
<path d="M590.2 959.3v3" stroke="#888" stroke-width="1" fill="none"/>
<text transform="translate(593.4 966.0) rotate(-90)" font-size="8.5" text-anchor="end" fill="#333">5月1日</text>
<path d="M611.5 959.3v3" stroke="#888" stroke-width="1" fill="none"/>
<text transform="translate(614.7 966.0) rotate(-90)" font-size="8.5" text-anchor="end" fill="#333">6月1日</text>
<path d="M632.0 959.3v3" stroke="#888" stroke-width="1" fill="none"/>
<text transform="translate(635.2 966.0) rotate(-90)" font-size="8.5" text-anchor="end" fill="#333">7月1日</text>
<path d="M653.3 959.3v3" stroke="#888" stroke-width="1" fill="none"/>
<text transform="translate(656.5 966.0) rotate(-90)" font-size="8.5" text-anchor="end" fill="#333">8月1日</text>
<path d="M674.5 959.3v3" stroke="#888" stroke-width="1" fill="none"/>
<text transform="translate(677.7 966.0) rotate(-90)" font-size="8.5" text-anchor="end" fill="#333">9月1日</text>
<path d="M695.0 959.3v3" stroke="#888" stroke-width="1" fill="none"/>
<text transform="translate(698.2 966.0) rotate(-90)" font-size="8.5" text-anchor="end" fill="#333">10月1日</text>
<path d="M716.3 959.3v3" stroke="#888" stroke-width="1" fill="none"/>
<text transform="translate(719.5 966.0) rotate(-90)" font-size="8.5" text-anchor="end" fill="#333">11月1日</text>
<path d="M736.8 959.3v3" stroke="#888" stroke-width="1" fill="none"/>
<text transform="translate(740.0 966.0) rotate(-90)" font-size="8.5" text-anchor="end" fill="#333">12月1日</text>
<path d="M758.1 959.3v3" stroke="#888" stroke-width="1" fill="none"/>
<text transform="translate(761.3 966.0) rotate(-90)" font-size="8.5" text-anchor="end" fill="#333">1月1日</text>
<path d="M779.3 959.3v3" stroke="#888" stroke-width="1" fill="none"/>
<text transform="translate(782.5 966.0) rotate(-90)" font-size="8.5" text-anchor="end" fill="#333">2月1日</text>
<path d="M798.5 959.3v3" stroke="#888" stroke-width="1" fill="none"/>
<text transform="translate(801.7 966.0) rotate(-90)" font-size="8.5" text-anchor="end" fill="#333">3月1日</text>
<path d="M819.7 959.3v3" stroke="#888" stroke-width="1" fill="none"/>
<text transform="translate(822.9 966.0) rotate(-90)" font-size="8.5" text-anchor="end" fill="#333">4月1日</text>
<path d="M840.3 959.3v3" stroke="#888" stroke-width="1" fill="none"/>
<text transform="translate(843.5 966.0) rotate(-90)" font-size="8.5" text-anchor="end" fill="#333">5月1日</text>
<path d="M861.5 959.3v3" stroke="#888" stroke-width="1" fill="none"/>
<text transform="translate(864.7 966.0) rotate(-90)" font-size="8.5" text-anchor="end" fill="#333">6月1日</text>
<path d="M882.0 959.3v3" stroke="#888" stroke-width="1" fill="none"/>
<text transform="translate(885.2 966.0) rotate(-90)" font-size="8.5" text-anchor="end" fill="#333">7月1日</text>
<path d="M903.3 959.3v3" stroke="#888" stroke-width="1" fill="none"/>
<text transform="translate(906.5 966.0) rotate(-90)" font-size="8.5" text-anchor="end" fill="#333">8月1日</text>
<path d="M924.5 959.3v3" stroke="#888" stroke-width="1" fill="none"/>
<text transform="translate(927.7 966.0) rotate(-90)" font-size="8.5" text-anchor="end" fill="#333">9月1日</text>
<path d="M945.1 959.3v3" stroke="#888" stroke-width="1" fill="none"/>
<text transform="translate(948.3 966.0) rotate(-90)" font-size="8.5" text-anchor="end" fill="#333">10月1日</text>
<path d="M966.3 959.3v3" stroke="#888" stroke-width="1" fill="none"/>
<text transform="translate(969.5 966.0) rotate(-90)" font-size="8.5" text-anchor="end" fill="#333">11月1日</text>
<path d="M986.8 959.3v3" stroke="#888" stroke-width="1" fill="none"/>
<text transform="translate(990.0 966.0) rotate(-90)" font-size="8.5" text-anchor="end" fill="#333">12月1日</text>
<path d="M1008.1 959.3v3" stroke="#888" stroke-width="1" fill="none"/>
<text transform="translate(1011.3 966.0) rotate(-90)" font-size="8.5" text-anchor="end" fill="#333">1月1日</text>
<path d="M1029.3 959.3v3" stroke="#888" stroke-width="1" fill="none"/>
<text transform="translate(1032.5 966.0) rotate(-90)" font-size="8.5" text-anchor="end" fill="#333">2月1日</text>
<path d="M1048.5 959.3v3" stroke="#888" stroke-width="1" fill="none"/>
<text transform="translate(1051.7 966.0) rotate(-90)" font-size="8.5" text-anchor="end" fill="#333">3月1日</text>
<path d="M1069.7 959.3v3" stroke="#888" stroke-width="1" fill="none"/>
<text transform="translate(1072.9 966.0) rotate(-90)" font-size="8.5" text-anchor="end" fill="#333">4月1日</text>
<path d="M1090.3 959.3v3" stroke="#888" stroke-width="1" fill="none"/>
<text transform="translate(1093.5 966.0) rotate(-90)" font-size="8.5" text-anchor="end" fill="#333">5月1日</text>
<path d="M1111.5 959.3v3" stroke="#888" stroke-width="1" fill="none"/>
<text transform="translate(1114.7 966.0) rotate(-90)" font-size="8.5" text-anchor="end" fill="#333">6月1日</text>
<text x="810.2" y="798.5" font-size="12" text-anchor="middle" fill="#333" textLength="184" lengthAdjust="spacingAndGlyphs" xml:space="preserve">確定日別  陽性者数（n=215249）</text>
<text transform="translate(492.5 888.0) rotate(-90)" font-size="6.6" text-anchor="middle" fill="#333">人数</text>
<path d="M535.6 1196.3h3" stroke="#888" stroke-width="1" fill="none"/>
<text x="532.0" y="1200.1" font-size="8.2" text-anchor="end" fill="#444">0</text>
<path d="M538.6 1167.9H1114.0" stroke="#e3e3e3" stroke-width="1" fill="none"/>
<path d="M535.6 1167.9h3" stroke="#888" stroke-width="1" fill="none"/>
<text x="532.0" y="1171.7" font-size="8.2" text-anchor="end" fill="#444">50000</text>
<path d="M538.6 1139.5H1114.0" stroke="#e3e3e3" stroke-width="1" fill="none"/>
<path d="M535.6 1139.5h3" stroke="#888" stroke-width="1" fill="none"/>
<text x="532.0" y="1143.3" font-size="8.2" text-anchor="end" fill="#444">100000</text>
<path d="M538.6 1111.1H1114.0" stroke="#e3e3e3" stroke-width="1" fill="none"/>
<path d="M535.6 1111.1h3" stroke="#888" stroke-width="1" fill="none"/>
<text x="532.0" y="1114.9" font-size="8.2" text-anchor="end" fill="#444">150000</text>
<path d="M538.6 1082.7H1114.0" stroke="#e3e3e3" stroke-width="1" fill="none"/>
<path d="M535.6 1082.7h3" stroke="#888" stroke-width="1" fill="none"/>
<text x="532.0" y="1086.5" font-size="8.2" text-anchor="end" fill="#444">200000</text>
<path d="M538.6 1054.3H1114.0" stroke="#e3e3e3" stroke-width="1" fill="none"/>
<path d="M535.6 1054.3h3" stroke="#888" stroke-width="1" fill="none"/>
<text x="532.0" y="1058.1" font-size="8.2" text-anchor="end" fill="#444">250000</text>
<path d="M538.60 1196.3L538.9 1196.3L539.6 1196.3L540.3 1196.3L541.0 1196.3L541.6 1196.3L542.3 1196.3L543.0 1196.3L543.7 1196.3L544.3 1196.3L545.0 1196.3L545.7 1196.3L546.4 1196.3L547.0 1196.3L547.7 1196.3L548.4 1196.3L549.0 1196.3L549.7 1196.3L550.4 1196.3L551.1 1196.3L551.7 1196.3L552.4 1196.3L553.1 1196.3L553.8 1196.3L554.4 1196.3L555.1 1196.3L555.8 1196.3L556.5 1196.3L557.1 1196.3L557.8 1196.3L558.5 1196.3L559.2 1196.3L559.8 1196.3L560.5 1196.3L561.2 1196.3L561.9 1196.3L562.5 1196.3L563.2 1196.3L563.9 1196.3L564.6 1196.3L565.2 1196.3L565.9 1196.3L566.6 1196.3L567.2 1196.3L567.9 1196.3L568.6 1196.3L569.3 1196.3L569.9 1196.3L570.6 1196.3L571.3 1196.3L572.0 1196.3L572.6 1196.3L573.3 1196.3L574.0 1196.3L574.7 1196.3L575.3 1196.3L576.0 1196.3L576.7 1196.3L577.4 1196.3L578.0 1196.3L578.7 1196.3L579.4 1196.3L580.1 1196.3L580.7 1196.3L581.4 1196.3L582.1 1196.3L582.7 1196.3L583.4 1196.3L584.1 1196.3L584.8 1196.3L585.4 1196.3L586.1 1196.3L586.8 1196.3L587.5 1196.3L588.1 1196.3L588.8 1196.3L589.5 1196.3L590.2 1196.3L590.8 1196.3L591.5 1196.3L592.2 1196.3L592.9 1196.3L593.5 1196.3L594.2 1196.3L594.9 1196.3L595.6 1196.3L596.2 1196.3L596.9 1196.3L597.6 1196.3L598.3 1196.3L598.9 1196.3L599.6 1196.3L600.3 1196.3L600.9 1196.3L601.6 1196.3L602.3 1196.3L603.0 1196.3L603.6 1196.3L604.3 1196.3L605.0 1196.3L605.7 1196.3L606.3 1196.2L607.0 1196.2L607.7 1196.2L608.4 1196.2L609.0 1196.2L609.7 1196.2L610.4 1196.2L611.1 1196.2L611.7 1196.2L612.4 1196.2L613.1 1196.2L613.8 1196.2L614.4 1196.2L615.1 1196.2L615.8 1196.2L616.5 1196.2L617.1 1196.2L617.8 1196.2L618.5 1196.2L619.1 1196.2L619.8 1196.2L620.5 1196.2L621.2 1196.2L621.8 1196.2L622.5 1196.2L623.2 1196.2L623.9 1196.2L624.5 1196.2L625.2 1196.2L625.9 1196.2L626.6 1196.2L627.2 1196.2L627.9 1196.2L628.6 1196.2L629.3 1196.2L629.9 1196.2L630.6 1196.2L631.3 1196.2L632.0 1196.2L632.6 1196.2L633.3 1196.2L634.0 1196.2L634.6 1196.2L635.3 1196.2L636.0 1196.2L636.7 1196.2L637.3 1196.2L638.0 1196.2L638.7 1196.2L639.4 1196.2L640.0 1196.2L640.7 1196.2L641.4 1196.2L642.1 1196.2L642.7 1196.2L643.4 1196.2L644.1 1196.2L644.8 1196.2L645.4 1196.2L646.1 1196.2L646.8 1196.2L647.5 1196.2L648.1 1196.2L648.8 1196.2L649.5 1196.2L650.2 1196.2L650.8 1196.2L651.5 1196.2L652.2 1196.2L652.8 1196.2L653.5 1196.2L654.2 1196.2L654.9 1196.2L655.5 1196.1L656.2 1196.1L656.9 1196.1L657.6 1196.1L658.2 1196.0L658.9 1196.0L659.6 1196.0L660.3 1196.0L660.9 1195.9L661.6 1195.9L662.3 1195.9L663.0 1195.9L663.6 1195.8L664.3 1195.8L665.0 1195.8L665.7 1195.8L666.3 1195.8L667.0 1195.7L667.7 1195.7L668.4 1195.7L669.0 1195.7L669.7 1195.6L670.4 1195.6L671.0 1195.6L671.7 1195.6L672.4 1195.5L673.1 1195.5L673.7 1195.5L674.4 1195.5L675.1 1195.4L675.8 1195.4L676.4 1195.4L677.1 1195.4L677.8 1195.3L678.5 1195.3L679.1 1195.3L679.8 1195.3L680.5 1195.2L681.2 1195.2L681.8 1195.2L682.5 1195.2L683.2 1195.2L683.9 1195.1L684.5 1195.1L685.2 1195.1L685.9 1195.1L686.5 1195.1L687.2 1195.1L687.9 1195.1L688.6 1195.1L689.2 1195.1L689.9 1195.1L690.6 1195.1L691.3 1195.0L691.9 1195.0L692.6 1195.0L693.3 1195.0L694.0 1195.0L694.6 1195.0L695.3 1195.0L696.0 1195.0L696.7 1195.0L697.3 1195.0L698.0 1194.9L698.7 1194.9L699.4 1194.9L700.0 1194.9L700.7 1194.9L701.4 1194.9L702.1 1194.9L702.7 1194.9L703.4 1194.9L704.1 1194.8L704.7 1194.8L705.4 1194.8L706.1 1194.8L706.8 1194.8L707.4 1194.8L708.1 1194.7L708.8 1194.7L709.5 1194.7L710.1 1194.7L710.8 1194.7L711.5 1194.7L712.2 1194.6L712.8 1194.6L713.5 1194.6L714.2 1194.6L714.9 1194.6L715.5 1194.6L716.2 1194.5L716.9 1194.5L717.6 1194.5L718.2 1194.5L718.9 1194.5L719.6 1194.4L720.3 1194.4L720.9 1194.4L721.6 1194.4L722.3 1194.4L722.9 1194.4L723.6 1194.3L724.3 1194.3L725.0 1194.3L725.6 1194.3L726.3 1194.3L727.0 1194.3L727.7 1194.2L728.3 1194.2L729.0 1194.2L729.7 1194.2L730.4 1194.2L731.0 1194.2L731.7 1194.1L732.4 1194.1L733.1 1194.1L733.7 1194.1L734.4 1194.1L735.1 1194.1L735.8 1194.0L736.4 1194.0L737.1 1194.0L737.8 1194.0L738.5 1194.0L739.1 1193.9L739.8 1193.9L740.5 1193.9L741.1 1193.9L741.8 1193.9L742.5 1193.9L743.2 1193.8L743.8 1193.8L744.5 1193.8L745.2 1193.8L745.9 1193.8L746.5 1193.8L747.2 1193.7L747.9 1193.7L748.6 1193.7L749.2 1193.7L749.9 1193.7L750.6 1193.7L751.3 1193.6L751.9 1193.6L752.6 1193.6L753.3 1193.6L754.0 1193.6L754.6 1193.5L755.3 1193.5L756.0 1193.5L756.6 1193.5L757.3 1193.5L758.0 1193.5L758.7 1193.4L759.3 1193.4L760.0 1193.4L760.7 1193.4L761.4 1193.4L762.0 1193.4L762.7 1193.3L763.4 1193.3L764.1 1193.3L764.7 1193.3L765.4 1193.2L766.1 1193.2L766.8 1193.2L767.4 1193.1L768.1 1193.1L768.8 1193.0L769.5 1193.0L770.1 1192.9L770.8 1192.9L771.5 1192.8L772.2 1192.8L772.8 1192.7L773.5 1192.7L774.2 1192.6L774.8 1192.6L775.5 1192.6L776.2 1192.5L776.9 1192.5L777.5 1192.4L778.2 1192.4L778.9 1192.3L779.6 1192.3L780.2 1192.2L780.9 1192.2L781.6 1192.1L782.3 1192.1L782.9 1192.1L783.6 1192.0L784.3 1192.0L785.0 1191.9L785.6 1191.9L786.3 1191.9L787.0 1191.8L787.7 1191.8L788.3 1191.8L789.0 1191.8L789.7 1191.8L790.4 1191.8L791.0 1191.8L791.7 1191.8L792.4 1191.8L793.0 1191.8L793.7 1191.7L794.4 1191.7L795.1 1191.7L795.7 1191.7L796.4 1191.7L797.1 1191.7L797.8 1191.7L798.4 1191.7L799.1 1191.7L799.8 1191.7L800.5 1191.6L801.1 1191.6L801.8 1191.6L802.5 1191.6L803.2 1191.6L803.8 1191.6L804.5 1191.6L805.2 1191.6L805.9 1191.5L806.5 1191.5L807.2 1191.5L807.9 1191.5L808.5 1191.5L809.2 1191.4L809.9 1191.4L810.6 1191.4L811.2 1191.4L811.9 1191.3L812.6 1191.3L813.3 1191.3L813.9 1191.3L814.6 1191.3L815.3 1191.2L816.0 1191.2L816.6 1191.2L817.3 1191.2L818.0 1191.1L818.7 1191.1L819.3 1191.1L820.0 1191.1L820.7 1191.1L821.4 1191.0L822.0 1191.0L822.7 1191.0L823.4 1191.0L824.1 1190.9L824.7 1190.9L825.4 1190.9L826.1 1190.8L826.7 1190.8L827.4 1190.7L828.1 1190.7L828.8 1190.6L829.4 1190.6L830.1 1190.5L830.8 1190.4L831.5 1190.4L832.1 1190.3L832.8 1190.3L833.5 1190.2L834.2 1190.2L834.8 1190.1L835.5 1190.1L836.2 1190.0L836.9 1189.9L837.5 1189.9L838.2 1189.8L838.9 1189.8L839.6 1189.7L840.2 1189.7L840.9 1189.6L841.6 1189.5L842.3 1189.5L842.9 1189.4L843.6 1189.4L844.3 1189.3L844.9 1189.3L845.6 1189.2L846.3 1189.1L847.0 1189.0L847.6 1188.9L848.3 1188.8L849.0 1188.7L849.7 1188.5L850.3 1188.4L851.0 1188.3L851.7 1188.2L852.4 1188.1L853.0 1188.0L853.7 1187.9L854.4 1187.8L855.1 1187.7L855.7 1187.6L856.4 1187.4L857.1 1187.3L857.8 1187.2L858.4 1187.1L859.1 1187.0L859.8 1186.9L860.4 1186.8L861.1 1186.7L861.8 1186.6L862.5 1186.5L863.1 1186.3L863.8 1186.2L864.5 1186.1L865.2 1186.0L865.8 1185.9L866.5 1185.8L867.2 1185.8L867.9 1185.7L868.5 1185.7L869.2 1185.6L869.9 1185.6L870.6 1185.6L871.2 1185.5L871.9 1185.5L872.6 1185.5L873.3 1185.4L873.9 1185.4L874.6 1185.3L875.3 1185.3L876.0 1185.3L876.6 1185.2L877.3 1185.2L878.0 1185.1L878.6 1185.1L879.3 1185.1L880.0 1185.0L880.7 1185.0L881.3 1185.0L882.0 1184.9L882.7 1184.9L883.4 1184.8L884.0 1184.8L884.7 1184.8L885.4 1184.7L886.1 1184.7L886.7 1184.7L887.4 1184.6L888.1 1184.6L888.8 1184.6L889.4 1184.5L890.1 1184.5L890.8 1184.5L891.5 1184.4L892.1 1184.4L892.8 1184.4L893.5 1184.4L894.2 1184.3L894.8 1184.3L895.5 1184.3L896.2 1184.2L896.8 1184.2L897.5 1184.2L898.2 1184.1L898.9 1184.1L899.5 1184.1L900.2 1183.9L900.9 1183.8L901.6 1183.6L902.2 1183.4L902.9 1183.3L903.6 1183.1L904.3 1182.9L904.9 1182.8L905.6 1182.6L906.3 1182.4L907.0 1182.3L907.6 1182.1L908.3 1181.8L909.0 1181.4L909.7 1181.1L910.3 1180.7L911.0 1180.4L911.7 1180.0L912.3 1179.7L913.0 1179.3L913.7 1179.0L914.4 1178.6L915.0 1178.3L915.7 1177.9L916.4 1177.6L917.1 1177.2L917.7 1176.9L918.4 1176.6L919.1 1176.3L919.8 1176.0L920.4 1175.7L921.1 1175.3L921.8 1175.0L922.5 1174.7L923.1 1174.4L923.8 1174.1L924.5 1173.8L925.2 1173.5L925.8 1173.1L926.5 1172.8L927.2 1172.5L927.9 1172.2L928.5 1171.9L929.2 1171.7L929.9 1171.5L930.5 1171.3L931.2 1171.1L931.9 1170.9L932.6 1170.7L933.2 1170.6L933.9 1170.4L934.6 1170.2L935.3 1170.0L935.9 1169.8L936.6 1169.6L937.3 1169.5L938.0 1169.4L938.6 1169.4L939.3 1169.3L940.0 1169.2L940.7 1169.1L941.3 1169.1L942.0 1169.0L942.7 1168.9L943.4 1168.8L944.0 1168.7L944.7 1168.7L945.4 1168.6L946.1 1168.5L946.7 1168.4L947.4 1168.3L948.1 1168.3L948.7 1168.2L949.4 1168.2L950.1 1168.2L950.8 1168.1L951.4 1168.1L952.1 1168.1L952.8 1168.1L953.5 1168.1L954.1 1168.1L954.8 1168.1L955.5 1168.1L956.2 1168.0L956.8 1168.0L957.5 1168.0L958.2 1168.0L958.9 1168.0L959.5 1168.0L960.2 1168.0L960.9 1168.0L961.6 1167.9L962.2 1167.9L962.9 1167.9L963.6 1167.9L964.3 1167.9L964.9 1167.9L965.6 1167.9L966.3 1167.9L966.9 1167.8L967.6 1167.8L968.3 1167.8L969.0 1167.8L969.6 1167.8L970.3 1167.8L971.0 1167.8L971.7 1167.8L972.3 1167.8L973.0 1167.8L973.7 1167.8L974.4 1167.8L975.0 1167.8L975.7 1167.8L976.4 1167.8L977.1 1167.8L977.7 1167.8L978.4 1167.8L979.1 1167.7L979.8 1167.7L980.4 1167.7L981.1 1167.7L981.8 1167.7L982.4 1167.7L983.1 1167.7L983.8 1167.7L984.5 1167.7L985.1 1167.7L985.8 1167.7L986.5 1167.7L987.2 1167.7L987.8 1167.7L988.5 1167.7L989.2 1167.7L989.9 1167.7L990.5 1167.7L991.2 1167.7L991.9 1167.7L992.6 1167.7L993.2 1167.7L993.9 1167.7L994.6 1167.7L995.3 1167.7L995.9 1167.7L996.6 1167.7L997.3 1167.7L998.0 1167.7L998.6 1167.7L999.3 1167.7L1000.0 1167.7L1000.6 1167.7L1001.3 1167.7L1002.0 1167.7L1002.7 1167.6L1003.3 1167.6L1004.0 1167.6L1004.7 1167.6L1005.4 1167.6L1006.0 1167.6L1006.7 1167.6L1007.4 1167.6L1008.1 1167.6L1008.7 1167.6L1009.4 1167.6L1010.1 1167.6L1010.8 1167.6L1011.4 1167.3L1012.1 1167.0L1012.8 1166.8L1013.5 1166.0L1014.1 1165.1L1014.8 1164.3L1015.5 1163.5L1016.2 1162.7L1016.8 1161.9L1017.5 1161.1L1018.2 1160.5L1018.8 1159.8L1019.5 1159.2L1020.2 1158.6L1020.9 1158.0L1021.5 1157.3L1022.2 1156.7L1022.9 1156.1L1023.6 1155.5L1024.2 1154.8L1024.9 1154.4L1025.6 1153.9L1026.3 1153.4L1026.9 1153.0L1027.6 1152.5L1028.3 1152.0L1029.0 1151.6L1029.6 1151.1L1030.3 1150.7L1031.0 1150.2L1031.7 1149.7L1032.3 1149.4L1033.0 1149.0L1033.7 1148.6L1034.3 1148.3L1035.0 1147.9L1035.7 1147.5L1036.4 1147.2L1037.0 1146.8L1037.7 1146.4L1038.4 1146.1L1039.1 1145.7L1039.7 1145.3L1040.4 1145.0L1041.1 1144.6L1041.8 1144.3L1042.4 1144.0L1043.1 1143.6L1043.8 1143.3L1044.5 1143.0L1045.1 1142.7L1045.8 1142.3L1046.5 1142.0L1047.2 1141.7L1047.8 1141.4L1048.5 1141.0L1049.2 1140.7L1049.9 1140.4L1050.5 1140.1L1051.2 1139.7L1051.9 1139.4L1052.5 1139.0L1053.2 1138.6L1053.9 1138.3L1054.6 1137.9L1055.2 1137.6L1055.9 1137.2L1056.6 1136.9L1057.3 1136.5L1057.9 1136.2L1058.6 1135.8L1059.3 1135.5L1060.0 1135.1L1060.6 1134.7L1061.3 1134.4L1062.0 1134.0L1062.7 1133.6L1063.3 1133.3L1064.0 1132.9L1064.7 1132.5L1065.4 1132.1L1066.0 1131.7L1066.7 1131.4L1067.4 1131.0L1068.1 1130.6L1068.7 1130.2L1069.4 1129.8L1070.1 1129.5L1070.7 1129.1L1071.4 1128.7L1072.1 1128.0L1072.8 1127.3L1073.4 1126.7L1074.1 1126.0L1074.8 1125.3L1075.5 1124.6L1076.1 1123.9L1076.8 1123.3L1077.5 1122.6L1078.2 1121.9L1078.8 1121.1L1079.5 1120.3L1080.2 1119.5L1080.9 1118.7L1081.5 1117.9L1082.2 1117.1L1082.9 1116.3L1083.6 1115.5L1084.2 1114.7L1084.9 1113.9L1085.6 1113.1L1086.2 1112.2L1086.9 1111.4L1087.6 1110.5L1088.3 1109.7L1088.9 1108.8L1089.6 1108.0L1090.3 1107.1L1091.0 1106.3L1091.6 1105.4L1092.3 1104.5L1093.0 1103.5L1093.7 1102.6L1094.3 1101.6L1095.0 1100.7L1095.7 1099.7L1096.4 1098.3L1097.0 1096.9L1097.7 1095.5L1098.4 1094.1L1099.1 1092.6L1099.7 1091.2L1100.4 1090.0L1101.1 1088.8L1101.8 1087.6L1102.4 1086.4L1103.1 1085.2L1103.8 1084.0L1104.4 1082.8L1105.1 1081.6L1105.8 1080.7L1106.5 1079.9L1107.1 1079.0L1107.8 1078.2L1108.5 1077.3L1109.2 1076.5L1109.8 1075.8L1110.5 1075.2L1111.2 1074.6L1111.9 1074.0L1112.20 1196.3Z" fill="#4472c4"/>
<path d="M538.6 1054.3V1196.3" stroke="#888" stroke-width="1" fill="none"/>
<path d="M538.6 1196.3H1113.2" stroke="#888" stroke-width="1" fill="none"/>
<path d="M538.6 1196.3v3" stroke="#888" stroke-width="1" fill="none"/>
<text transform="translate(541.8 1203.0) rotate(-90)" font-size="8.5" text-anchor="end" fill="#333">2月1日</text>
<path d="M558.1 1196.3v3" stroke="#888" stroke-width="1" fill="none"/>
<text transform="translate(561.3 1203.0) rotate(-90)" font-size="8.5" text-anchor="end" fill="#333">3月1日</text>
<path d="M579.0 1196.3v3" stroke="#888" stroke-width="1" fill="none"/>
<text transform="translate(582.2 1203.0) rotate(-90)" font-size="8.5" text-anchor="end" fill="#333">4月1日</text>
<path d="M599.3 1196.3v3" stroke="#888" stroke-width="1" fill="none"/>
<text transform="translate(602.5 1203.0) rotate(-90)" font-size="8.5" text-anchor="end" fill="#333">5月1日</text>
<path d="M620.2 1196.3v3" stroke="#888" stroke-width="1" fill="none"/>
<text transform="translate(623.4 1203.0) rotate(-90)" font-size="8.5" text-anchor="end" fill="#333">6月1日</text>
<path d="M640.4 1196.3v3" stroke="#888" stroke-width="1" fill="none"/>
<text transform="translate(643.6 1203.0) rotate(-90)" font-size="8.5" text-anchor="end" fill="#333">7月1日</text>
<path d="M661.3 1196.3v3" stroke="#888" stroke-width="1" fill="none"/>
<text transform="translate(664.5 1203.0) rotate(-90)" font-size="8.5" text-anchor="end" fill="#333">8月1日</text>
<path d="M682.2 1196.3v3" stroke="#888" stroke-width="1" fill="none"/>
<text transform="translate(685.4 1203.0) rotate(-90)" font-size="8.5" text-anchor="end" fill="#333">9月1日</text>
<path d="M702.4 1196.3v3" stroke="#888" stroke-width="1" fill="none"/>
<text transform="translate(705.6 1203.0) rotate(-90)" font-size="8.5" text-anchor="end" fill="#333">10月1日</text>
<path d="M723.3 1196.3v3" stroke="#888" stroke-width="1" fill="none"/>
<text transform="translate(726.5 1203.0) rotate(-90)" font-size="8.5" text-anchor="end" fill="#333">11月1日</text>
<path d="M743.5 1196.3v3" stroke="#888" stroke-width="1" fill="none"/>
<text transform="translate(746.7 1203.0) rotate(-90)" font-size="8.5" text-anchor="end" fill="#333">12月1日</text>
<path d="M764.4 1196.3v3" stroke="#888" stroke-width="1" fill="none"/>
<text transform="translate(767.6 1203.0) rotate(-90)" font-size="8.5" text-anchor="end" fill="#333">1月1日</text>
<path d="M785.3 1196.3v3" stroke="#888" stroke-width="1" fill="none"/>
<text transform="translate(788.5 1203.0) rotate(-90)" font-size="8.5" text-anchor="end" fill="#333">2月1日</text>
<path d="M804.2 1196.3v3" stroke="#888" stroke-width="1" fill="none"/>
<text transform="translate(807.4 1203.0) rotate(-90)" font-size="8.5" text-anchor="end" fill="#333">3月1日</text>
<path d="M825.1 1196.3v3" stroke="#888" stroke-width="1" fill="none"/>
<text transform="translate(828.3 1203.0) rotate(-90)" font-size="8.5" text-anchor="end" fill="#333">4月1日</text>
<path d="M845.3 1196.3v3" stroke="#888" stroke-width="1" fill="none"/>
<text transform="translate(848.5 1203.0) rotate(-90)" font-size="8.5" text-anchor="end" fill="#333">5月1日</text>
<path d="M866.2 1196.3v3" stroke="#888" stroke-width="1" fill="none"/>
<text transform="translate(869.4 1203.0) rotate(-90)" font-size="8.5" text-anchor="end" fill="#333">6月1日</text>
<path d="M886.4 1196.3v3" stroke="#888" stroke-width="1" fill="none"/>
<text transform="translate(889.6 1203.0) rotate(-90)" font-size="8.5" text-anchor="end" fill="#333">7月1日</text>
<path d="M907.3 1196.3v3" stroke="#888" stroke-width="1" fill="none"/>
<text transform="translate(910.5 1203.0) rotate(-90)" font-size="8.5" text-anchor="end" fill="#333">8月1日</text>
<path d="M928.2 1196.3v3" stroke="#888" stroke-width="1" fill="none"/>
<text transform="translate(931.4 1203.0) rotate(-90)" font-size="8.5" text-anchor="end" fill="#333">9月1日</text>
<path d="M948.4 1196.3v3" stroke="#888" stroke-width="1" fill="none"/>
<text transform="translate(951.6 1203.0) rotate(-90)" font-size="8.5" text-anchor="end" fill="#333">10月1日</text>
<path d="M969.3 1196.3v3" stroke="#888" stroke-width="1" fill="none"/>
<text transform="translate(972.5 1203.0) rotate(-90)" font-size="8.5" text-anchor="end" fill="#333">11月1日</text>
<path d="M989.5 1196.3v3" stroke="#888" stroke-width="1" fill="none"/>
<text transform="translate(992.7 1203.0) rotate(-90)" font-size="8.5" text-anchor="end" fill="#333">12月1日</text>
<path d="M1010.4 1196.3v3" stroke="#888" stroke-width="1" fill="none"/>
<text transform="translate(1013.6 1203.0) rotate(-90)" font-size="8.5" text-anchor="end" fill="#333">1月1日</text>
<path d="M1031.3 1196.3v3" stroke="#888" stroke-width="1" fill="none"/>
<text transform="translate(1034.5 1203.0) rotate(-90)" font-size="8.5" text-anchor="end" fill="#333">2月1日</text>
<path d="M1050.2 1196.3v3" stroke="#888" stroke-width="1" fill="none"/>
<text transform="translate(1053.4 1203.0) rotate(-90)" font-size="8.5" text-anchor="end" fill="#333">3月1日</text>
<path d="M1071.1 1196.3v3" stroke="#888" stroke-width="1" fill="none"/>
<text transform="translate(1074.3 1203.0) rotate(-90)" font-size="8.5" text-anchor="end" fill="#333">4月1日</text>
<path d="M1091.3 1196.3v3" stroke="#888" stroke-width="1" fill="none"/>
<text transform="translate(1094.5 1203.0) rotate(-90)" font-size="8.5" text-anchor="end" fill="#333">5月1日</text>
<path d="M1112.2 1196.3v3" stroke="#888" stroke-width="1" fill="none"/>
<text transform="translate(1115.4 1203.0) rotate(-90)" font-size="8.5" text-anchor="end" fill="#333">6月1日</text>
<text x="799.7" y="1036.0" font-size="12" text-anchor="middle" fill="#333" textLength="153" lengthAdjust="spacingAndGlyphs" xml:space="preserve">累積陽性者数（n=215249）</text>
<text transform="translate(492.5 1124.0) rotate(-90)" font-size="6.6" text-anchor="middle" fill="#333">人数</text>
</svg>
</body></html>
